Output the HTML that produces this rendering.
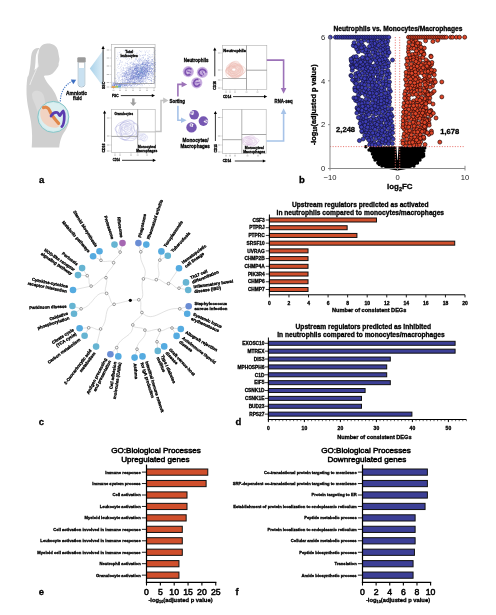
<!DOCTYPE html>
<html><head><meta charset="utf-8"><title>Figure</title><style>
html,body{margin:0;padding:0;background:#fff;}
body{width:496px;height:615px;overflow:hidden;}
svg{display:block;will-change:transform;}
text{font-family:"Liberation Sans",sans-serif;stroke:#000;stroke-width:0.3px;}
</style></head><body>
<svg width="496" height="615" viewBox="0 0 496 615">
<rect width="496" height="615" fill="#fff"/>
<text x="39.00" y="182.60" font-size="9.5" font-weight="bold" text-anchor="start" fill="#000" >a</text>
<text x="299.00" y="182.60" font-size="9.5" font-weight="bold" text-anchor="start" fill="#000" >b</text>
<text x="38.70" y="425.40" font-size="9.5" font-weight="bold" text-anchor="start" fill="#000" >c</text>
<text x="235.50" y="425.40" font-size="9.5" font-weight="bold" text-anchor="start" fill="#000" >d</text>
<text x="38.70" y="594.60" font-size="9.5" font-weight="bold" text-anchor="start" fill="#000" >e</text>
<text x="235.40" y="594.60" font-size="9.5" font-weight="bold" text-anchor="start" fill="#000" >f</text>
<defs>
<linearGradient id="fan" x1="0" y1="0" x2="1" y2="0"><stop offset="0" stop-color="#a9d2ea"/><stop offset="1" stop-color="#dcedf7"/></linearGradient>
<marker id="ah" viewBox="0 0 10 10" refX="8" refY="5" markerWidth="4" markerHeight="4" orient="auto"><path d="M0,0 L10,5 L0,10 z" fill="#000"/></marker>
</defs>
<path d="M47.2,43.4 C52.5,43.1 56.6,45.6 57.8,50 C58.5,53 58.9,56 59.4,58.5 C59.6,60.5 59,62 58.6,63.5 C59,65.5 58,67 56.8,68.4 C55.5,70.5 53,73.5 50.5,74.8 C48.5,75.6 45.5,75.4 43.8,76 C44.5,78 45.5,80 46.8,82 C49,85 51.5,87.5 53,90 C54.8,92.5 56,95 56.8,97.5 C57.5,100 58.5,101.5 60,103 C66,107 69.5,114 68.8,121.5 C68.2,127 64.5,131.5 62,136 C60.5,139.5 59.5,143.5 59.2,147.4 L31.7,147.4 C32.3,140 32.4,132 31,122 C29.5,113 27.8,107 27,100 C26.2,93 26.3,84 27.5,77 C30.5,72.5 35,70 38.5,66.5 C37.8,61 37.6,55 38.8,50.5 C40.4,46 43.3,43.7 47.2,43.6 Z" fill="#cfcfcf"/>
<path d="M39.5,48.2 C36,47.6 33,49.5 31.8,53 C30.6,57 31,63 30,68 C29,74 27.5,80 26.8,86.5 C29.5,82 32.5,76 34.3,71 C35.6,66 35.4,61 35.8,57 C36.1,53.6 37.5,50.5 39.5,48.2 Z" fill="#cfcfcf"/>
<path d="M38.2,50.5 C37,56 37.2,62 37.4,66.3 C36.5,70 33,76 29.8,85" stroke="#f4f4f4" stroke-width="0.8" fill="none"/>
<path d="M32,95 C32,91 36,90 39,91 C42,92 44,94 44.8,100 C45.5,106 45.8,114 45.3,120 L40,122 C38.5,114 36,106 33.5,101 C32.5,99 32,97 32,95 Z" fill="#dadada"/>
<circle cx="53.3" cy="116.9" r="15.5" fill="#d2eaec" stroke="#86c6c8" stroke-width="1"/>
<circle cx="53.3" cy="116.9" r="13.9" fill="#dbeff0"/>
<path d="M41,109 C43,106 47,106 49,109 C51,113 55,118 59,122 C60.5,124 59.5,127 57,127.5 C52,128.5 46,126 43,122 C40,118 39.5,112 41,109 Z" fill="#f1d3c2"/>
<path d="M43.5,107.6 C46,106.6 48.6,107.6 49.6,110.6 C50.8,114 53.8,118.2 58.6,123.3" stroke="#e0874a" stroke-width="3.2" fill="none" stroke-linecap="round"/>
<path d="M51,116 C52.5,113.5 55,112 57.2,112.5 C59,113.5 59.2,116 60,115.5 C61,114 62,111.5 63.2,111 C64.6,113 64.6,119 63.6,123 C63.1,125 62.4,126.2 61.8,126.6" stroke="#5b3db0" stroke-width="2.7" fill="none" stroke-linecap="round" stroke-linejoin="round"/>
<path d="M60.3,101.5 C60.5,92 65,84.5 72.2,81.3" stroke="#4a7ac6" stroke-width="1.1" stroke-dasharray="1.3,1.1" fill="none"/>
<path d="M76.2,79.8 L70.8,79.6 L73.3,84.2 Z" fill="#3c6fc2"/>
<path d="M78.2,62.3 L78.2,84.5 Q78.2,87 81.5,87 Q84.8,87 84.8,84.5 L84.8,62.3" fill="#fff" stroke="#8aa4b4" stroke-width="0.7"/>
<path d="M78.6,68 L84.4,68 L84.4,84.3 Q84.4,86.5 81.5,86.5 Q78.6,86.5 78.6,84.3 Z" fill="#c9e1f1"/>
<rect x="77.3" y="57.2" width="8.4" height="5.2" rx="1.2" fill="#9a9a9a"/>
<text x="66.10" y="94.77" font-size="5.6" font-weight="bold" fill="#000" textLength="20.90" lengthAdjust="spacingAndGlyphs">Amniotic</text>
<text x="73.10" y="100.47" font-size="5.6" font-weight="bold" fill="#000" textLength="8.60" lengthAdjust="spacingAndGlyphs">fluid</text>
<path d="M89.8,68.4 L103,50.4 L103,86.6 Z" fill="url(#fan)"/>
<rect x="111.3" y="44.6" width="43.8" height="43.2" fill="none" stroke="#b0b0b0" stroke-width="0.6"/>
<path d="M127.5,80.8h.55v.55h-.55zM135.0,68.1h.55v.55h-.55zM147.4,70.1h.55v.55h-.55zM146.0,72.1h.55v.55h-.55zM113.9,84.4h.55v.55h-.55zM148.5,58.2h.55v.55h-.55zM137.6,68.1h.55v.55h-.55zM126.8,83.8h.55v.55h-.55zM139.8,73.9h.55v.55h-.55zM116.5,58.4h.55v.55h-.55zM113.1,83.2h.55v.55h-.55zM154.0,65.5h.55v.55h-.55zM140.2,59.2h.55v.55h-.55zM129.7,76.6h.55v.55h-.55zM130.2,75.4h.55v.55h-.55zM122.0,79.2h.55v.55h-.55zM122.0,86.8h.55v.55h-.55zM122.7,81.6h.55v.55h-.55zM121.2,81.3h.55v.55h-.55zM147.5,70.8h.55v.55h-.55zM145.3,68.3h.55v.55h-.55zM138.7,74.1h.55v.55h-.55zM132.1,73.7h.55v.55h-.55zM151.5,68.4h.55v.55h-.55zM140.7,72.3h.55v.55h-.55zM144.2,72.2h.55v.55h-.55zM149.0,85.0h.55v.55h-.55zM125.1,58.2h.55v.55h-.55zM141.9,64.6h.55v.55h-.55zM133.2,77.4h.55v.55h-.55zM142.1,69.8h.55v.55h-.55zM138.3,60.3h.55v.55h-.55zM148.7,76.7h.55v.55h-.55zM119.9,86.5h.55v.55h-.55zM145.3,64.0h.55v.55h-.55zM141.6,67.2h.55v.55h-.55zM117.4,82.6h.55v.55h-.55zM143.6,68.9h.55v.55h-.55zM141.7,75.3h.55v.55h-.55zM135.2,82.5h.55v.55h-.55zM129.6,55.2h.55v.55h-.55zM134.6,69.3h.55v.55h-.55zM137.1,74.7h.55v.55h-.55zM147.6,62.6h.55v.55h-.55zM134.1,68.5h.55v.55h-.55zM140.2,70.8h.55v.55h-.55zM136.9,76.6h.55v.55h-.55zM128.5,69.7h.55v.55h-.55zM150.0,66.9h.55v.55h-.55zM142.7,73.9h.55v.55h-.55zM113.6,83.7h.55v.55h-.55zM139.6,65.6h.55v.55h-.55zM113.8,83.8h.55v.55h-.55zM152.7,74.3h.55v.55h-.55zM146.2,72.7h.55v.55h-.55zM144.9,76.5h.55v.55h-.55zM138.6,82.8h.55v.55h-.55zM147.4,62.1h.55v.55h-.55zM128.0,75.8h.55v.55h-.55zM141.4,71.4h.55v.55h-.55zM144.0,66.9h.55v.55h-.55zM129.7,76.8h.55v.55h-.55zM139.9,68.8h.55v.55h-.55zM150.5,71.6h.55v.55h-.55zM117.6,74.7h.55v.55h-.55zM135.5,81.0h.55v.55h-.55zM127.8,72.8h.55v.55h-.55zM132.9,76.3h.55v.55h-.55zM152.7,64.6h.55v.55h-.55zM141.6,72.5h.55v.55h-.55zM130.9,50.2h.55v.55h-.55zM127.5,83.8h.55v.55h-.55zM139.1,66.9h.55v.55h-.55zM146.8,62.1h.55v.55h-.55zM137.5,70.1h.55v.55h-.55zM116.3,86.0h.55v.55h-.55zM140.6,78.1h.55v.55h-.55zM151.7,60.3h.55v.55h-.55zM134.5,72.2h.55v.55h-.55zM138.1,67.4h.55v.55h-.55zM138.5,77.6h.55v.55h-.55zM128.9,72.7h.55v.55h-.55zM150.2,83.1h.55v.55h-.55zM145.4,58.7h.55v.55h-.55zM126.7,69.1h.55v.55h-.55zM125.7,81.9h.55v.55h-.55zM133.3,77.3h.55v.55h-.55zM122.5,82.3h.55v.55h-.55zM128.0,69.5h.55v.55h-.55zM131.6,76.2h.55v.55h-.55zM140.7,83.6h.55v.55h-.55zM139.0,60.7h.55v.55h-.55zM136.4,76.4h.55v.55h-.55zM155.0,76.1h.55v.55h-.55zM148.3,68.5h.55v.55h-.55zM128.6,71.2h.55v.55h-.55zM143.8,70.0h.55v.55h-.55zM124.5,86.0h.55v.55h-.55zM124.5,76.2h.55v.55h-.55zM116.7,85.4h.55v.55h-.55zM141.6,73.9h.55v.55h-.55zM148.7,73.9h.55v.55h-.55zM141.3,69.9h.55v.55h-.55zM140.5,51.2h.55v.55h-.55zM134.2,77.8h.55v.55h-.55zM139.9,72.6h.55v.55h-.55zM128.1,72.3h.55v.55h-.55zM112.8,82.4h.55v.55h-.55zM131.0,71.0h.55v.55h-.55zM136.4,67.0h.55v.55h-.55zM145.6,81.7h.55v.55h-.55zM148.1,57.8h.55v.55h-.55zM134.1,66.8h.55v.55h-.55zM122.7,70.2h.55v.55h-.55zM146.0,66.7h.55v.55h-.55zM142.6,70.3h.55v.55h-.55zM123.3,68.0h.55v.55h-.55zM131.9,69.9h.55v.55h-.55zM142.8,64.2h.55v.55h-.55zM146.8,61.0h.55v.55h-.55zM126.3,79.2h.55v.55h-.55zM135.2,82.1h.55v.55h-.55zM130.6,69.5h.55v.55h-.55zM132.7,63.9h.55v.55h-.55zM146.0,80.4h.55v.55h-.55zM124.6,85.8h.55v.55h-.55zM135.2,73.8h.55v.55h-.55zM141.5,68.6h.55v.55h-.55zM117.6,83.7h.55v.55h-.55zM142.8,76.3h.55v.55h-.55zM142.2,63.2h.55v.55h-.55zM132.4,72.5h.55v.55h-.55zM152.5,69.4h.55v.55h-.55zM134.0,83.6h.55v.55h-.55zM123.5,82.3h.55v.55h-.55zM131.3,82.4h.55v.55h-.55zM151.3,61.1h.55v.55h-.55zM152.4,66.4h.55v.55h-.55zM146.5,70.4h.55v.55h-.55zM127.6,80.0h.55v.55h-.55zM148.7,66.2h.55v.55h-.55zM128.9,58.5h.55v.55h-.55zM142.9,55.4h.55v.55h-.55zM124.1,71.9h.55v.55h-.55zM113.5,84.9h.55v.55h-.55zM124.4,50.8h.55v.55h-.55zM142.5,75.1h.55v.55h-.55zM142.6,73.0h.55v.55h-.55zM137.7,75.9h.55v.55h-.55zM151.3,73.0h.55v.55h-.55zM150.4,68.9h.55v.55h-.55zM139.2,69.0h.55v.55h-.55zM123.4,75.2h.55v.55h-.55zM145.0,74.3h.55v.55h-.55zM144.2,67.9h.55v.55h-.55zM143.4,71.5h.55v.55h-.55zM135.4,66.9h.55v.55h-.55zM153.8,73.2h.55v.55h-.55zM129.9,78.6h.55v.55h-.55zM140.0,82.4h.55v.55h-.55zM144.0,73.1h.55v.55h-.55zM133.0,77.2h.55v.55h-.55zM141.6,77.3h.55v.55h-.55zM144.7,59.6h.55v.55h-.55zM146.6,69.9h.55v.55h-.55zM147.1,74.0h.55v.55h-.55zM126.0,82.1h.55v.55h-.55zM136.5,81.0h.55v.55h-.55zM127.7,64.4h.55v.55h-.55zM130.4,73.3h.55v.55h-.55zM124.1,83.7h.55v.55h-.55zM139.5,58.1h.55v.55h-.55zM134.2,80.3h.55v.55h-.55zM136.9,67.5h.55v.55h-.55zM124.0,65.5h.55v.55h-.55zM147.9,73.7h.55v.55h-.55zM142.1,77.5h.55v.55h-.55zM129.8,78.1h.55v.55h-.55zM141.9,81.4h.55v.55h-.55zM139.8,68.8h.55v.55h-.55zM119.4,84.1h.55v.55h-.55zM127.0,79.1h.55v.55h-.55zM125.7,86.1h.55v.55h-.55zM135.9,70.8h.55v.55h-.55zM144.0,79.3h.55v.55h-.55zM127.6,82.2h.55v.55h-.55zM114.7,77.6h.55v.55h-.55zM138.2,69.9h.55v.55h-.55zM137.6,82.6h.55v.55h-.55zM136.7,70.0h.55v.55h-.55zM124.2,84.0h.55v.55h-.55zM140.0,78.5h.55v.55h-.55zM149.3,71.5h.55v.55h-.55zM118.7,74.9h.55v.55h-.55zM129.0,59.2h.55v.55h-.55zM114.7,78.5h.55v.55h-.55zM127.5,65.6h.55v.55h-.55zM118.9,80.2h.55v.55h-.55zM133.1,86.5h.55v.55h-.55zM124.3,84.5h.55v.55h-.55zM119.2,84.1h.55v.55h-.55zM130.6,73.3h.55v.55h-.55zM128.4,82.8h.55v.55h-.55zM132.9,83.9h.55v.55h-.55zM138.3,76.6h.55v.55h-.55zM126.5,70.3h.55v.55h-.55zM142.9,64.1h.55v.55h-.55zM130.5,69.1h.55v.55h-.55zM125.2,65.0h.55v.55h-.55zM146.1,64.6h.55v.55h-.55zM141.8,73.2h.55v.55h-.55zM137.4,67.7h.55v.55h-.55zM143.1,66.8h.55v.55h-.55zM151.1,80.3h.55v.55h-.55zM137.3,85.3h.55v.55h-.55zM144.1,74.8h.55v.55h-.55zM148.5,73.1h.55v.55h-.55zM128.7,74.1h.55v.55h-.55zM122.2,84.7h.55v.55h-.55zM134.4,69.0h.55v.55h-.55zM115.6,83.6h.55v.55h-.55zM133.9,82.5h.55v.55h-.55zM145.4,68.8h.55v.55h-.55zM137.3,71.4h.55v.55h-.55zM155.3,75.9h.55v.55h-.55zM136.4,66.6h.55v.55h-.55zM127.6,51.9h.55v.55h-.55zM131.4,62.3h.55v.55h-.55zM127.8,73.0h.55v.55h-.55zM141.3,72.2h.55v.55h-.55zM133.8,62.9h.55v.55h-.55zM137.2,75.0h.55v.55h-.55zM135.6,72.5h.55v.55h-.55zM144.2,74.8h.55v.55h-.55zM146.5,75.1h.55v.55h-.55zM133.9,52.9h.55v.55h-.55zM154.0,65.3h.55v.55h-.55zM128.2,71.9h.55v.55h-.55zM140.7,68.5h.55v.55h-.55zM134.1,81.2h.55v.55h-.55zM147.4,72.8h.55v.55h-.55zM154.6,69.1h.55v.55h-.55zM121.5,53.7h.55v.55h-.55zM128.6,78.0h.55v.55h-.55zM136.8,74.9h.55v.55h-.55zM132.8,73.1h.55v.55h-.55zM152.5,71.3h.55v.55h-.55zM126.3,76.6h.55v.55h-.55zM137.6,66.3h.55v.55h-.55zM129.2,81.1h.55v.55h-.55zM139.2,71.4h.55v.55h-.55zM139.4,82.3h.55v.55h-.55zM125.4,75.4h.55v.55h-.55zM123.3,57.1h.55v.55h-.55zM136.0,74.2h.55v.55h-.55zM126.1,71.7h.55v.55h-.55zM143.9,64.6h.55v.55h-.55zM140.0,66.8h.55v.55h-.55zM154.5,56.3h.55v.55h-.55zM141.4,70.2h.55v.55h-.55zM119.0,84.7h.55v.55h-.55zM141.6,75.4h.55v.55h-.55zM144.9,66.7h.55v.55h-.55zM136.0,78.4h.55v.55h-.55zM151.4,75.0h.55v.55h-.55zM130.8,84.3h.55v.55h-.55zM125.1,86.8h.55v.55h-.55zM120.5,67.3h.55v.55h-.55zM126.6,54.2h.55v.55h-.55zM143.3,78.0h.55v.55h-.55zM139.8,62.3h.55v.55h-.55zM151.1,68.6h.55v.55h-.55zM147.0,76.1h.55v.55h-.55zM114.6,84.7h.55v.55h-.55zM150.4,64.3h.55v.55h-.55zM149.3,69.4h.55v.55h-.55zM143.0,81.0h.55v.55h-.55zM146.6,67.3h.55v.55h-.55zM147.0,65.2h.55v.55h-.55zM135.9,74.1h.55v.55h-.55zM125.7,79.3h.55v.55h-.55zM119.4,67.9h.55v.55h-.55zM130.1,63.4h.55v.55h-.55zM135.2,72.8h.55v.55h-.55zM141.8,64.4h.55v.55h-.55zM152.5,59.4h.55v.55h-.55zM129.8,78.1h.55v.55h-.55zM146.0,68.9h.55v.55h-.55zM130.6,68.4h.55v.55h-.55zM148.6,66.9h.55v.55h-.55zM136.4,72.7h.55v.55h-.55zM123.1,70.0h.55v.55h-.55zM126.7,83.6h.55v.55h-.55zM143.6,70.4h.55v.55h-.55zM114.6,83.4h.55v.55h-.55zM130.1,79.5h.55v.55h-.55zM134.9,67.5h.55v.55h-.55zM134.6,78.5h.55v.55h-.55zM139.5,73.8h.55v.55h-.55zM127.1,85.8h.55v.55h-.55zM135.3,76.2h.55v.55h-.55zM124.7,78.0h.55v.55h-.55zM150.2,71.2h.55v.55h-.55zM129.7,69.3h.55v.55h-.55zM119.0,83.9h.55v.55h-.55zM136.3,65.5h.55v.55h-.55zM142.6,75.0h.55v.55h-.55zM120.7,75.2h.55v.55h-.55zM138.0,64.8h.55v.55h-.55z" fill="#4d5fc2" fill-opacity="0.42"/>
<path d="M114.2,85.4h.55v.55h-.55zM142.4,77.5h.55v.55h-.55zM138.5,81.2h.55v.55h-.55zM127.7,82.0h.55v.55h-.55zM149.8,79.4h.55v.55h-.55zM130.4,68.9h.55v.55h-.55zM127.6,72.4h.55v.55h-.55zM138.9,57.5h.55v.55h-.55zM153.5,60.9h.55v.55h-.55zM141.1,74.5h.55v.55h-.55zM129.5,58.5h.55v.55h-.55zM123.9,75.7h.55v.55h-.55zM148.9,71.6h.55v.55h-.55zM118.3,83.4h.55v.55h-.55zM127.5,84.5h.55v.55h-.55zM132.8,78.4h.55v.55h-.55zM147.9,59.7h.55v.55h-.55zM113.5,84.6h.55v.55h-.55zM147.0,60.6h.55v.55h-.55zM136.1,71.8h.55v.55h-.55zM143.9,61.9h.55v.55h-.55zM142.9,63.8h.55v.55h-.55zM123.4,55.5h.55v.55h-.55zM141.9,69.4h.55v.55h-.55zM133.2,65.6h.55v.55h-.55zM143.1,72.3h.55v.55h-.55zM121.1,85.0h.55v.55h-.55zM119.7,84.5h.55v.55h-.55zM144.9,60.8h.55v.55h-.55zM130.6,66.1h.55v.55h-.55zM133.1,70.6h.55v.55h-.55zM147.0,74.9h.55v.55h-.55zM136.5,77.5h.55v.55h-.55zM142.1,66.3h.55v.55h-.55zM140.8,69.2h.55v.55h-.55zM134.0,82.5h.55v.55h-.55zM134.4,68.6h.55v.55h-.55zM130.4,53.6h.55v.55h-.55zM140.0,85.3h.55v.55h-.55zM128.6,70.5h.55v.55h-.55zM135.5,82.0h.55v.55h-.55zM120.7,69.7h.55v.55h-.55zM131.6,76.1h.55v.55h-.55zM125.5,63.6h.55v.55h-.55zM130.2,77.3h.55v.55h-.55zM136.5,59.0h.55v.55h-.55zM147.3,70.9h.55v.55h-.55zM136.8,76.1h.55v.55h-.55zM133.0,66.0h.55v.55h-.55zM119.8,84.7h.55v.55h-.55zM137.9,77.8h.55v.55h-.55zM135.7,71.4h.55v.55h-.55zM129.1,70.3h.55v.55h-.55zM125.0,75.1h.55v.55h-.55zM146.7,68.8h.55v.55h-.55zM151.0,83.1h.55v.55h-.55zM116.9,56.3h.55v.55h-.55zM139.6,75.4h.55v.55h-.55zM120.6,72.3h.55v.55h-.55zM145.5,61.4h.55v.55h-.55zM124.8,78.5h.55v.55h-.55zM152.1,60.3h.55v.55h-.55zM142.5,68.5h.55v.55h-.55zM119.5,64.5h.55v.55h-.55zM113.7,82.7h.55v.55h-.55zM142.2,73.0h.55v.55h-.55zM136.0,78.7h.55v.55h-.55zM139.2,73.9h.55v.55h-.55zM139.2,59.9h.55v.55h-.55zM136.0,73.9h.55v.55h-.55zM149.6,67.7h.55v.55h-.55zM135.0,67.9h.55v.55h-.55zM150.9,56.8h.55v.55h-.55zM146.4,70.8h.55v.55h-.55zM137.2,80.4h.55v.55h-.55zM135.5,79.1h.55v.55h-.55zM143.6,75.6h.55v.55h-.55zM145.5,71.6h.55v.55h-.55zM139.2,77.2h.55v.55h-.55zM143.2,73.9h.55v.55h-.55zM132.8,62.0h.55v.55h-.55zM132.8,65.6h.55v.55h-.55zM124.0,83.5h.55v.55h-.55zM119.3,85.0h.55v.55h-.55zM135.7,68.1h.55v.55h-.55zM133.1,60.8h.55v.55h-.55zM114.8,84.4h.55v.55h-.55zM136.0,72.7h.55v.55h-.55zM135.3,73.6h.55v.55h-.55zM131.6,73.5h.55v.55h-.55zM134.2,73.3h.55v.55h-.55zM135.9,75.7h.55v.55h-.55zM143.2,54.0h.55v.55h-.55zM142.1,79.8h.55v.55h-.55zM129.5,74.0h.55v.55h-.55zM125.0,68.0h.55v.55h-.55zM122.7,67.4h.55v.55h-.55zM144.9,52.6h.55v.55h-.55zM130.5,80.2h.55v.55h-.55zM116.1,69.8h.55v.55h-.55zM134.0,84.9h.55v.55h-.55zM142.7,63.6h.55v.55h-.55zM130.5,62.8h.55v.55h-.55zM144.9,71.2h.55v.55h-.55zM119.9,84.8h.55v.55h-.55zM141.0,69.0h.55v.55h-.55zM143.7,64.2h.55v.55h-.55zM138.6,71.5h.55v.55h-.55zM136.1,84.7h.55v.55h-.55zM136.2,73.4h.55v.55h-.55zM135.1,83.4h.55v.55h-.55zM129.0,79.3h.55v.55h-.55zM134.6,72.8h.55v.55h-.55zM134.3,60.8h.55v.55h-.55zM132.6,70.0h.55v.55h-.55zM140.2,66.6h.55v.55h-.55zM141.8,62.8h.55v.55h-.55zM123.7,74.1h.55v.55h-.55zM123.5,83.3h.55v.55h-.55zM138.2,73.8h.55v.55h-.55zM137.4,71.1h.55v.55h-.55zM139.5,77.2h.55v.55h-.55zM146.3,72.8h.55v.55h-.55zM140.1,72.2h.55v.55h-.55zM147.3,69.9h.55v.55h-.55zM129.5,68.6h.55v.55h-.55zM146.1,60.5h.55v.55h-.55zM144.9,68.7h.55v.55h-.55zM141.3,70.5h.55v.55h-.55zM146.7,68.2h.55v.55h-.55zM131.0,70.2h.55v.55h-.55zM116.8,83.8h.55v.55h-.55zM154.6,62.6h.55v.55h-.55zM139.1,67.7h.55v.55h-.55zM123.6,83.2h.55v.55h-.55zM143.9,61.4h.55v.55h-.55zM153.2,71.8h.55v.55h-.55zM119.4,63.6h.55v.55h-.55zM120.4,61.9h.55v.55h-.55zM137.3,68.0h.55v.55h-.55zM130.3,78.8h.55v.55h-.55zM139.2,81.3h.55v.55h-.55zM138.2,76.8h.55v.55h-.55zM144.4,60.3h.55v.55h-.55zM143.0,61.7h.55v.55h-.55zM137.1,67.7h.55v.55h-.55zM119.1,85.4h.55v.55h-.55zM148.6,56.2h.55v.55h-.55zM142.7,70.7h.55v.55h-.55zM134.2,78.2h.55v.55h-.55zM144.3,83.0h.55v.55h-.55zM135.5,82.2h.55v.55h-.55zM119.2,78.4h.55v.55h-.55zM134.8,76.8h.55v.55h-.55zM155.4,54.3h.55v.55h-.55zM143.6,69.8h.55v.55h-.55zM143.2,69.7h.55v.55h-.55zM147.9,60.3h.55v.55h-.55zM147.5,58.9h.55v.55h-.55zM136.0,85.6h.55v.55h-.55zM139.4,76.2h.55v.55h-.55zM119.3,84.9h.55v.55h-.55zM148.1,62.1h.55v.55h-.55zM151.7,56.3h.55v.55h-.55zM128.6,80.4h.55v.55h-.55zM128.1,74.0h.55v.55h-.55zM119.7,83.7h.55v.55h-.55zM120.9,82.9h.55v.55h-.55zM149.4,60.6h.55v.55h-.55zM121.9,80.5h.55v.55h-.55zM142.1,63.2h.55v.55h-.55zM140.2,68.7h.55v.55h-.55zM141.8,76.8h.55v.55h-.55zM127.9,79.4h.55v.55h-.55zM134.0,76.3h.55v.55h-.55zM127.8,76.9h.55v.55h-.55zM145.6,66.8h.55v.55h-.55zM131.9,65.7h.55v.55h-.55zM154.1,65.9h.55v.55h-.55zM117.3,82.3h.55v.55h-.55zM130.9,73.4h.55v.55h-.55zM151.9,69.4h.55v.55h-.55zM144.6,73.8h.55v.55h-.55zM113.2,83.4h.55v.55h-.55zM125.1,74.1h.55v.55h-.55zM150.8,80.0h.55v.55h-.55zM147.0,65.4h.55v.55h-.55zM125.3,73.5h.55v.55h-.55zM127.1,82.8h.55v.55h-.55zM134.3,82.7h.55v.55h-.55zM126.1,83.8h.55v.55h-.55zM134.0,75.1h.55v.55h-.55zM133.7,70.2h.55v.55h-.55zM135.6,64.0h.55v.55h-.55zM141.1,82.6h.55v.55h-.55zM143.5,65.4h.55v.55h-.55zM136.7,67.0h.55v.55h-.55zM146.5,70.7h.55v.55h-.55zM135.1,59.5h.55v.55h-.55zM140.0,65.3h.55v.55h-.55zM152.0,59.1h.55v.55h-.55zM112.0,85.3h.55v.55h-.55zM140.2,80.6h.55v.55h-.55zM151.3,78.5h.55v.55h-.55zM129.9,76.4h.55v.55h-.55zM150.1,68.6h.55v.55h-.55zM141.4,80.6h.55v.55h-.55zM155.1,67.8h.55v.55h-.55zM149.2,54.3h.55v.55h-.55zM138.8,67.3h.55v.55h-.55zM122.1,72.5h.55v.55h-.55zM136.2,71.4h.55v.55h-.55zM136.7,63.9h.55v.55h-.55zM133.0,76.9h.55v.55h-.55zM135.2,77.6h.55v.55h-.55zM113.8,83.1h.55v.55h-.55zM127.4,84.2h.55v.55h-.55zM127.4,85.2h.55v.55h-.55zM142.3,79.7h.55v.55h-.55zM129.8,81.7h.55v.55h-.55zM145.6,64.0h.55v.55h-.55zM137.2,80.5h.55v.55h-.55zM129.6,84.3h.55v.55h-.55zM134.0,72.4h.55v.55h-.55zM148.2,75.5h.55v.55h-.55zM123.7,81.8h.55v.55h-.55zM126.3,55.3h.55v.55h-.55zM142.1,84.1h.55v.55h-.55zM138.1,79.6h.55v.55h-.55zM150.5,73.5h.55v.55h-.55zM148.5,61.4h.55v.55h-.55zM130.3,75.9h.55v.55h-.55zM120.7,76.7h.55v.55h-.55zM135.0,70.6h.55v.55h-.55zM154.2,65.3h.55v.55h-.55zM136.1,63.9h.55v.55h-.55zM113.9,84.9h.55v.55h-.55zM147.5,69.9h.55v.55h-.55zM152.2,63.1h.55v.55h-.55zM141.0,81.4h.55v.55h-.55zM128.8,73.6h.55v.55h-.55zM148.8,69.4h.55v.55h-.55zM148.2,73.2h.55v.55h-.55zM119.0,84.1h.55v.55h-.55zM146.9,67.3h.55v.55h-.55zM144.5,75.9h.55v.55h-.55zM136.7,72.4h.55v.55h-.55zM140.4,80.1h.55v.55h-.55zM134.6,77.8h.55v.55h-.55zM124.1,83.3h.55v.55h-.55zM152.9,64.3h.55v.55h-.55zM137.0,70.2h.55v.55h-.55zM134.4,51.5h.55v.55h-.55zM135.4,74.2h.55v.55h-.55zM147.8,76.8h.55v.55h-.55zM134.0,79.8h.55v.55h-.55zM130.4,75.9h.55v.55h-.55zM142.8,76.0h.55v.55h-.55zM138.9,80.3h.55v.55h-.55zM114.7,82.6h.55v.55h-.55zM136.0,68.8h.55v.55h-.55zM136.7,81.1h.55v.55h-.55zM127.5,84.9h.55v.55h-.55zM136.8,71.8h.55v.55h-.55zM143.1,67.1h.55v.55h-.55zM141.4,77.8h.55v.55h-.55zM135.9,68.9h.55v.55h-.55zM142.4,67.3h.55v.55h-.55zM146.7,62.7h.55v.55h-.55zM139.8,70.9h.55v.55h-.55zM145.0,63.8h.55v.55h-.55zM126.6,71.6h.55v.55h-.55zM155.1,60.2h.55v.55h-.55zM143.5,72.3h.55v.55h-.55zM154.5,66.5h.55v.55h-.55zM137.2,71.9h.55v.55h-.55zM137.6,84.5h.55v.55h-.55zM147.7,66.4h.55v.55h-.55zM132.4,74.2h.55v.55h-.55zM151.4,71.3h.55v.55h-.55zM125.2,83.4h.55v.55h-.55zM117.6,82.8h.55v.55h-.55zM136.9,73.5h.55v.55h-.55zM135.7,76.6h.55v.55h-.55zM142.5,68.0h.55v.55h-.55zM131.7,82.8h.55v.55h-.55zM129.0,83.9h.55v.55h-.55zM140.4,66.9h.55v.55h-.55zM138.3,76.2h.55v.55h-.55zM137.2,70.3h.55v.55h-.55zM148.8,70.5h.55v.55h-.55zM134.6,70.2h.55v.55h-.55zM137.2,67.1h.55v.55h-.55zM143.4,62.5h.55v.55h-.55zM137.0,74.4h.55v.55h-.55zM144.0,67.5h.55v.55h-.55zM114.3,85.2h.55v.55h-.55zM133.6,77.6h.55v.55h-.55zM129.1,79.4h.55v.55h-.55zM145.7,74.5h.55v.55h-.55zM120.1,84.8h.55v.55h-.55zM152.0,75.6h.55v.55h-.55zM154.3,83.7h.55v.55h-.55zM125.6,74.1h.55v.55h-.55zM135.1,74.2h.55v.55h-.55zM134.0,77.4h.55v.55h-.55zM148.1,73.9h.55v.55h-.55zM145.7,71.1h.55v.55h-.55zM150.5,75.3h.55v.55h-.55z" fill="#4d5fc2" fill-opacity="0.42"/>
<path d="M114.8,84.4h.55v.55h-.55zM126.3,71.6h.55v.55h-.55zM131.6,61.4h.55v.55h-.55zM132.0,70.7h.55v.55h-.55zM148.2,52.7h.55v.55h-.55zM148.9,68.8h.55v.55h-.55zM144.6,63.7h.55v.55h-.55zM132.2,73.1h.55v.55h-.55zM138.9,76.4h.55v.55h-.55zM144.7,75.1h.55v.55h-.55zM147.0,65.5h.55v.55h-.55zM134.5,77.5h.55v.55h-.55zM144.4,59.0h.55v.55h-.55zM136.2,65.6h.55v.55h-.55zM148.0,73.4h.55v.55h-.55zM133.5,72.2h.55v.55h-.55zM138.0,80.4h.55v.55h-.55zM136.7,77.7h.55v.55h-.55zM119.9,83.3h.55v.55h-.55zM140.6,72.6h.55v.55h-.55zM147.7,64.2h.55v.55h-.55zM142.4,72.3h.55v.55h-.55zM122.7,73.5h.55v.55h-.55zM129.1,73.6h.55v.55h-.55zM146.2,71.9h.55v.55h-.55zM144.0,70.7h.55v.55h-.55zM126.6,82.6h.55v.55h-.55zM127.5,73.7h.55v.55h-.55zM144.3,64.1h.55v.55h-.55zM143.4,68.5h.55v.55h-.55zM137.8,84.0h.55v.55h-.55zM146.4,61.4h.55v.55h-.55zM132.4,74.0h.55v.55h-.55zM131.6,81.5h.55v.55h-.55zM146.4,72.0h.55v.55h-.55zM142.9,75.9h.55v.55h-.55zM133.5,78.9h.55v.55h-.55zM152.3,60.6h.55v.55h-.55zM127.7,67.6h.55v.55h-.55zM151.8,80.9h.55v.55h-.55zM122.3,79.4h.55v.55h-.55zM121.1,84.2h.55v.55h-.55zM139.5,50.1h.55v.55h-.55zM127.4,75.2h.55v.55h-.55zM131.0,78.1h.55v.55h-.55zM154.0,65.5h.55v.55h-.55zM129.9,72.2h.55v.55h-.55zM145.9,83.3h.55v.55h-.55zM143.6,74.7h.55v.55h-.55zM134.9,65.0h.55v.55h-.55zM120.2,82.6h.55v.55h-.55zM132.1,79.5h.55v.55h-.55zM146.7,69.2h.55v.55h-.55zM140.7,82.7h.55v.55h-.55zM150.4,65.2h.55v.55h-.55zM144.8,68.2h.55v.55h-.55zM125.1,72.2h.55v.55h-.55zM153.3,63.4h.55v.55h-.55zM152.3,56.8h.55v.55h-.55zM140.5,73.3h.55v.55h-.55zM144.6,68.9h.55v.55h-.55zM149.4,67.7h.55v.55h-.55zM112.8,85.2h.55v.55h-.55zM140.1,79.5h.55v.55h-.55zM149.8,68.4h.55v.55h-.55zM128.7,73.9h.55v.55h-.55zM145.2,69.6h.55v.55h-.55zM138.4,69.3h.55v.55h-.55zM129.0,78.5h.55v.55h-.55zM144.2,69.9h.55v.55h-.55zM128.5,75.3h.55v.55h-.55zM137.1,71.2h.55v.55h-.55zM131.2,80.0h.55v.55h-.55zM141.8,67.7h.55v.55h-.55zM144.9,79.1h.55v.55h-.55zM151.4,78.5h.55v.55h-.55zM133.5,72.8h.55v.55h-.55zM141.3,73.6h.55v.55h-.55zM145.4,71.2h.55v.55h-.55zM137.6,76.7h.55v.55h-.55zM132.2,75.5h.55v.55h-.55zM129.6,73.7h.55v.55h-.55zM146.4,74.4h.55v.55h-.55zM119.3,83.1h.55v.55h-.55zM120.1,66.8h.55v.55h-.55zM137.7,77.7h.55v.55h-.55zM125.5,81.7h.55v.55h-.55zM126.4,70.3h.55v.55h-.55zM130.5,82.6h.55v.55h-.55zM129.4,69.4h.55v.55h-.55zM146.7,72.9h.55v.55h-.55zM151.7,61.8h.55v.55h-.55zM136.4,68.8h.55v.55h-.55zM113.6,87.2h.55v.55h-.55zM131.2,55.2h.55v.55h-.55zM139.6,70.4h.55v.55h-.55zM145.8,60.5h.55v.55h-.55zM146.2,71.1h.55v.55h-.55zM142.0,68.4h.55v.55h-.55zM141.8,70.9h.55v.55h-.55zM147.0,71.3h.55v.55h-.55zM135.3,66.3h.55v.55h-.55zM129.5,70.9h.55v.55h-.55zM148.1,71.2h.55v.55h-.55zM153.2,73.8h.55v.55h-.55zM129.9,81.7h.55v.55h-.55zM144.7,80.6h.55v.55h-.55zM151.8,68.9h.55v.55h-.55zM136.7,69.9h.55v.55h-.55zM135.6,80.6h.55v.55h-.55zM128.2,80.4h.55v.55h-.55zM133.6,84.5h.55v.55h-.55zM117.7,79.1h.55v.55h-.55zM145.6,78.4h.55v.55h-.55zM143.6,70.9h.55v.55h-.55zM124.3,75.9h.55v.55h-.55zM134.5,70.2h.55v.55h-.55zM144.5,73.9h.55v.55h-.55zM139.1,75.4h.55v.55h-.55zM141.0,72.9h.55v.55h-.55zM134.3,75.5h.55v.55h-.55zM134.6,82.8h.55v.55h-.55zM147.2,69.1h.55v.55h-.55zM135.1,69.4h.55v.55h-.55zM125.1,76.1h.55v.55h-.55zM130.0,65.7h.55v.55h-.55zM150.1,72.6h.55v.55h-.55zM140.2,74.5h.55v.55h-.55zM134.3,78.9h.55v.55h-.55zM150.4,67.4h.55v.55h-.55zM119.7,83.4h.55v.55h-.55zM132.8,70.3h.55v.55h-.55zM149.2,67.8h.55v.55h-.55zM146.4,65.6h.55v.55h-.55zM128.8,82.8h.55v.55h-.55zM125.3,75.8h.55v.55h-.55zM115.2,78.3h.55v.55h-.55zM126.1,74.9h.55v.55h-.55zM144.5,80.6h.55v.55h-.55zM144.7,68.1h.55v.55h-.55zM142.0,69.2h.55v.55h-.55zM143.1,57.7h.55v.55h-.55zM135.3,58.4h.55v.55h-.55zM114.5,84.2h.55v.55h-.55zM152.9,65.6h.55v.55h-.55zM137.1,68.8h.55v.55h-.55zM131.3,77.8h.55v.55h-.55zM138.8,75.2h.55v.55h-.55zM135.3,66.5h.55v.55h-.55zM129.1,66.6h.55v.55h-.55zM129.8,74.1h.55v.55h-.55zM140.1,65.5h.55v.55h-.55zM145.8,61.9h.55v.55h-.55zM124.1,78.4h.55v.55h-.55zM132.4,85.3h.55v.55h-.55zM135.1,64.7h.55v.55h-.55zM144.7,70.2h.55v.55h-.55zM154.7,63.8h.55v.55h-.55zM120.2,70.8h.55v.55h-.55zM138.2,73.6h.55v.55h-.55zM139.6,77.7h.55v.55h-.55zM148.4,66.3h.55v.55h-.55zM150.8,68.1h.55v.55h-.55zM130.9,75.7h.55v.55h-.55zM132.4,79.1h.55v.55h-.55zM135.3,67.2h.55v.55h-.55zM139.7,78.5h.55v.55h-.55zM144.3,63.8h.55v.55h-.55zM129.4,66.7h.55v.55h-.55zM143.3,79.9h.55v.55h-.55zM121.3,79.1h.55v.55h-.55zM125.8,75.7h.55v.55h-.55zM141.1,66.5h.55v.55h-.55zM144.1,66.4h.55v.55h-.55zM145.5,66.4h.55v.55h-.55zM147.5,71.3h.55v.55h-.55zM119.7,84.2h.55v.55h-.55zM142.6,75.0h.55v.55h-.55zM128.4,80.0h.55v.55h-.55zM136.2,73.3h.55v.55h-.55zM132.1,69.9h.55v.55h-.55zM148.1,79.5h.55v.55h-.55zM135.1,74.5h.55v.55h-.55zM119.3,63.6h.55v.55h-.55zM150.3,80.1h.55v.55h-.55zM150.2,65.2h.55v.55h-.55zM151.1,65.4h.55v.55h-.55zM135.8,66.3h.55v.55h-.55zM137.2,72.4h.55v.55h-.55zM128.0,80.8h.55v.55h-.55zM153.5,67.4h.55v.55h-.55zM135.6,68.2h.55v.55h-.55zM139.1,73.2h.55v.55h-.55zM147.6,68.9h.55v.55h-.55zM137.0,71.0h.55v.55h-.55zM125.9,85.1h.55v.55h-.55zM127.3,68.0h.55v.55h-.55zM131.5,81.6h.55v.55h-.55zM136.3,68.1h.55v.55h-.55zM132.2,84.5h.55v.55h-.55zM135.9,78.6h.55v.55h-.55zM147.7,69.3h.55v.55h-.55zM116.9,84.2h.55v.55h-.55zM142.4,76.8h.55v.55h-.55zM124.3,84.7h.55v.55h-.55zM127.8,66.9h.55v.55h-.55zM143.8,70.3h.55v.55h-.55zM121.7,85.7h.55v.55h-.55zM129.3,81.2h.55v.55h-.55zM125.9,84.3h.55v.55h-.55zM135.7,84.5h.55v.55h-.55zM142.3,67.2h.55v.55h-.55zM149.3,71.5h.55v.55h-.55zM139.8,75.7h.55v.55h-.55zM121.6,84.1h.55v.55h-.55zM119.0,85.7h.55v.55h-.55zM135.8,67.7h.55v.55h-.55zM151.3,73.3h.55v.55h-.55zM130.9,77.8h.55v.55h-.55zM144.3,68.5h.55v.55h-.55zM126.0,84.8h.55v.55h-.55zM132.3,78.6h.55v.55h-.55zM147.0,77.5h.55v.55h-.55zM119.9,83.9h.55v.55h-.55zM119.7,76.1h.55v.55h-.55zM154.7,71.0h.55v.55h-.55zM126.5,79.5h.55v.55h-.55zM131.4,67.1h.55v.55h-.55zM146.1,60.1h.55v.55h-.55zM127.6,78.3h.55v.55h-.55zM121.2,84.1h.55v.55h-.55zM132.7,77.2h.55v.55h-.55zM134.2,69.0h.55v.55h-.55zM141.4,70.8h.55v.55h-.55zM141.5,69.6h.55v.55h-.55zM145.2,69.9h.55v.55h-.55zM125.8,82.6h.55v.55h-.55zM113.2,84.5h.55v.55h-.55zM143.0,62.8h.55v.55h-.55zM142.3,64.1h.55v.55h-.55zM132.1,84.3h.55v.55h-.55zM123.8,82.8h.55v.55h-.55zM144.0,84.0h.55v.55h-.55zM142.6,74.8h.55v.55h-.55zM145.1,54.0h.55v.55h-.55zM112.5,84.3h.55v.55h-.55zM133.3,72.7h.55v.55h-.55zM144.4,61.3h.55v.55h-.55zM142.2,74.2h.55v.55h-.55zM124.7,84.4h.55v.55h-.55zM147.7,72.5h.55v.55h-.55zM127.3,56.5h.55v.55h-.55zM135.2,59.2h.55v.55h-.55zM146.3,67.8h.55v.55h-.55zM125.4,71.7h.55v.55h-.55zM154.3,58.9h.55v.55h-.55zM143.7,69.9h.55v.55h-.55zM143.2,73.2h.55v.55h-.55zM131.7,86.9h.55v.55h-.55zM138.7,63.3h.55v.55h-.55zM144.3,73.9h.55v.55h-.55zM140.8,77.7h.55v.55h-.55zM140.8,80.2h.55v.55h-.55zM154.0,70.7h.55v.55h-.55zM150.5,71.0h.55v.55h-.55zM138.4,77.1h.55v.55h-.55zM128.7,78.9h.55v.55h-.55zM142.3,64.2h.55v.55h-.55zM132.5,77.7h.55v.55h-.55zM134.5,69.2h.55v.55h-.55zM146.1,65.5h.55v.55h-.55zM134.6,77.3h.55v.55h-.55zM140.6,78.5h.55v.55h-.55zM152.9,68.5h.55v.55h-.55zM140.5,66.2h.55v.55h-.55zM145.4,75.6h.55v.55h-.55zM150.9,71.0h.55v.55h-.55zM131.3,64.2h.55v.55h-.55zM129.1,74.6h.55v.55h-.55zM151.3,63.3h.55v.55h-.55zM112.7,84.8h.55v.55h-.55zM139.6,55.8h.55v.55h-.55zM141.9,64.1h.55v.55h-.55zM135.8,76.0h.55v.55h-.55zM148.2,77.4h.55v.55h-.55zM127.6,79.8h.55v.55h-.55zM134.5,73.4h.55v.55h-.55zM140.7,67.9h.55v.55h-.55zM144.0,76.2h.55v.55h-.55zM137.6,75.0h.55v.55h-.55zM117.6,73.2h.55v.55h-.55zM153.5,70.8h.55v.55h-.55zM140.4,76.7h.55v.55h-.55zM149.8,64.1h.55v.55h-.55zM140.8,74.9h.55v.55h-.55zM115.8,78.2h.55v.55h-.55zM137.7,76.0h.55v.55h-.55zM149.1,65.7h.55v.55h-.55zM147.1,60.9h.55v.55h-.55zM139.2,74.7h.55v.55h-.55zM141.0,71.7h.55v.55h-.55zM127.4,74.5h.55v.55h-.55zM135.0,68.3h.55v.55h-.55zM123.5,83.0h.55v.55h-.55zM138.6,73.9h.55v.55h-.55zM128.7,70.1h.55v.55h-.55zM137.0,78.7h.55v.55h-.55zM129.9,67.6h.55v.55h-.55zM130.9,77.4h.55v.55h-.55z" fill="#4d5fc2" fill-opacity="0.42"/>
<path d="M131.6,80.1h.55v.55h-.55zM130.6,56.2h.55v.55h-.55zM136.8,65.6h.55v.55h-.55zM122.8,84.3h.55v.55h-.55zM142.3,69.6h.55v.55h-.55zM131.1,67.0h.55v.55h-.55zM135.9,67.2h.55v.55h-.55zM145.4,83.5h.55v.55h-.55zM131.0,72.5h.55v.55h-.55zM135.9,73.2h.55v.55h-.55zM153.5,52.5h.55v.55h-.55zM151.3,63.5h.55v.55h-.55zM146.3,60.3h.55v.55h-.55zM145.4,75.1h.55v.55h-.55zM131.6,75.7h.55v.55h-.55zM138.1,65.4h.55v.55h-.55zM148.1,62.5h.55v.55h-.55zM145.5,67.9h.55v.55h-.55zM147.5,70.0h.55v.55h-.55zM134.8,73.2h.55v.55h-.55zM135.9,82.8h.55v.55h-.55zM143.0,60.4h.55v.55h-.55zM147.6,60.8h.55v.55h-.55zM122.1,82.3h.55v.55h-.55zM144.3,74.2h.55v.55h-.55zM118.8,83.6h.55v.55h-.55zM124.8,81.7h.55v.55h-.55zM133.7,67.1h.55v.55h-.55zM128.3,69.9h.55v.55h-.55zM127.1,79.6h.55v.55h-.55zM144.5,75.3h.55v.55h-.55zM138.8,79.7h.55v.55h-.55zM112.5,81.8h.55v.55h-.55zM128.6,83.6h.55v.55h-.55zM142.0,71.1h.55v.55h-.55zM146.1,73.9h.55v.55h-.55zM134.1,61.5h.55v.55h-.55zM139.9,78.4h.55v.55h-.55zM129.1,73.7h.55v.55h-.55zM130.9,62.8h.55v.55h-.55zM132.1,82.9h.55v.55h-.55zM136.4,53.1h.55v.55h-.55zM140.2,67.6h.55v.55h-.55zM126.0,57.5h.55v.55h-.55zM141.5,78.2h.55v.55h-.55zM129.5,67.9h.55v.55h-.55zM141.2,59.8h.55v.55h-.55zM132.3,72.2h.55v.55h-.55zM142.3,75.9h.55v.55h-.55zM133.4,79.6h.55v.55h-.55zM140.8,82.8h.55v.55h-.55zM151.0,73.1h.55v.55h-.55zM137.3,72.6h.55v.55h-.55zM155.1,62.5h.55v.55h-.55zM134.7,68.9h.55v.55h-.55zM143.5,71.4h.55v.55h-.55zM129.8,78.3h.55v.55h-.55zM140.5,65.1h.55v.55h-.55zM144.9,76.7h.55v.55h-.55zM138.6,76.8h.55v.55h-.55zM140.2,73.2h.55v.55h-.55zM147.7,67.1h.55v.55h-.55zM124.4,73.6h.55v.55h-.55zM142.1,73.5h.55v.55h-.55zM138.4,67.1h.55v.55h-.55zM124.3,76.2h.55v.55h-.55zM134.8,84.2h.55v.55h-.55zM129.2,78.7h.55v.55h-.55zM155.5,62.1h.55v.55h-.55zM122.5,86.2h.55v.55h-.55zM145.3,73.8h.55v.55h-.55zM132.5,69.7h.55v.55h-.55zM135.5,78.7h.55v.55h-.55zM136.8,72.4h.55v.55h-.55zM121.2,74.1h.55v.55h-.55zM154.5,70.1h.55v.55h-.55zM143.7,69.6h.55v.55h-.55zM118.2,66.1h.55v.55h-.55zM140.9,71.8h.55v.55h-.55zM151.6,70.8h.55v.55h-.55zM143.4,75.9h.55v.55h-.55zM154.2,77.0h.55v.55h-.55zM130.1,81.9h.55v.55h-.55zM135.7,70.7h.55v.55h-.55zM129.9,68.2h.55v.55h-.55zM149.5,70.8h.55v.55h-.55zM128.3,81.9h.55v.55h-.55zM141.7,50.7h.55v.55h-.55zM119.9,83.7h.55v.55h-.55zM136.6,74.4h.55v.55h-.55zM142.4,72.1h.55v.55h-.55zM145.0,64.1h.55v.55h-.55zM152.3,54.4h.55v.55h-.55zM114.8,82.0h.55v.55h-.55zM140.3,82.9h.55v.55h-.55zM140.1,66.5h.55v.55h-.55zM133.5,72.2h.55v.55h-.55zM133.7,68.2h.55v.55h-.55zM146.0,72.9h.55v.55h-.55zM126.7,74.3h.55v.55h-.55zM141.1,64.7h.55v.55h-.55zM134.6,73.8h.55v.55h-.55zM126.3,85.1h.55v.55h-.55zM144.7,72.2h.55v.55h-.55zM143.1,56.8h.55v.55h-.55zM115.1,84.5h.55v.55h-.55zM128.6,76.5h.55v.55h-.55zM141.6,77.8h.55v.55h-.55zM143.4,64.5h.55v.55h-.55zM135.8,81.9h.55v.55h-.55zM151.0,73.7h.55v.55h-.55zM149.6,63.2h.55v.55h-.55zM140.9,75.0h.55v.55h-.55zM131.2,74.4h.55v.55h-.55zM154.2,82.5h.55v.55h-.55zM152.9,73.2h.55v.55h-.55zM139.5,73.7h.55v.55h-.55zM135.0,78.6h.55v.55h-.55zM135.4,66.3h.55v.55h-.55zM142.4,55.0h.55v.55h-.55zM136.3,73.9h.55v.55h-.55zM126.5,72.6h.55v.55h-.55zM133.8,75.7h.55v.55h-.55zM131.7,75.6h.55v.55h-.55zM133.2,78.0h.55v.55h-.55zM131.2,78.5h.55v.55h-.55zM138.5,64.5h.55v.55h-.55zM142.4,76.4h.55v.55h-.55zM136.8,77.8h.55v.55h-.55zM146.0,75.9h.55v.55h-.55zM129.3,73.3h.55v.55h-.55zM120.6,85.5h.55v.55h-.55zM151.2,70.3h.55v.55h-.55zM134.3,72.9h.55v.55h-.55zM126.4,85.4h.55v.55h-.55zM131.2,78.3h.55v.55h-.55zM135.2,69.3h.55v.55h-.55zM145.3,80.3h.55v.55h-.55zM151.4,75.8h.55v.55h-.55zM125.4,74.0h.55v.55h-.55zM132.5,76.0h.55v.55h-.55zM148.0,83.7h.55v.55h-.55zM140.0,55.6h.55v.55h-.55zM144.7,70.7h.55v.55h-.55zM114.0,85.4h.55v.55h-.55zM146.5,60.7h.55v.55h-.55zM135.4,76.0h.55v.55h-.55zM147.2,71.0h.55v.55h-.55zM149.8,65.4h.55v.55h-.55zM141.3,70.5h.55v.55h-.55zM141.8,72.8h.55v.55h-.55zM134.3,69.4h.55v.55h-.55zM139.3,71.6h.55v.55h-.55zM144.3,66.6h.55v.55h-.55zM120.3,85.4h.55v.55h-.55zM137.6,77.9h.55v.55h-.55zM112.5,87.2h.55v.55h-.55zM142.8,81.9h.55v.55h-.55zM126.2,77.6h.55v.55h-.55zM131.0,85.4h.55v.55h-.55zM142.0,78.5h.55v.55h-.55zM138.8,76.6h.55v.55h-.55zM144.7,54.9h.55v.55h-.55zM139.0,70.1h.55v.55h-.55zM138.6,64.3h.55v.55h-.55zM128.6,71.6h.55v.55h-.55zM143.1,65.4h.55v.55h-.55zM136.5,68.2h.55v.55h-.55zM115.9,83.9h.55v.55h-.55zM147.3,64.8h.55v.55h-.55zM123.8,85.3h.55v.55h-.55zM138.0,73.9h.55v.55h-.55zM133.5,72.0h.55v.55h-.55zM143.1,68.3h.55v.55h-.55zM140.0,83.1h.55v.55h-.55zM152.5,69.0h.55v.55h-.55zM123.3,72.2h.55v.55h-.55zM118.0,76.0h.55v.55h-.55zM150.4,71.7h.55v.55h-.55zM130.6,84.3h.55v.55h-.55zM130.3,73.2h.55v.55h-.55zM138.7,73.6h.55v.55h-.55zM142.3,71.9h.55v.55h-.55zM144.2,71.2h.55v.55h-.55zM131.1,75.0h.55v.55h-.55zM151.2,71.6h.55v.55h-.55zM147.5,78.7h.55v.55h-.55zM133.1,83.1h.55v.55h-.55zM132.4,68.3h.55v.55h-.55zM139.4,76.5h.55v.55h-.55zM133.1,84.8h.55v.55h-.55zM136.0,69.3h.55v.55h-.55zM140.3,77.9h.55v.55h-.55zM132.5,82.0h.55v.55h-.55zM146.4,77.0h.55v.55h-.55zM130.9,78.4h.55v.55h-.55zM113.1,86.1h.55v.55h-.55zM137.0,75.2h.55v.55h-.55zM128.9,80.0h.55v.55h-.55zM148.5,74.2h.55v.55h-.55zM138.8,65.7h.55v.55h-.55zM137.3,83.6h.55v.55h-.55zM144.6,66.9h.55v.55h-.55zM134.7,64.1h.55v.55h-.55zM146.5,66.7h.55v.55h-.55zM144.2,70.3h.55v.55h-.55zM134.8,66.6h.55v.55h-.55zM131.1,78.9h.55v.55h-.55zM125.1,67.2h.55v.55h-.55zM128.9,82.0h.55v.55h-.55zM148.8,67.0h.55v.55h-.55zM133.1,76.1h.55v.55h-.55zM136.6,79.7h.55v.55h-.55zM132.4,67.6h.55v.55h-.55zM130.5,71.5h.55v.55h-.55zM130.5,75.9h.55v.55h-.55zM128.2,80.0h.55v.55h-.55zM134.5,78.0h.55v.55h-.55zM126.2,74.2h.55v.55h-.55zM126.3,56.7h.55v.55h-.55zM126.2,83.9h.55v.55h-.55zM135.1,78.6h.55v.55h-.55zM122.4,73.5h.55v.55h-.55zM129.8,65.7h.55v.55h-.55zM132.8,64.2h.55v.55h-.55zM134.5,75.7h.55v.55h-.55zM126.6,75.5h.55v.55h-.55zM118.7,72.5h.55v.55h-.55zM154.4,80.0h.55v.55h-.55zM134.5,76.7h.55v.55h-.55zM142.2,75.0h.55v.55h-.55zM138.9,79.4h.55v.55h-.55zM142.4,74.9h.55v.55h-.55zM145.5,67.6h.55v.55h-.55zM132.9,82.3h.55v.55h-.55zM141.8,81.4h.55v.55h-.55zM132.7,81.1h.55v.55h-.55zM133.9,82.8h.55v.55h-.55zM131.3,72.8h.55v.55h-.55zM143.7,76.8h.55v.55h-.55zM113.8,84.0h.55v.55h-.55zM140.3,67.6h.55v.55h-.55zM141.1,75.3h.55v.55h-.55zM145.9,63.6h.55v.55h-.55zM144.6,68.6h.55v.55h-.55zM151.7,59.1h.55v.55h-.55zM125.4,52.3h.55v.55h-.55zM135.5,82.3h.55v.55h-.55zM139.0,63.4h.55v.55h-.55zM147.2,66.5h.55v.55h-.55zM135.6,74.3h.55v.55h-.55zM134.1,65.9h.55v.55h-.55zM118.2,63.9h.55v.55h-.55zM140.1,78.9h.55v.55h-.55zM129.8,69.8h.55v.55h-.55zM128.9,84.9h.55v.55h-.55zM122.6,76.3h.55v.55h-.55zM135.0,73.2h.55v.55h-.55zM126.3,73.6h.55v.55h-.55zM142.0,73.1h.55v.55h-.55zM128.7,72.5h.55v.55h-.55zM127.6,81.8h.55v.55h-.55zM149.2,79.5h.55v.55h-.55zM137.2,71.2h.55v.55h-.55zM141.5,76.6h.55v.55h-.55zM131.1,73.2h.55v.55h-.55zM132.3,78.8h.55v.55h-.55zM145.5,63.3h.55v.55h-.55zM145.7,65.1h.55v.55h-.55zM147.4,81.7h.55v.55h-.55zM123.4,74.6h.55v.55h-.55zM122.5,61.0h.55v.55h-.55zM133.2,75.0h.55v.55h-.55zM141.4,77.5h.55v.55h-.55zM146.8,68.2h.55v.55h-.55zM148.9,63.2h.55v.55h-.55zM120.4,85.6h.55v.55h-.55zM141.0,77.5h.55v.55h-.55zM148.5,62.0h.55v.55h-.55zM124.4,75.8h.55v.55h-.55zM139.8,82.0h.55v.55h-.55zM132.3,72.5h.55v.55h-.55zM142.3,71.9h.55v.55h-.55zM134.1,79.3h.55v.55h-.55zM143.5,62.3h.55v.55h-.55zM131.5,75.6h.55v.55h-.55zM134.0,85.5h.55v.55h-.55zM131.1,59.0h.55v.55h-.55zM113.8,84.3h.55v.55h-.55zM124.0,75.1h.55v.55h-.55zM133.1,70.1h.55v.55h-.55zM122.2,77.6h.55v.55h-.55zM140.3,82.1h.55v.55h-.55zM133.7,68.7h.55v.55h-.55zM142.2,76.5h.55v.55h-.55zM132.6,72.8h.55v.55h-.55zM138.9,74.4h.55v.55h-.55zM140.5,73.4h.55v.55h-.55zM140.5,64.8h.55v.55h-.55zM137.4,76.6h.55v.55h-.55zM136.8,74.0h.55v.55h-.55zM117.3,86.7h.55v.55h-.55zM148.6,67.2h.55v.55h-.55zM126.2,79.4h.55v.55h-.55zM136.4,78.0h.55v.55h-.55zM144.5,71.6h.55v.55h-.55zM136.1,69.1h.55v.55h-.55zM138.0,71.2h.55v.55h-.55zM124.5,75.4h.55v.55h-.55z" fill="#4d5fc2" fill-opacity="0.42"/>
<path d="M137.2,66.2h.55v.55h-.55zM130.7,79.3h.55v.55h-.55zM133.5,73.4h.55v.55h-.55zM136.3,79.2h.55v.55h-.55zM136.4,69.5h.55v.55h-.55zM127.5,76.0h.55v.55h-.55zM137.2,69.4h.55v.55h-.55zM140.9,75.7h.55v.55h-.55zM144.5,64.9h.55v.55h-.55zM138.5,69.7h.55v.55h-.55zM133.4,82.2h.55v.55h-.55zM140.6,74.7h.55v.55h-.55zM136.0,73.7h.55v.55h-.55zM143.9,71.9h.55v.55h-.55zM142.3,68.2h.55v.55h-.55zM147.7,71.3h.55v.55h-.55zM134.0,80.6h.55v.55h-.55zM143.4,71.3h.55v.55h-.55zM145.7,78.0h.55v.55h-.55zM126.1,84.6h.55v.55h-.55zM126.9,77.7h.55v.55h-.55zM147.2,65.3h.55v.55h-.55zM117.4,86.4h.55v.55h-.55zM129.1,81.9h.55v.55h-.55zM154.0,70.2h.55v.55h-.55zM120.4,80.5h.55v.55h-.55zM140.2,67.6h.55v.55h-.55zM119.2,52.1h.55v.55h-.55zM130.3,67.2h.55v.55h-.55zM154.7,71.6h.55v.55h-.55zM143.8,71.5h.55v.55h-.55zM121.0,76.7h.55v.55h-.55zM128.2,72.9h.55v.55h-.55zM125.1,79.3h.55v.55h-.55zM135.0,76.5h.55v.55h-.55zM152.4,68.6h.55v.55h-.55zM139.2,63.6h.55v.55h-.55zM138.4,74.5h.55v.55h-.55zM138.5,68.7h.55v.55h-.55zM128.7,68.8h.55v.55h-.55zM122.6,76.3h.55v.55h-.55zM133.9,64.7h.55v.55h-.55zM116.5,84.0h.55v.55h-.55zM141.8,54.7h.55v.55h-.55zM143.0,69.3h.55v.55h-.55zM114.5,84.9h.55v.55h-.55zM141.3,70.7h.55v.55h-.55zM144.8,64.8h.55v.55h-.55zM140.0,72.6h.55v.55h-.55zM133.8,82.3h.55v.55h-.55zM133.3,78.3h.55v.55h-.55zM130.2,69.4h.55v.55h-.55zM125.3,73.1h.55v.55h-.55zM139.0,72.8h.55v.55h-.55zM141.7,85.6h.55v.55h-.55zM151.1,64.4h.55v.55h-.55zM132.2,81.8h.55v.55h-.55zM153.0,63.5h.55v.55h-.55zM126.3,77.2h.55v.55h-.55zM146.7,71.0h.55v.55h-.55zM135.2,75.4h.55v.55h-.55zM130.6,69.2h.55v.55h-.55zM141.4,79.4h.55v.55h-.55zM121.3,62.4h.55v.55h-.55zM140.7,74.8h.55v.55h-.55zM142.6,72.9h.55v.55h-.55zM116.7,84.0h.55v.55h-.55zM116.9,83.8h.55v.55h-.55zM130.2,63.2h.55v.55h-.55zM148.9,69.6h.55v.55h-.55zM130.5,56.0h.55v.55h-.55zM146.7,69.4h.55v.55h-.55zM139.7,80.8h.55v.55h-.55zM130.6,81.0h.55v.55h-.55zM152.1,73.9h.55v.55h-.55zM146.1,65.9h.55v.55h-.55zM138.3,66.6h.55v.55h-.55zM151.2,74.3h.55v.55h-.55zM128.3,53.8h.55v.55h-.55zM154.5,78.2h.55v.55h-.55zM145.4,70.5h.55v.55h-.55zM124.8,79.9h.55v.55h-.55zM136.9,84.5h.55v.55h-.55zM152.3,68.4h.55v.55h-.55zM144.6,64.3h.55v.55h-.55zM140.5,64.5h.55v.55h-.55zM137.9,76.6h.55v.55h-.55zM152.5,65.5h.55v.55h-.55zM146.2,72.2h.55v.55h-.55zM125.8,55.5h.55v.55h-.55zM135.7,69.6h.55v.55h-.55zM138.1,67.5h.55v.55h-.55zM148.0,62.8h.55v.55h-.55zM132.7,72.2h.55v.55h-.55zM121.1,84.7h.55v.55h-.55zM125.2,82.8h.55v.55h-.55zM140.2,70.4h.55v.55h-.55zM129.9,76.2h.55v.55h-.55zM152.6,64.0h.55v.55h-.55zM127.2,74.2h.55v.55h-.55zM144.1,73.3h.55v.55h-.55zM136.4,70.0h.55v.55h-.55zM137.9,73.1h.55v.55h-.55zM119.1,79.5h.55v.55h-.55zM142.9,74.4h.55v.55h-.55zM134.0,68.0h.55v.55h-.55zM144.6,63.5h.55v.55h-.55zM138.1,64.9h.55v.55h-.55zM126.1,67.8h.55v.55h-.55zM143.3,57.3h.55v.55h-.55zM143.3,82.6h.55v.55h-.55zM138.8,70.9h.55v.55h-.55zM131.6,75.6h.55v.55h-.55zM116.5,80.4h.55v.55h-.55zM151.7,68.1h.55v.55h-.55zM130.1,78.2h.55v.55h-.55zM143.2,77.1h.55v.55h-.55zM127.4,63.3h.55v.55h-.55zM151.8,61.2h.55v.55h-.55zM143.0,60.9h.55v.55h-.55zM142.5,55.3h.55v.55h-.55zM145.3,76.0h.55v.55h-.55zM149.2,76.5h.55v.55h-.55zM119.7,74.5h.55v.55h-.55zM132.1,77.6h.55v.55h-.55zM141.1,81.0h.55v.55h-.55zM148.2,67.1h.55v.55h-.55zM112.0,85.0h.55v.55h-.55zM118.3,77.5h.55v.55h-.55zM143.4,75.0h.55v.55h-.55zM128.6,53.6h.55v.55h-.55zM113.9,85.2h.55v.55h-.55zM138.6,70.4h.55v.55h-.55zM133.8,72.3h.55v.55h-.55zM120.1,84.7h.55v.55h-.55zM124.0,83.6h.55v.55h-.55zM118.4,84.6h.55v.55h-.55zM152.0,72.4h.55v.55h-.55zM129.7,73.8h.55v.55h-.55zM138.7,68.0h.55v.55h-.55zM136.4,66.2h.55v.55h-.55zM131.3,68.2h.55v.55h-.55zM132.6,82.7h.55v.55h-.55zM135.5,76.0h.55v.55h-.55zM136.2,79.1h.55v.55h-.55zM122.4,81.3h.55v.55h-.55zM133.4,78.8h.55v.55h-.55zM130.7,80.2h.55v.55h-.55zM126.7,78.8h.55v.55h-.55zM145.5,73.2h.55v.55h-.55zM151.7,74.8h.55v.55h-.55zM138.2,77.9h.55v.55h-.55zM131.3,81.2h.55v.55h-.55zM134.9,72.4h.55v.55h-.55zM137.2,74.6h.55v.55h-.55zM135.3,64.9h.55v.55h-.55zM140.1,73.1h.55v.55h-.55zM152.3,61.5h.55v.55h-.55zM135.1,66.1h.55v.55h-.55zM136.8,65.0h.55v.55h-.55zM128.8,79.2h.55v.55h-.55zM147.7,68.0h.55v.55h-.55zM142.8,66.7h.55v.55h-.55zM124.6,81.1h.55v.55h-.55zM130.1,70.3h.55v.55h-.55zM131.4,77.9h.55v.55h-.55zM135.2,84.5h.55v.55h-.55zM142.5,66.2h.55v.55h-.55zM148.4,60.6h.55v.55h-.55zM135.8,58.4h.55v.55h-.55zM140.6,67.9h.55v.55h-.55zM138.2,79.7h.55v.55h-.55zM141.8,69.6h.55v.55h-.55zM148.7,63.3h.55v.55h-.55zM144.6,54.3h.55v.55h-.55zM147.4,58.2h.55v.55h-.55zM122.1,84.2h.55v.55h-.55zM137.1,68.5h.55v.55h-.55zM122.2,86.3h.55v.55h-.55zM148.1,60.6h.55v.55h-.55zM135.9,83.3h.55v.55h-.55zM142.8,63.2h.55v.55h-.55zM139.8,75.9h.55v.55h-.55zM133.7,71.5h.55v.55h-.55zM112.4,83.1h.55v.55h-.55zM152.7,73.5h.55v.55h-.55zM129.9,83.5h.55v.55h-.55zM132.4,70.2h.55v.55h-.55zM141.2,72.2h.55v.55h-.55zM136.1,59.4h.55v.55h-.55zM137.1,77.4h.55v.55h-.55zM138.4,67.9h.55v.55h-.55zM132.0,78.7h.55v.55h-.55zM149.2,66.7h.55v.55h-.55zM124.5,85.8h.55v.55h-.55zM144.3,75.3h.55v.55h-.55zM132.9,63.6h.55v.55h-.55zM149.2,81.4h.55v.55h-.55zM124.8,71.4h.55v.55h-.55zM138.1,69.5h.55v.55h-.55zM139.0,54.0h.55v.55h-.55zM134.4,70.4h.55v.55h-.55zM131.2,80.9h.55v.55h-.55zM136.4,72.9h.55v.55h-.55zM131.9,82.9h.55v.55h-.55zM149.4,71.2h.55v.55h-.55zM134.4,76.7h.55v.55h-.55zM139.1,84.1h.55v.55h-.55zM123.5,76.3h.55v.55h-.55zM133.4,76.9h.55v.55h-.55zM126.8,67.8h.55v.55h-.55zM139.6,80.1h.55v.55h-.55zM153.5,74.1h.55v.55h-.55zM150.5,67.0h.55v.55h-.55zM117.8,83.9h.55v.55h-.55zM137.2,74.3h.55v.55h-.55zM121.9,72.6h.55v.55h-.55zM149.3,73.7h.55v.55h-.55zM139.2,74.1h.55v.55h-.55zM137.0,72.2h.55v.55h-.55zM136.6,74.7h.55v.55h-.55zM112.8,83.1h.55v.55h-.55zM151.7,73.5h.55v.55h-.55zM121.8,80.2h.55v.55h-.55zM147.5,71.2h.55v.55h-.55zM144.8,72.4h.55v.55h-.55zM115.3,83.2h.55v.55h-.55zM126.6,75.9h.55v.55h-.55zM120.3,82.6h.55v.55h-.55zM129.2,81.3h.55v.55h-.55zM131.2,76.8h.55v.55h-.55zM123.5,86.5h.55v.55h-.55zM134.2,74.5h.55v.55h-.55zM132.1,79.8h.55v.55h-.55zM141.6,78.6h.55v.55h-.55zM123.4,56.7h.55v.55h-.55zM132.1,77.6h.55v.55h-.55zM136.3,81.4h.55v.55h-.55zM136.9,78.6h.55v.55h-.55zM124.7,72.5h.55v.55h-.55zM135.3,77.2h.55v.55h-.55zM154.0,57.4h.55v.55h-.55zM149.8,68.9h.55v.55h-.55zM135.6,69.3h.55v.55h-.55zM141.5,64.4h.55v.55h-.55zM128.6,75.7h.55v.55h-.55zM150.8,68.3h.55v.55h-.55zM122.5,81.2h.55v.55h-.55zM146.0,74.7h.55v.55h-.55zM140.4,65.4h.55v.55h-.55zM139.9,68.1h.55v.55h-.55zM151.5,64.7h.55v.55h-.55zM134.1,68.8h.55v.55h-.55zM138.3,77.5h.55v.55h-.55zM141.3,68.6h.55v.55h-.55zM144.2,63.9h.55v.55h-.55zM132.2,77.6h.55v.55h-.55zM150.5,69.2h.55v.55h-.55zM153.5,67.8h.55v.55h-.55zM134.1,76.9h.55v.55h-.55zM141.9,66.4h.55v.55h-.55zM144.9,63.9h.55v.55h-.55zM141.1,84.1h.55v.55h-.55zM127.8,72.5h.55v.55h-.55zM133.3,76.5h.55v.55h-.55zM120.4,84.4h.55v.55h-.55zM146.2,68.1h.55v.55h-.55zM141.4,78.6h.55v.55h-.55zM135.9,76.9h.55v.55h-.55zM147.1,77.1h.55v.55h-.55zM131.9,77.4h.55v.55h-.55zM145.7,74.9h.55v.55h-.55zM125.9,77.2h.55v.55h-.55zM151.0,63.4h.55v.55h-.55zM135.1,72.9h.55v.55h-.55zM142.5,81.5h.55v.55h-.55zM145.8,62.0h.55v.55h-.55zM154.6,58.4h.55v.55h-.55zM135.1,73.4h.55v.55h-.55zM152.4,68.3h.55v.55h-.55zM132.9,70.2h.55v.55h-.55zM137.5,71.7h.55v.55h-.55zM144.8,77.9h.55v.55h-.55zM133.1,74.6h.55v.55h-.55zM140.0,74.0h.55v.55h-.55zM144.9,59.4h.55v.55h-.55zM141.2,75.1h.55v.55h-.55zM138.2,71.1h.55v.55h-.55zM134.7,84.2h.55v.55h-.55zM147.1,67.4h.55v.55h-.55zM144.6,66.9h.55v.55h-.55zM148.3,73.6h.55v.55h-.55zM136.4,71.1h.55v.55h-.55zM132.2,72.1h.55v.55h-.55zM130.7,80.8h.55v.55h-.55zM137.3,84.7h.55v.55h-.55zM139.7,70.0h.55v.55h-.55zM132.5,70.0h.55v.55h-.55zM147.0,62.8h.55v.55h-.55zM135.8,69.4h.55v.55h-.55zM113.8,85.8h.55v.55h-.55zM149.4,66.6h.55v.55h-.55zM142.9,78.9h.55v.55h-.55zM141.4,77.2h.55v.55h-.55zM138.5,81.4h.55v.55h-.55zM142.9,67.0h.55v.55h-.55zM140.4,75.1h.55v.55h-.55zM147.8,73.3h.55v.55h-.55zM121.7,71.5h.55v.55h-.55z" fill="#4d5fc2" fill-opacity="0.42"/>
<path d="M125.8,73.6h.55v.55h-.55zM137.5,61.4h.55v.55h-.55zM131.7,62.0h.55v.55h-.55zM149.6,72.2h.55v.55h-.55zM133.4,83.5h.55v.55h-.55zM150.7,79.3h.55v.55h-.55zM144.9,64.6h.55v.55h-.55zM140.5,62.9h.55v.55h-.55zM129.9,54.0h.55v.55h-.55zM147.0,57.7h.55v.55h-.55zM140.6,79.5h.55v.55h-.55zM146.0,68.8h.55v.55h-.55zM136.1,83.0h.55v.55h-.55zM149.0,69.9h.55v.55h-.55zM124.2,73.3h.55v.55h-.55zM138.0,76.1h.55v.55h-.55zM145.9,76.1h.55v.55h-.55zM136.8,78.6h.55v.55h-.55zM124.2,82.0h.55v.55h-.55zM147.3,70.5h.55v.55h-.55zM146.7,65.2h.55v.55h-.55zM130.0,79.2h.55v.55h-.55zM144.9,71.4h.55v.55h-.55zM148.4,71.2h.55v.55h-.55zM136.6,65.6h.55v.55h-.55zM130.7,74.7h.55v.55h-.55zM148.0,77.4h.55v.55h-.55zM138.6,72.8h.55v.55h-.55zM120.4,57.2h.55v.55h-.55zM151.6,70.2h.55v.55h-.55zM149.3,68.7h.55v.55h-.55zM138.4,55.0h.55v.55h-.55zM122.9,86.5h.55v.55h-.55zM141.2,72.9h.55v.55h-.55zM141.4,64.6h.55v.55h-.55zM145.2,62.6h.55v.55h-.55zM138.5,70.3h.55v.55h-.55zM115.8,82.5h.55v.55h-.55zM132.4,76.6h.55v.55h-.55zM141.3,63.7h.55v.55h-.55zM149.4,62.5h.55v.55h-.55zM138.8,66.0h.55v.55h-.55zM146.0,72.7h.55v.55h-.55zM130.0,61.9h.55v.55h-.55zM114.7,85.1h.55v.55h-.55zM121.7,79.6h.55v.55h-.55zM126.5,77.4h.55v.55h-.55zM126.0,72.2h.55v.55h-.55zM126.3,77.1h.55v.55h-.55zM145.1,58.5h.55v.55h-.55zM145.8,70.2h.55v.55h-.55zM130.3,85.1h.55v.55h-.55zM128.7,78.7h.55v.55h-.55zM130.9,78.1h.55v.55h-.55zM143.2,58.2h.55v.55h-.55zM122.2,79.8h.55v.55h-.55zM134.0,83.6h.55v.55h-.55zM150.7,80.8h.55v.55h-.55zM131.4,79.3h.55v.55h-.55zM131.3,76.7h.55v.55h-.55zM123.9,73.5h.55v.55h-.55zM139.3,76.2h.55v.55h-.55zM128.2,82.4h.55v.55h-.55zM146.8,70.4h.55v.55h-.55zM146.9,71.9h.55v.55h-.55zM150.7,57.4h.55v.55h-.55zM136.1,76.9h.55v.55h-.55zM133.6,64.8h.55v.55h-.55zM152.9,81.3h.55v.55h-.55zM128.9,72.1h.55v.55h-.55zM139.5,67.8h.55v.55h-.55zM136.6,64.5h.55v.55h-.55zM143.5,69.3h.55v.55h-.55zM134.0,82.7h.55v.55h-.55zM122.8,84.8h.55v.55h-.55zM138.5,80.8h.55v.55h-.55zM147.0,61.6h.55v.55h-.55zM153.8,71.6h.55v.55h-.55zM152.1,72.5h.55v.55h-.55zM119.1,84.5h.55v.55h-.55zM129.8,77.9h.55v.55h-.55zM151.4,67.2h.55v.55h-.55zM132.4,71.4h.55v.55h-.55zM135.5,63.8h.55v.55h-.55zM151.5,70.3h.55v.55h-.55zM133.2,67.1h.55v.55h-.55zM134.6,68.1h.55v.55h-.55zM151.2,83.1h.55v.55h-.55zM138.5,69.9h.55v.55h-.55zM120.4,80.6h.55v.55h-.55zM143.8,76.1h.55v.55h-.55zM116.2,58.4h.55v.55h-.55zM136.3,76.5h.55v.55h-.55zM142.1,71.9h.55v.55h-.55zM139.7,61.3h.55v.55h-.55zM129.0,84.1h.55v.55h-.55zM131.5,71.9h.55v.55h-.55zM146.6,64.7h.55v.55h-.55zM143.5,75.4h.55v.55h-.55zM141.5,76.4h.55v.55h-.55zM136.1,72.2h.55v.55h-.55zM142.0,66.9h.55v.55h-.55zM149.8,67.4h.55v.55h-.55zM131.7,72.4h.55v.55h-.55zM144.4,66.9h.55v.55h-.55zM137.8,74.5h.55v.55h-.55zM141.0,76.6h.55v.55h-.55zM134.6,68.3h.55v.55h-.55zM136.2,73.6h.55v.55h-.55zM138.5,61.4h.55v.55h-.55zM130.1,79.3h.55v.55h-.55zM147.7,70.9h.55v.55h-.55zM146.7,70.8h.55v.55h-.55zM150.1,68.1h.55v.55h-.55zM114.6,84.7h.55v.55h-.55zM132.8,78.5h.55v.55h-.55zM138.5,81.3h.55v.55h-.55zM139.2,73.3h.55v.55h-.55zM118.9,84.6h.55v.55h-.55zM135.0,61.8h.55v.55h-.55zM148.5,69.4h.55v.55h-.55zM134.9,70.0h.55v.55h-.55zM134.6,73.6h.55v.55h-.55zM142.9,71.3h.55v.55h-.55zM140.4,51.3h.55v.55h-.55zM125.4,85.4h.55v.55h-.55zM139.7,81.0h.55v.55h-.55zM114.1,85.3h.55v.55h-.55zM134.4,55.4h.55v.55h-.55zM135.9,73.0h.55v.55h-.55zM116.5,84.7h.55v.55h-.55zM130.9,71.8h.55v.55h-.55zM120.5,74.2h.55v.55h-.55zM116.4,82.7h.55v.55h-.55zM132.2,70.8h.55v.55h-.55zM124.0,71.9h.55v.55h-.55zM131.6,75.6h.55v.55h-.55zM143.1,68.6h.55v.55h-.55zM143.1,76.0h.55v.55h-.55zM142.8,67.2h.55v.55h-.55zM125.1,82.8h.55v.55h-.55zM129.7,69.0h.55v.55h-.55zM124.4,79.1h.55v.55h-.55zM145.6,64.3h.55v.55h-.55zM136.7,76.6h.55v.55h-.55zM136.6,76.0h.55v.55h-.55zM146.2,69.4h.55v.55h-.55zM148.6,73.9h.55v.55h-.55zM152.6,63.5h.55v.55h-.55zM142.2,85.5h.55v.55h-.55zM138.1,78.1h.55v.55h-.55zM147.1,61.9h.55v.55h-.55zM131.6,68.4h.55v.55h-.55zM131.7,71.6h.55v.55h-.55zM149.9,67.6h.55v.55h-.55zM141.9,68.6h.55v.55h-.55zM149.0,56.1h.55v.55h-.55zM115.3,81.4h.55v.55h-.55zM125.7,73.6h.55v.55h-.55zM144.9,62.1h.55v.55h-.55zM149.1,65.3h.55v.55h-.55zM118.2,84.4h.55v.55h-.55zM148.9,50.3h.55v.55h-.55zM138.1,73.5h.55v.55h-.55zM124.6,82.1h.55v.55h-.55zM143.8,78.6h.55v.55h-.55zM144.9,66.8h.55v.55h-.55zM121.1,83.3h.55v.55h-.55zM138.5,76.7h.55v.55h-.55zM128.4,70.4h.55v.55h-.55zM127.7,84.2h.55v.55h-.55zM129.1,76.4h.55v.55h-.55zM146.2,82.4h.55v.55h-.55zM142.5,69.3h.55v.55h-.55zM144.1,81.0h.55v.55h-.55zM145.0,71.9h.55v.55h-.55zM139.2,81.1h.55v.55h-.55zM145.5,74.7h.55v.55h-.55zM128.8,68.4h.55v.55h-.55zM154.0,67.0h.55v.55h-.55zM140.5,71.1h.55v.55h-.55zM145.2,60.2h.55v.55h-.55zM138.5,65.0h.55v.55h-.55zM131.3,75.5h.55v.55h-.55zM124.1,85.0h.55v.55h-.55zM143.7,76.1h.55v.55h-.55zM148.8,56.2h.55v.55h-.55zM139.3,76.3h.55v.55h-.55zM141.0,68.7h.55v.55h-.55zM127.1,70.5h.55v.55h-.55zM136.3,76.3h.55v.55h-.55zM144.2,60.0h.55v.55h-.55zM121.0,82.7h.55v.55h-.55zM153.7,63.5h.55v.55h-.55zM150.2,62.0h.55v.55h-.55zM136.5,72.5h.55v.55h-.55zM129.9,77.9h.55v.55h-.55zM130.9,71.8h.55v.55h-.55zM141.4,79.3h.55v.55h-.55zM128.9,83.2h.55v.55h-.55zM123.5,84.1h.55v.55h-.55zM135.5,83.8h.55v.55h-.55zM143.4,71.6h.55v.55h-.55zM147.5,71.5h.55v.55h-.55zM136.8,51.9h.55v.55h-.55zM135.8,65.1h.55v.55h-.55zM135.2,70.2h.55v.55h-.55zM145.0,74.0h.55v.55h-.55zM121.7,84.1h.55v.55h-.55zM116.4,83.7h.55v.55h-.55zM125.8,85.1h.55v.55h-.55zM120.0,85.7h.55v.55h-.55zM124.0,85.5h.55v.55h-.55zM137.4,60.5h.55v.55h-.55zM128.0,77.1h.55v.55h-.55zM154.8,68.9h.55v.55h-.55zM136.5,77.9h.55v.55h-.55zM137.0,67.5h.55v.55h-.55zM145.4,78.2h.55v.55h-.55zM150.0,65.3h.55v.55h-.55zM133.6,83.3h.55v.55h-.55zM142.5,71.9h.55v.55h-.55zM134.5,66.2h.55v.55h-.55zM144.2,62.3h.55v.55h-.55zM127.0,82.6h.55v.55h-.55zM131.3,79.0h.55v.55h-.55zM142.9,66.1h.55v.55h-.55zM126.6,63.4h.55v.55h-.55zM145.6,63.8h.55v.55h-.55zM141.9,63.3h.55v.55h-.55zM144.3,50.8h.55v.55h-.55zM131.8,81.4h.55v.55h-.55zM127.6,76.9h.55v.55h-.55zM117.0,76.8h.55v.55h-.55zM124.1,78.3h.55v.55h-.55zM149.9,65.2h.55v.55h-.55zM141.2,77.2h.55v.55h-.55zM123.2,73.1h.55v.55h-.55zM129.7,84.6h.55v.55h-.55zM137.9,76.1h.55v.55h-.55zM155.3,64.1h.55v.55h-.55zM138.0,69.3h.55v.55h-.55zM137.6,77.1h.55v.55h-.55zM126.8,73.5h.55v.55h-.55zM121.3,85.7h.55v.55h-.55zM138.8,74.6h.55v.55h-.55zM125.1,78.8h.55v.55h-.55zM118.8,77.5h.55v.55h-.55zM149.4,68.4h.55v.55h-.55zM137.1,73.9h.55v.55h-.55zM140.0,71.8h.55v.55h-.55zM143.0,74.1h.55v.55h-.55zM150.6,66.2h.55v.55h-.55zM146.8,70.2h.55v.55h-.55zM153.3,64.8h.55v.55h-.55zM142.7,65.8h.55v.55h-.55zM151.5,70.7h.55v.55h-.55zM129.6,85.2h.55v.55h-.55zM140.0,74.9h.55v.55h-.55zM130.0,79.6h.55v.55h-.55zM146.9,73.4h.55v.55h-.55zM137.4,83.4h.55v.55h-.55zM138.9,83.6h.55v.55h-.55zM141.2,67.4h.55v.55h-.55zM142.6,74.3h.55v.55h-.55zM136.7,74.5h.55v.55h-.55zM141.6,78.5h.55v.55h-.55zM144.2,73.8h.55v.55h-.55zM125.0,84.5h.55v.55h-.55zM139.4,54.7h.55v.55h-.55zM142.3,72.7h.55v.55h-.55zM131.4,69.8h.55v.55h-.55zM139.5,72.8h.55v.55h-.55zM139.5,70.9h.55v.55h-.55zM137.1,63.6h.55v.55h-.55zM135.1,72.5h.55v.55h-.55zM126.4,73.3h.55v.55h-.55zM146.9,64.6h.55v.55h-.55zM144.4,70.6h.55v.55h-.55zM122.4,70.0h.55v.55h-.55zM147.2,70.9h.55v.55h-.55zM113.8,84.8h.55v.55h-.55zM142.1,75.9h.55v.55h-.55zM123.4,67.1h.55v.55h-.55zM152.2,63.2h.55v.55h-.55zM154.4,58.5h.55v.55h-.55zM128.2,82.2h.55v.55h-.55zM124.3,87.3h.55v.55h-.55zM145.6,73.1h.55v.55h-.55zM138.0,79.0h.55v.55h-.55zM143.4,64.8h.55v.55h-.55zM135.9,67.2h.55v.55h-.55zM132.9,74.5h.55v.55h-.55zM147.7,65.2h.55v.55h-.55zM148.1,63.6h.55v.55h-.55zM117.1,72.7h.55v.55h-.55zM136.1,64.9h.55v.55h-.55zM144.4,72.6h.55v.55h-.55zM140.3,68.8h.55v.55h-.55zM130.6,79.2h.55v.55h-.55zM148.7,59.7h.55v.55h-.55zM134.2,75.4h.55v.55h-.55zM127.5,72.8h.55v.55h-.55zM132.4,63.2h.55v.55h-.55zM119.7,86.2h.55v.55h-.55zM119.9,85.6h.55v.55h-.55zM121.2,73.3h.55v.55h-.55zM139.8,73.1h.55v.55h-.55zM147.4,68.5h.55v.55h-.55z" fill="#4d5fc2" fill-opacity="0.42"/>
<path d="M143.5,71.1h.55v.55h-.55zM140.9,61.4h.55v.55h-.55zM143.7,71.6h.55v.55h-.55zM136.8,64.4h.55v.55h-.55zM134.6,72.8h.55v.55h-.55zM148.1,70.0h.55v.55h-.55zM141.7,71.0h.55v.55h-.55zM133.3,77.1h.55v.55h-.55zM121.6,71.0h.55v.55h-.55zM154.1,71.7h.55v.55h-.55zM139.0,75.2h.55v.55h-.55zM143.2,75.3h.55v.55h-.55zM115.0,84.8h.55v.55h-.55zM124.6,74.4h.55v.55h-.55zM132.9,67.5h.55v.55h-.55zM141.6,78.4h.55v.55h-.55zM119.2,86.5h.55v.55h-.55zM142.7,63.1h.55v.55h-.55zM141.3,58.4h.55v.55h-.55zM145.2,71.8h.55v.55h-.55zM141.7,77.2h.55v.55h-.55zM123.7,83.5h.55v.55h-.55zM141.9,69.9h.55v.55h-.55zM140.7,72.9h.55v.55h-.55zM136.1,65.9h.55v.55h-.55zM145.0,63.8h.55v.55h-.55zM139.6,61.2h.55v.55h-.55zM145.9,79.1h.55v.55h-.55zM137.0,75.8h.55v.55h-.55zM141.6,73.8h.55v.55h-.55zM132.2,75.3h.55v.55h-.55zM143.7,72.2h.55v.55h-.55zM138.2,69.7h.55v.55h-.55zM144.9,72.3h.55v.55h-.55zM138.6,65.8h.55v.55h-.55zM142.4,70.3h.55v.55h-.55zM148.1,58.2h.55v.55h-.55zM123.8,75.7h.55v.55h-.55zM140.8,70.8h.55v.55h-.55zM141.7,60.2h.55v.55h-.55zM129.6,82.5h.55v.55h-.55zM114.4,85.5h.55v.55h-.55zM143.5,62.5h.55v.55h-.55zM135.6,76.4h.55v.55h-.55zM137.8,81.8h.55v.55h-.55zM134.5,64.3h.55v.55h-.55zM134.9,72.2h.55v.55h-.55zM149.0,79.1h.55v.55h-.55zM139.7,70.4h.55v.55h-.55zM148.2,65.0h.55v.55h-.55zM125.6,77.5h.55v.55h-.55zM132.8,75.1h.55v.55h-.55zM134.7,86.1h.55v.55h-.55zM126.8,79.1h.55v.55h-.55zM139.0,75.0h.55v.55h-.55zM144.5,69.9h.55v.55h-.55zM140.9,75.1h.55v.55h-.55zM115.1,84.0h.55v.55h-.55zM121.7,84.5h.55v.55h-.55zM154.5,78.9h.55v.55h-.55zM147.0,67.7h.55v.55h-.55zM136.4,63.0h.55v.55h-.55zM145.6,68.6h.55v.55h-.55zM141.9,66.9h.55v.55h-.55zM136.6,79.3h.55v.55h-.55zM146.4,64.4h.55v.55h-.55zM128.0,71.3h.55v.55h-.55zM136.2,77.9h.55v.55h-.55zM153.6,70.8h.55v.55h-.55zM140.9,71.1h.55v.55h-.55zM130.1,77.1h.55v.55h-.55zM149.4,57.1h.55v.55h-.55zM130.2,74.2h.55v.55h-.55zM133.0,76.3h.55v.55h-.55zM153.9,66.8h.55v.55h-.55zM146.4,69.1h.55v.55h-.55zM136.0,65.3h.55v.55h-.55zM140.2,76.7h.55v.55h-.55zM129.7,65.6h.55v.55h-.55zM141.0,63.3h.55v.55h-.55zM137.3,71.5h.55v.55h-.55zM144.8,66.2h.55v.55h-.55zM155.3,76.0h.55v.55h-.55zM122.4,75.6h.55v.55h-.55zM135.9,83.1h.55v.55h-.55zM155.5,80.4h.55v.55h-.55zM130.1,77.2h.55v.55h-.55zM120.2,85.0h.55v.55h-.55zM149.2,79.3h.55v.55h-.55zM148.0,60.3h.55v.55h-.55zM116.6,85.5h.55v.55h-.55zM125.4,62.5h.55v.55h-.55zM140.6,82.3h.55v.55h-.55zM142.2,72.1h.55v.55h-.55zM142.2,62.4h.55v.55h-.55zM117.1,52.8h.55v.55h-.55zM141.3,76.3h.55v.55h-.55zM150.1,76.7h.55v.55h-.55zM122.4,85.3h.55v.55h-.55zM129.7,50.5h.55v.55h-.55zM133.3,75.6h.55v.55h-.55zM116.3,84.7h.55v.55h-.55zM123.6,85.7h.55v.55h-.55zM138.6,73.1h.55v.55h-.55zM126.7,63.0h.55v.55h-.55zM137.6,65.6h.55v.55h-.55zM116.7,85.3h.55v.55h-.55zM146.2,71.0h.55v.55h-.55zM121.7,83.0h.55v.55h-.55zM139.0,75.6h.55v.55h-.55zM148.9,58.9h.55v.55h-.55zM139.1,79.4h.55v.55h-.55zM144.7,70.0h.55v.55h-.55zM128.5,51.6h.55v.55h-.55zM140.2,76.2h.55v.55h-.55zM117.5,84.2h.55v.55h-.55zM126.2,73.1h.55v.55h-.55zM137.1,76.0h.55v.55h-.55zM116.0,85.2h.55v.55h-.55zM142.6,74.6h.55v.55h-.55zM136.7,76.9h.55v.55h-.55zM131.7,71.0h.55v.55h-.55zM143.5,75.9h.55v.55h-.55zM123.0,83.8h.55v.55h-.55zM151.7,78.9h.55v.55h-.55zM119.5,83.8h.55v.55h-.55zM124.2,76.5h.55v.55h-.55zM152.4,75.4h.55v.55h-.55zM132.0,76.3h.55v.55h-.55zM120.9,69.7h.55v.55h-.55zM134.3,68.8h.55v.55h-.55zM137.3,67.3h.55v.55h-.55zM135.6,76.1h.55v.55h-.55zM136.6,70.4h.55v.55h-.55zM121.5,64.5h.55v.55h-.55zM145.7,75.0h.55v.55h-.55zM136.5,65.2h.55v.55h-.55zM144.9,75.7h.55v.55h-.55zM140.5,84.5h.55v.55h-.55zM133.9,66.4h.55v.55h-.55zM133.5,81.7h.55v.55h-.55zM144.1,74.0h.55v.55h-.55zM154.3,62.6h.55v.55h-.55zM124.4,80.1h.55v.55h-.55zM128.0,84.8h.55v.55h-.55zM139.5,78.6h.55v.55h-.55zM142.1,67.7h.55v.55h-.55zM140.6,68.6h.55v.55h-.55zM122.7,73.5h.55v.55h-.55zM121.6,57.5h.55v.55h-.55zM131.4,86.6h.55v.55h-.55zM135.3,68.3h.55v.55h-.55zM144.6,66.4h.55v.55h-.55zM142.9,74.5h.55v.55h-.55zM141.2,67.7h.55v.55h-.55zM136.0,67.6h.55v.55h-.55zM122.6,75.9h.55v.55h-.55zM123.7,50.2h.55v.55h-.55zM128.1,66.6h.55v.55h-.55zM127.7,65.9h.55v.55h-.55zM153.3,75.9h.55v.55h-.55zM143.8,74.0h.55v.55h-.55zM148.2,75.1h.55v.55h-.55zM136.9,71.7h.55v.55h-.55zM128.7,69.0h.55v.55h-.55zM137.8,68.6h.55v.55h-.55zM138.8,72.3h.55v.55h-.55zM154.7,59.3h.55v.55h-.55zM123.0,69.4h.55v.55h-.55zM131.6,69.2h.55v.55h-.55zM136.2,83.4h.55v.55h-.55zM149.2,70.7h.55v.55h-.55zM152.1,65.9h.55v.55h-.55zM141.2,66.0h.55v.55h-.55zM147.7,69.5h.55v.55h-.55zM115.4,83.4h.55v.55h-.55zM139.1,71.8h.55v.55h-.55zM141.9,81.1h.55v.55h-.55zM119.0,77.1h.55v.55h-.55zM128.4,85.2h.55v.55h-.55zM118.9,85.5h.55v.55h-.55zM141.9,74.2h.55v.55h-.55zM139.2,59.2h.55v.55h-.55zM127.5,74.5h.55v.55h-.55zM137.8,64.7h.55v.55h-.55zM148.4,63.5h.55v.55h-.55zM140.7,74.9h.55v.55h-.55zM117.8,58.7h.55v.55h-.55zM149.1,65.3h.55v.55h-.55zM143.6,64.1h.55v.55h-.55zM135.6,70.5h.55v.55h-.55zM144.5,69.0h.55v.55h-.55zM132.6,80.4h.55v.55h-.55zM142.6,76.1h.55v.55h-.55zM138.9,77.4h.55v.55h-.55zM129.3,51.3h.55v.55h-.55zM141.9,73.7h.55v.55h-.55zM145.7,66.7h.55v.55h-.55zM126.4,83.4h.55v.55h-.55zM135.2,76.7h.55v.55h-.55zM116.6,85.8h.55v.55h-.55zM126.7,66.9h.55v.55h-.55zM127.8,75.2h.55v.55h-.55zM153.6,70.8h.55v.55h-.55zM129.6,82.3h.55v.55h-.55zM116.6,84.0h.55v.55h-.55zM143.7,73.2h.55v.55h-.55zM118.9,86.0h.55v.55h-.55zM126.8,70.6h.55v.55h-.55zM140.7,78.2h.55v.55h-.55zM139.8,68.6h.55v.55h-.55zM144.3,73.1h.55v.55h-.55zM128.8,81.4h.55v.55h-.55zM124.9,82.2h.55v.55h-.55zM146.8,68.1h.55v.55h-.55zM137.7,74.2h.55v.55h-.55zM132.4,73.7h.55v.55h-.55zM154.8,69.6h.55v.55h-.55zM141.0,70.1h.55v.55h-.55zM121.6,85.2h.55v.55h-.55zM115.7,84.2h.55v.55h-.55zM129.3,63.8h.55v.55h-.55zM118.7,85.0h.55v.55h-.55zM146.1,82.8h.55v.55h-.55zM145.1,70.0h.55v.55h-.55zM133.4,72.9h.55v.55h-.55zM139.7,77.9h.55v.55h-.55zM145.2,54.6h.55v.55h-.55zM149.1,67.6h.55v.55h-.55zM125.4,79.7h.55v.55h-.55zM132.8,55.4h.55v.55h-.55zM135.2,68.1h.55v.55h-.55zM131.6,74.3h.55v.55h-.55zM129.8,70.9h.55v.55h-.55zM132.6,66.0h.55v.55h-.55zM130.1,83.6h.55v.55h-.55zM142.0,73.0h.55v.55h-.55zM140.4,72.6h.55v.55h-.55zM137.3,68.0h.55v.55h-.55zM126.1,81.8h.55v.55h-.55zM121.9,84.0h.55v.55h-.55zM130.3,77.2h.55v.55h-.55zM143.4,62.5h.55v.55h-.55zM145.6,76.2h.55v.55h-.55zM137.8,74.0h.55v.55h-.55zM147.0,66.8h.55v.55h-.55zM124.6,75.1h.55v.55h-.55zM117.3,86.6h.55v.55h-.55zM152.1,72.8h.55v.55h-.55zM141.3,72.5h.55v.55h-.55zM113.7,81.9h.55v.55h-.55zM146.4,60.4h.55v.55h-.55zM129.8,72.2h.55v.55h-.55zM130.0,67.8h.55v.55h-.55zM120.7,85.8h.55v.55h-.55zM124.7,73.0h.55v.55h-.55zM147.9,63.3h.55v.55h-.55zM131.2,73.4h.55v.55h-.55zM150.2,57.6h.55v.55h-.55zM135.8,67.8h.55v.55h-.55zM148.3,79.6h.55v.55h-.55zM121.0,75.7h.55v.55h-.55zM132.0,66.9h.55v.55h-.55zM150.4,55.7h.55v.55h-.55zM147.8,67.4h.55v.55h-.55zM132.2,71.6h.55v.55h-.55zM131.1,74.6h.55v.55h-.55zM140.2,72.6h.55v.55h-.55zM135.0,73.0h.55v.55h-.55zM147.1,67.4h.55v.55h-.55zM146.9,70.7h.55v.55h-.55zM144.8,73.9h.55v.55h-.55zM138.7,74.1h.55v.55h-.55zM129.8,73.2h.55v.55h-.55zM137.6,77.7h.55v.55h-.55zM143.7,73.8h.55v.55h-.55zM137.6,77.6h.55v.55h-.55zM122.9,80.3h.55v.55h-.55zM130.5,75.5h.55v.55h-.55zM139.7,76.4h.55v.55h-.55zM139.0,78.2h.55v.55h-.55zM138.2,80.7h.55v.55h-.55zM146.6,50.6h.55v.55h-.55zM119.4,83.4h.55v.55h-.55zM127.1,78.0h.55v.55h-.55zM149.1,65.6h.55v.55h-.55zM139.9,60.2h.55v.55h-.55zM132.9,83.8h.55v.55h-.55zM116.9,82.9h.55v.55h-.55zM133.5,77.6h.55v.55h-.55zM144.5,62.0h.55v.55h-.55zM151.9,55.7h.55v.55h-.55zM138.6,65.7h.55v.55h-.55zM137.9,68.0h.55v.55h-.55zM137.5,77.9h.55v.55h-.55zM115.7,84.7h.55v.55h-.55zM119.9,74.8h.55v.55h-.55zM134.7,76.4h.55v.55h-.55zM138.2,71.1h.55v.55h-.55zM133.8,84.5h.55v.55h-.55zM128.1,69.8h.55v.55h-.55zM144.5,65.2h.55v.55h-.55zM120.2,85.3h.55v.55h-.55zM145.0,74.9h.55v.55h-.55zM140.2,80.4h.55v.55h-.55zM121.9,84.7h.55v.55h-.55zM148.7,65.7h.55v.55h-.55zM133.6,84.5h.55v.55h-.55zM116.1,82.7h.55v.55h-.55z" fill="#4d5fc2" fill-opacity="0.42"/>
<path d="M128.9,82.7h.55v.55h-.55zM146.6,72.5h.55v.55h-.55zM128.8,71.2h.55v.55h-.55zM134.8,83.5h.55v.55h-.55zM136.5,68.8h.55v.55h-.55zM127.4,61.5h.55v.55h-.55zM147.0,63.3h.55v.55h-.55zM116.3,84.9h.55v.55h-.55zM118.5,81.1h.55v.55h-.55zM149.0,65.8h.55v.55h-.55zM124.0,85.5h.55v.55h-.55zM131.9,74.1h.55v.55h-.55zM128.7,79.2h.55v.55h-.55zM135.9,74.3h.55v.55h-.55zM133.2,81.2h.55v.55h-.55zM136.9,70.5h.55v.55h-.55zM142.4,57.6h.55v.55h-.55zM127.5,79.6h.55v.55h-.55zM117.2,84.2h.55v.55h-.55zM120.4,60.1h.55v.55h-.55zM139.0,61.8h.55v.55h-.55zM113.0,87.2h.55v.55h-.55zM151.3,70.1h.55v.55h-.55zM124.6,84.9h.55v.55h-.55zM148.6,74.7h.55v.55h-.55zM120.2,86.0h.55v.55h-.55zM144.9,71.0h.55v.55h-.55zM144.9,64.9h.55v.55h-.55zM115.2,82.4h.55v.55h-.55zM121.1,56.3h.55v.55h-.55zM134.8,83.9h.55v.55h-.55zM147.3,64.7h.55v.55h-.55zM144.9,74.5h.55v.55h-.55zM154.4,62.6h.55v.55h-.55zM133.4,71.7h.55v.55h-.55zM139.1,75.5h.55v.55h-.55zM140.8,64.4h.55v.55h-.55zM127.6,76.7h.55v.55h-.55zM133.9,79.6h.55v.55h-.55zM118.4,80.2h.55v.55h-.55zM133.0,75.9h.55v.55h-.55zM121.7,65.0h.55v.55h-.55zM121.6,69.3h.55v.55h-.55zM151.1,65.2h.55v.55h-.55zM118.4,85.1h.55v.55h-.55zM148.8,69.0h.55v.55h-.55zM150.8,62.5h.55v.55h-.55zM120.4,84.4h.55v.55h-.55zM118.5,83.0h.55v.55h-.55zM135.9,81.5h.55v.55h-.55zM143.6,66.4h.55v.55h-.55zM136.1,70.6h.55v.55h-.55zM150.6,71.9h.55v.55h-.55zM147.5,70.7h.55v.55h-.55zM116.5,74.1h.55v.55h-.55zM121.0,82.9h.55v.55h-.55zM128.4,74.6h.55v.55h-.55zM146.8,63.6h.55v.55h-.55zM120.9,84.6h.55v.55h-.55zM128.6,79.0h.55v.55h-.55zM140.9,60.1h.55v.55h-.55zM118.5,84.5h.55v.55h-.55zM142.9,57.2h.55v.55h-.55zM141.4,69.3h.55v.55h-.55zM139.2,72.2h.55v.55h-.55zM144.8,73.7h.55v.55h-.55zM120.4,83.8h.55v.55h-.55zM149.8,61.5h.55v.55h-.55zM146.4,71.9h.55v.55h-.55zM143.3,74.4h.55v.55h-.55zM117.0,75.6h.55v.55h-.55zM148.0,62.9h.55v.55h-.55zM125.5,71.1h.55v.55h-.55zM135.8,66.0h.55v.55h-.55zM145.3,81.1h.55v.55h-.55zM133.6,82.1h.55v.55h-.55zM151.3,77.9h.55v.55h-.55zM126.5,75.5h.55v.55h-.55zM138.0,59.3h.55v.55h-.55zM122.3,84.2h.55v.55h-.55zM127.6,81.7h.55v.55h-.55zM114.0,85.4h.55v.55h-.55zM122.6,79.2h.55v.55h-.55zM137.6,74.2h.55v.55h-.55zM135.8,72.5h.55v.55h-.55zM138.2,76.7h.55v.55h-.55zM128.7,77.5h.55v.55h-.55zM146.0,68.4h.55v.55h-.55zM145.0,77.3h.55v.55h-.55zM149.4,67.9h.55v.55h-.55zM127.2,86.6h.55v.55h-.55zM133.9,76.1h.55v.55h-.55zM147.0,58.4h.55v.55h-.55zM141.5,71.0h.55v.55h-.55zM138.6,78.9h.55v.55h-.55zM140.6,71.9h.55v.55h-.55zM132.7,78.1h.55v.55h-.55zM147.3,67.9h.55v.55h-.55zM128.3,77.2h.55v.55h-.55zM137.1,64.7h.55v.55h-.55zM129.8,70.5h.55v.55h-.55zM132.4,86.3h.55v.55h-.55zM135.7,79.6h.55v.55h-.55zM131.4,69.8h.55v.55h-.55zM140.3,70.7h.55v.55h-.55zM136.6,73.9h.55v.55h-.55zM153.3,81.9h.55v.55h-.55zM143.9,72.6h.55v.55h-.55zM138.5,58.2h.55v.55h-.55zM130.7,67.2h.55v.55h-.55zM146.8,65.1h.55v.55h-.55zM114.4,83.5h.55v.55h-.55zM151.1,80.8h.55v.55h-.55zM129.9,72.1h.55v.55h-.55zM153.0,62.0h.55v.55h-.55zM134.6,79.7h.55v.55h-.55zM124.1,73.1h.55v.55h-.55zM140.0,74.2h.55v.55h-.55zM145.4,75.1h.55v.55h-.55zM152.5,73.6h.55v.55h-.55zM134.2,80.8h.55v.55h-.55zM131.1,84.9h.55v.55h-.55zM145.7,69.8h.55v.55h-.55zM135.7,63.1h.55v.55h-.55zM129.6,81.1h.55v.55h-.55zM118.0,57.8h.55v.55h-.55zM150.0,75.6h.55v.55h-.55zM117.1,64.6h.55v.55h-.55zM122.3,81.8h.55v.55h-.55zM141.9,73.2h.55v.55h-.55zM151.1,62.5h.55v.55h-.55zM132.3,63.9h.55v.55h-.55zM133.2,82.6h.55v.55h-.55zM142.5,64.8h.55v.55h-.55zM142.1,67.4h.55v.55h-.55zM125.8,79.3h.55v.55h-.55zM148.6,72.7h.55v.55h-.55zM114.6,85.8h.55v.55h-.55zM148.9,68.8h.55v.55h-.55zM132.5,69.0h.55v.55h-.55zM113.1,84.7h.55v.55h-.55zM136.6,66.5h.55v.55h-.55zM128.1,75.5h.55v.55h-.55zM129.3,80.6h.55v.55h-.55zM127.7,74.7h.55v.55h-.55zM138.7,61.9h.55v.55h-.55zM146.5,62.5h.55v.55h-.55zM149.3,65.8h.55v.55h-.55zM134.8,75.3h.55v.55h-.55zM136.7,70.5h.55v.55h-.55zM132.9,77.5h.55v.55h-.55zM114.3,69.2h.55v.55h-.55zM125.8,73.0h.55v.55h-.55zM125.4,83.9h.55v.55h-.55zM138.6,56.0h.55v.55h-.55zM136.9,69.7h.55v.55h-.55zM142.4,69.7h.55v.55h-.55zM153.8,70.5h.55v.55h-.55zM147.3,52.5h.55v.55h-.55zM140.0,81.3h.55v.55h-.55zM134.9,70.7h.55v.55h-.55zM142.4,72.5h.55v.55h-.55zM130.3,78.6h.55v.55h-.55zM133.2,70.7h.55v.55h-.55zM114.6,84.0h.55v.55h-.55zM146.2,74.9h.55v.55h-.55zM123.7,68.1h.55v.55h-.55zM124.6,55.4h.55v.55h-.55zM128.9,85.2h.55v.55h-.55zM141.9,69.7h.55v.55h-.55zM141.1,70.8h.55v.55h-.55zM152.4,63.6h.55v.55h-.55zM123.2,70.3h.55v.55h-.55zM140.5,68.5h.55v.55h-.55zM142.9,69.5h.55v.55h-.55zM142.1,76.3h.55v.55h-.55zM137.4,76.3h.55v.55h-.55zM126.8,83.9h.55v.55h-.55zM151.5,64.9h.55v.55h-.55zM150.8,77.6h.55v.55h-.55zM145.2,68.6h.55v.55h-.55zM144.7,66.6h.55v.55h-.55zM141.2,69.8h.55v.55h-.55zM126.1,59.5h.55v.55h-.55zM132.4,79.4h.55v.55h-.55zM140.0,79.3h.55v.55h-.55zM137.0,79.2h.55v.55h-.55zM133.4,65.8h.55v.55h-.55zM123.6,84.0h.55v.55h-.55zM146.2,65.7h.55v.55h-.55zM143.1,83.1h.55v.55h-.55zM139.6,80.6h.55v.55h-.55zM143.4,72.7h.55v.55h-.55zM118.6,78.2h.55v.55h-.55zM126.6,67.3h.55v.55h-.55zM121.9,82.6h.55v.55h-.55zM141.9,80.6h.55v.55h-.55zM137.7,74.1h.55v.55h-.55zM133.2,78.7h.55v.55h-.55zM137.9,70.8h.55v.55h-.55zM152.6,76.0h.55v.55h-.55zM141.5,65.7h.55v.55h-.55zM138.4,72.7h.55v.55h-.55zM129.7,87.5h.55v.55h-.55zM147.4,55.1h.55v.55h-.55zM129.0,67.6h.55v.55h-.55zM151.6,72.1h.55v.55h-.55zM144.3,67.1h.55v.55h-.55zM149.5,67.6h.55v.55h-.55zM141.2,73.9h.55v.55h-.55zM131.7,78.1h.55v.55h-.55zM153.1,79.1h.55v.55h-.55zM140.9,76.5h.55v.55h-.55zM131.6,73.2h.55v.55h-.55zM137.5,76.5h.55v.55h-.55zM134.4,64.2h.55v.55h-.55zM132.5,80.0h.55v.55h-.55zM137.5,73.4h.55v.55h-.55zM147.5,55.6h.55v.55h-.55zM135.6,78.8h.55v.55h-.55zM153.7,68.8h.55v.55h-.55zM133.5,73.7h.55v.55h-.55zM132.8,83.4h.55v.55h-.55zM145.9,62.9h.55v.55h-.55zM135.0,76.9h.55v.55h-.55zM145.3,52.5h.55v.55h-.55zM151.8,64.1h.55v.55h-.55zM153.1,70.2h.55v.55h-.55zM139.0,68.8h.55v.55h-.55zM127.3,69.9h.55v.55h-.55zM119.4,72.8h.55v.55h-.55zM153.7,54.4h.55v.55h-.55zM141.4,83.3h.55v.55h-.55zM134.7,70.2h.55v.55h-.55zM155.0,50.2h.55v.55h-.55zM129.8,71.3h.55v.55h-.55zM143.2,72.9h.55v.55h-.55zM144.3,68.3h.55v.55h-.55zM126.4,72.0h.55v.55h-.55zM155.0,64.7h.55v.55h-.55zM117.2,82.8h.55v.55h-.55zM139.9,77.9h.55v.55h-.55zM114.4,84.4h.55v.55h-.55zM137.2,60.2h.55v.55h-.55zM122.8,68.8h.55v.55h-.55zM135.8,79.9h.55v.55h-.55zM126.3,83.9h.55v.55h-.55zM151.4,80.3h.55v.55h-.55zM138.6,76.3h.55v.55h-.55zM149.7,77.5h.55v.55h-.55zM149.1,71.8h.55v.55h-.55zM142.6,71.5h.55v.55h-.55zM133.3,82.6h.55v.55h-.55zM141.3,72.3h.55v.55h-.55zM148.2,72.4h.55v.55h-.55zM141.0,66.3h.55v.55h-.55zM134.5,64.6h.55v.55h-.55zM142.8,67.4h.55v.55h-.55zM148.4,62.9h.55v.55h-.55zM153.1,61.3h.55v.55h-.55zM137.3,83.8h.55v.55h-.55zM146.7,77.5h.55v.55h-.55zM137.6,64.7h.55v.55h-.55zM128.7,53.2h.55v.55h-.55zM138.2,64.8h.55v.55h-.55zM117.8,84.4h.55v.55h-.55zM128.0,64.0h.55v.55h-.55zM124.7,74.2h.55v.55h-.55zM136.6,72.5h.55v.55h-.55zM123.4,85.3h.55v.55h-.55zM121.9,76.4h.55v.55h-.55zM129.6,68.2h.55v.55h-.55zM120.6,61.1h.55v.55h-.55zM130.2,81.6h.55v.55h-.55zM137.0,72.0h.55v.55h-.55zM131.1,67.7h.55v.55h-.55zM119.1,82.9h.55v.55h-.55zM143.7,69.6h.55v.55h-.55zM138.8,77.2h.55v.55h-.55zM132.3,77.4h.55v.55h-.55zM138.5,64.5h.55v.55h-.55zM142.1,64.2h.55v.55h-.55zM141.5,68.6h.55v.55h-.55zM135.7,57.6h.55v.55h-.55zM135.8,76.5h.55v.55h-.55zM142.0,82.7h.55v.55h-.55zM112.6,82.3h.55v.55h-.55zM129.9,56.2h.55v.55h-.55zM150.9,82.9h.55v.55h-.55zM133.4,77.3h.55v.55h-.55zM133.0,63.8h.55v.55h-.55zM142.1,58.9h.55v.55h-.55zM144.0,70.2h.55v.55h-.55zM147.8,63.1h.55v.55h-.55zM125.9,82.4h.55v.55h-.55zM144.9,69.0h.55v.55h-.55zM128.6,68.5h.55v.55h-.55zM137.4,80.5h.55v.55h-.55zM134.8,68.1h.55v.55h-.55zM137.0,75.1h.55v.55h-.55zM132.0,73.8h.55v.55h-.55zM132.2,83.6h.55v.55h-.55zM130.0,85.2h.55v.55h-.55zM155.3,67.1h.55v.55h-.55zM154.1,65.7h.55v.55h-.55zM135.2,75.4h.55v.55h-.55zM116.1,80.7h.55v.55h-.55zM142.9,80.0h.55v.55h-.55zM142.8,69.3h.55v.55h-.55z" fill="#4d5fc2" fill-opacity="0.42"/>
<path d="M133.1,77.1h.55v.55h-.55zM120.4,84.2h.55v.55h-.55zM124.5,85.5h.55v.55h-.55zM139.5,65.4h.55v.55h-.55zM125.4,84.4h.55v.55h-.55zM145.0,73.0h.55v.55h-.55zM136.1,75.2h.55v.55h-.55zM138.0,77.9h.55v.55h-.55zM139.3,74.9h.55v.55h-.55zM132.7,64.2h.55v.55h-.55zM132.0,67.7h.55v.55h-.55zM140.9,67.5h.55v.55h-.55zM122.2,75.6h.55v.55h-.55zM139.7,69.4h.55v.55h-.55zM134.5,77.0h.55v.55h-.55zM122.5,85.4h.55v.55h-.55zM141.4,78.7h.55v.55h-.55zM136.9,81.7h.55v.55h-.55zM125.9,68.3h.55v.55h-.55zM150.4,66.4h.55v.55h-.55zM129.6,62.5h.55v.55h-.55zM152.8,78.9h.55v.55h-.55zM140.2,59.2h.55v.55h-.55zM121.1,66.2h.55v.55h-.55zM139.5,59.4h.55v.55h-.55zM148.1,72.9h.55v.55h-.55zM118.8,52.4h.55v.55h-.55zM153.2,65.1h.55v.55h-.55zM125.3,71.1h.55v.55h-.55zM143.7,66.9h.55v.55h-.55zM112.1,86.4h.55v.55h-.55zM122.0,78.2h.55v.55h-.55zM117.7,83.4h.55v.55h-.55zM114.9,84.1h.55v.55h-.55zM143.6,66.9h.55v.55h-.55zM131.8,76.0h.55v.55h-.55zM133.4,70.7h.55v.55h-.55zM151.6,63.7h.55v.55h-.55zM136.7,71.6h.55v.55h-.55zM138.4,62.8h.55v.55h-.55zM135.4,83.1h.55v.55h-.55zM125.6,80.1h.55v.55h-.55zM126.8,62.8h.55v.55h-.55zM155.4,69.8h.55v.55h-.55zM147.8,70.9h.55v.55h-.55zM140.7,78.3h.55v.55h-.55zM117.3,67.4h.55v.55h-.55zM137.1,72.5h.55v.55h-.55zM150.4,60.8h.55v.55h-.55zM125.4,84.8h.55v.55h-.55zM135.8,71.7h.55v.55h-.55zM138.4,74.0h.55v.55h-.55zM152.6,76.9h.55v.55h-.55zM138.4,76.3h.55v.55h-.55zM133.6,63.3h.55v.55h-.55zM133.1,70.7h.55v.55h-.55zM136.5,72.6h.55v.55h-.55zM135.8,68.1h.55v.55h-.55zM139.5,81.2h.55v.55h-.55zM141.7,68.3h.55v.55h-.55zM135.2,80.3h.55v.55h-.55zM123.3,82.0h.55v.55h-.55zM127.7,68.4h.55v.55h-.55zM137.0,69.9h.55v.55h-.55zM140.8,71.2h.55v.55h-.55zM129.3,81.8h.55v.55h-.55zM140.1,69.8h.55v.55h-.55zM130.2,68.7h.55v.55h-.55zM134.5,67.6h.55v.55h-.55zM132.2,66.6h.55v.55h-.55zM148.8,69.5h.55v.55h-.55zM130.1,73.0h.55v.55h-.55zM151.9,68.1h.55v.55h-.55zM151.4,81.6h.55v.55h-.55zM147.8,70.8h.55v.55h-.55zM129.3,75.5h.55v.55h-.55zM117.1,72.4h.55v.55h-.55zM147.0,78.3h.55v.55h-.55zM149.9,62.7h.55v.55h-.55zM134.2,79.6h.55v.55h-.55zM141.3,78.4h.55v.55h-.55zM148.8,62.3h.55v.55h-.55zM144.2,73.6h.55v.55h-.55zM137.0,77.8h.55v.55h-.55zM154.1,53.0h.55v.55h-.55zM129.6,78.5h.55v.55h-.55zM152.3,76.3h.55v.55h-.55zM112.5,84.1h.55v.55h-.55zM148.6,77.5h.55v.55h-.55zM133.2,62.3h.55v.55h-.55zM135.8,76.3h.55v.55h-.55zM116.3,84.6h.55v.55h-.55zM135.4,67.8h.55v.55h-.55zM125.2,85.0h.55v.55h-.55zM137.8,83.9h.55v.55h-.55zM131.9,77.4h.55v.55h-.55zM128.1,55.0h.55v.55h-.55zM120.3,85.8h.55v.55h-.55zM132.6,75.8h.55v.55h-.55zM140.8,59.7h.55v.55h-.55zM150.6,61.4h.55v.55h-.55zM145.8,65.3h.55v.55h-.55zM143.7,77.9h.55v.55h-.55zM128.7,78.5h.55v.55h-.55zM131.5,85.3h.55v.55h-.55zM142.8,60.5h.55v.55h-.55zM146.9,66.5h.55v.55h-.55zM121.3,83.6h.55v.55h-.55zM130.3,86.3h.55v.55h-.55zM124.5,70.1h.55v.55h-.55zM114.0,84.7h.55v.55h-.55zM130.5,76.3h.55v.55h-.55zM138.9,71.0h.55v.55h-.55zM137.7,75.4h.55v.55h-.55zM144.5,84.0h.55v.55h-.55zM130.8,77.4h.55v.55h-.55zM132.5,74.3h.55v.55h-.55zM135.5,76.5h.55v.55h-.55zM131.3,74.9h.55v.55h-.55zM128.6,81.5h.55v.55h-.55zM152.9,74.6h.55v.55h-.55zM127.1,80.7h.55v.55h-.55zM139.9,73.5h.55v.55h-.55zM132.4,74.6h.55v.55h-.55zM130.7,80.8h.55v.55h-.55zM133.0,63.4h.55v.55h-.55zM154.6,59.0h.55v.55h-.55zM131.9,81.6h.55v.55h-.55zM138.8,76.4h.55v.55h-.55zM137.3,75.5h.55v.55h-.55zM152.3,64.8h.55v.55h-.55zM140.7,74.0h.55v.55h-.55zM123.1,79.3h.55v.55h-.55zM125.7,85.1h.55v.55h-.55zM119.5,54.4h.55v.55h-.55zM135.0,68.4h.55v.55h-.55zM149.8,74.8h.55v.55h-.55zM134.7,75.5h.55v.55h-.55zM140.2,72.8h.55v.55h-.55zM143.1,65.9h.55v.55h-.55zM120.5,85.2h.55v.55h-.55zM146.7,60.9h.55v.55h-.55zM136.9,66.2h.55v.55h-.55zM142.8,67.7h.55v.55h-.55zM138.4,78.7h.55v.55h-.55zM128.5,78.6h.55v.55h-.55zM130.1,75.3h.55v.55h-.55zM144.9,68.5h.55v.55h-.55zM126.4,72.1h.55v.55h-.55zM120.5,84.9h.55v.55h-.55zM119.2,62.2h.55v.55h-.55zM119.6,84.7h.55v.55h-.55zM134.2,77.3h.55v.55h-.55zM132.9,69.8h.55v.55h-.55zM144.6,67.7h.55v.55h-.55zM134.6,68.9h.55v.55h-.55zM138.0,82.2h.55v.55h-.55zM147.4,64.3h.55v.55h-.55zM148.7,65.1h.55v.55h-.55zM134.4,71.9h.55v.55h-.55zM140.0,76.3h.55v.55h-.55zM138.5,75.5h.55v.55h-.55zM144.2,78.4h.55v.55h-.55zM144.6,70.1h.55v.55h-.55zM141.2,51.8h.55v.55h-.55zM114.2,83.7h.55v.55h-.55zM139.1,66.2h.55v.55h-.55zM143.1,71.9h.55v.55h-.55zM120.9,84.6h.55v.55h-.55zM139.3,63.9h.55v.55h-.55zM152.9,71.1h.55v.55h-.55zM153.8,48.4h.55v.55h-.55zM140.4,68.9h.55v.55h-.55zM132.7,83.3h.55v.55h-.55zM138.2,78.2h.55v.55h-.55zM136.0,68.5h.55v.55h-.55zM145.0,71.5h.55v.55h-.55zM143.5,66.5h.55v.55h-.55zM142.3,75.4h.55v.55h-.55zM127.5,86.1h.55v.55h-.55zM119.7,60.2h.55v.55h-.55zM155.1,77.7h.55v.55h-.55zM134.0,75.8h.55v.55h-.55zM127.3,82.6h.55v.55h-.55zM123.5,79.9h.55v.55h-.55zM148.6,74.9h.55v.55h-.55zM128.3,50.7h.55v.55h-.55zM134.9,75.2h.55v.55h-.55zM135.8,81.9h.55v.55h-.55zM134.4,82.4h.55v.55h-.55zM148.0,54.8h.55v.55h-.55zM154.6,59.0h.55v.55h-.55zM116.3,84.8h.55v.55h-.55zM148.8,51.3h.55v.55h-.55zM140.8,72.3h.55v.55h-.55zM154.5,51.7h.55v.55h-.55zM135.6,78.0h.55v.55h-.55zM145.5,64.4h.55v.55h-.55zM151.6,71.6h.55v.55h-.55zM142.9,79.0h.55v.55h-.55zM134.0,82.3h.55v.55h-.55zM145.4,69.1h.55v.55h-.55zM147.6,73.9h.55v.55h-.55zM152.2,59.0h.55v.55h-.55zM140.6,77.4h.55v.55h-.55zM146.2,65.5h.55v.55h-.55zM141.6,68.0h.55v.55h-.55zM124.7,77.2h.55v.55h-.55zM143.0,71.1h.55v.55h-.55zM137.6,69.1h.55v.55h-.55zM131.9,71.4h.55v.55h-.55zM139.0,69.0h.55v.55h-.55zM131.9,72.0h.55v.55h-.55zM128.6,80.4h.55v.55h-.55zM144.8,70.7h.55v.55h-.55zM136.5,70.6h.55v.55h-.55zM143.8,74.7h.55v.55h-.55zM120.8,68.5h.55v.55h-.55zM140.8,78.1h.55v.55h-.55zM130.8,77.6h.55v.55h-.55zM142.6,78.4h.55v.55h-.55zM145.8,63.4h.55v.55h-.55zM142.1,75.9h.55v.55h-.55zM116.7,85.0h.55v.55h-.55zM141.6,72.6h.55v.55h-.55zM133.3,71.6h.55v.55h-.55zM147.0,65.7h.55v.55h-.55zM140.1,64.4h.55v.55h-.55zM136.8,63.5h.55v.55h-.55zM133.7,78.1h.55v.55h-.55zM142.0,64.4h.55v.55h-.55zM127.5,58.6h.55v.55h-.55zM153.5,58.4h.55v.55h-.55zM140.5,74.2h.55v.55h-.55zM144.8,71.6h.55v.55h-.55zM141.0,77.5h.55v.55h-.55zM153.9,81.0h.55v.55h-.55zM127.2,74.8h.55v.55h-.55zM133.5,51.5h.55v.55h-.55zM144.3,65.0h.55v.55h-.55zM147.2,68.0h.55v.55h-.55zM139.5,80.2h.55v.55h-.55zM131.1,74.0h.55v.55h-.55zM146.7,78.1h.55v.55h-.55zM133.0,76.1h.55v.55h-.55zM135.5,71.7h.55v.55h-.55zM141.8,68.9h.55v.55h-.55zM146.3,74.4h.55v.55h-.55zM145.6,51.0h.55v.55h-.55zM138.9,74.0h.55v.55h-.55zM155.1,71.2h.55v.55h-.55zM141.8,81.7h.55v.55h-.55zM138.7,51.7h.55v.55h-.55zM142.7,63.8h.55v.55h-.55zM130.1,68.5h.55v.55h-.55zM121.7,83.4h.55v.55h-.55zM131.5,77.0h.55v.55h-.55zM148.8,68.8h.55v.55h-.55zM142.2,63.1h.55v.55h-.55zM131.6,72.5h.55v.55h-.55zM133.7,73.4h.55v.55h-.55zM123.2,71.9h.55v.55h-.55zM144.7,70.0h.55v.55h-.55zM133.9,71.3h.55v.55h-.55zM136.5,69.1h.55v.55h-.55zM130.9,84.6h.55v.55h-.55zM135.6,75.0h.55v.55h-.55zM125.1,76.8h.55v.55h-.55zM138.9,84.4h.55v.55h-.55zM123.9,81.6h.55v.55h-.55zM137.3,68.8h.55v.55h-.55zM137.4,81.8h.55v.55h-.55zM138.3,77.0h.55v.55h-.55zM132.6,82.0h.55v.55h-.55zM151.6,59.0h.55v.55h-.55zM135.4,71.8h.55v.55h-.55zM140.6,55.5h.55v.55h-.55zM152.0,63.3h.55v.55h-.55zM113.3,82.8h.55v.55h-.55zM135.4,74.6h.55v.55h-.55zM133.7,71.1h.55v.55h-.55zM128.4,60.4h.55v.55h-.55zM137.3,71.1h.55v.55h-.55zM128.8,74.0h.55v.55h-.55zM117.2,84.6h.55v.55h-.55zM126.7,77.5h.55v.55h-.55zM140.5,68.8h.55v.55h-.55zM136.7,76.5h.55v.55h-.55zM127.1,75.5h.55v.55h-.55zM129.8,84.5h.55v.55h-.55zM153.7,69.8h.55v.55h-.55zM116.1,85.3h.55v.55h-.55zM146.7,68.1h.55v.55h-.55zM118.0,72.2h.55v.55h-.55zM126.2,77.2h.55v.55h-.55zM142.5,68.4h.55v.55h-.55zM133.7,68.4h.55v.55h-.55zM149.2,73.9h.55v.55h-.55zM112.5,85.3h.55v.55h-.55zM125.3,85.4h.55v.55h-.55zM139.3,80.5h.55v.55h-.55zM141.0,69.1h.55v.55h-.55zM138.7,84.1h.55v.55h-.55zM125.4,73.7h.55v.55h-.55zM145.1,78.1h.55v.55h-.55zM139.2,65.4h.55v.55h-.55zM149.9,71.2h.55v.55h-.55zM125.3,76.3h.55v.55h-.55zM122.9,75.6h.55v.55h-.55z" fill="#4d5fc2" fill-opacity="0.42"/>
<path d="M134.8,80.7h.55v.55h-.55zM129.1,71.3h.55v.55h-.55zM133.0,73.2h.55v.55h-.55zM135.4,83.0h.55v.55h-.55zM142.8,60.7h.55v.55h-.55zM133.6,75.5h.55v.55h-.55zM154.1,57.1h.55v.55h-.55zM146.3,70.1h.55v.55h-.55zM133.6,71.1h.55v.55h-.55zM145.9,62.1h.55v.55h-.55zM145.6,67.7h.55v.55h-.55zM131.3,70.4h.55v.55h-.55zM140.5,72.7h.55v.55h-.55zM142.2,71.6h.55v.55h-.55zM122.6,56.4h.55v.55h-.55zM132.9,73.1h.55v.55h-.55zM138.5,71.3h.55v.55h-.55zM139.0,67.9h.55v.55h-.55zM145.6,69.1h.55v.55h-.55zM129.5,82.3h.55v.55h-.55zM134.1,81.4h.55v.55h-.55zM150.5,66.5h.55v.55h-.55zM139.5,65.1h.55v.55h-.55zM140.7,65.7h.55v.55h-.55zM137.4,60.2h.55v.55h-.55zM120.0,51.7h.55v.55h-.55zM142.9,67.3h.55v.55h-.55zM118.4,67.9h.55v.55h-.55zM115.4,83.4h.55v.55h-.55zM136.0,57.6h.55v.55h-.55zM149.5,73.8h.55v.55h-.55zM139.8,74.0h.55v.55h-.55zM144.3,72.7h.55v.55h-.55zM130.6,81.1h.55v.55h-.55zM147.1,61.7h.55v.55h-.55zM139.6,79.4h.55v.55h-.55zM149.6,54.4h.55v.55h-.55zM123.8,76.6h.55v.55h-.55zM138.3,73.5h.55v.55h-.55zM140.5,69.9h.55v.55h-.55zM142.8,80.6h.55v.55h-.55zM148.3,70.3h.55v.55h-.55zM141.5,68.8h.55v.55h-.55zM128.0,83.6h.55v.55h-.55zM149.3,63.5h.55v.55h-.55zM145.3,77.1h.55v.55h-.55zM140.2,58.6h.55v.55h-.55zM123.8,80.8h.55v.55h-.55zM137.7,79.5h.55v.55h-.55zM114.4,86.7h.55v.55h-.55zM142.1,77.7h.55v.55h-.55zM136.1,67.1h.55v.55h-.55zM134.1,63.8h.55v.55h-.55zM139.2,72.4h.55v.55h-.55zM146.2,70.8h.55v.55h-.55zM129.0,55.8h.55v.55h-.55zM122.5,62.4h.55v.55h-.55zM154.0,82.9h.55v.55h-.55zM143.6,81.1h.55v.55h-.55zM137.0,82.0h.55v.55h-.55zM137.7,61.1h.55v.55h-.55zM144.5,71.0h.55v.55h-.55zM133.3,75.1h.55v.55h-.55zM144.9,75.4h.55v.55h-.55zM142.4,74.2h.55v.55h-.55zM132.2,67.2h.55v.55h-.55zM152.6,72.6h.55v.55h-.55zM143.1,78.6h.55v.55h-.55zM127.6,80.9h.55v.55h-.55zM140.1,75.3h.55v.55h-.55zM134.2,81.9h.55v.55h-.55zM132.6,81.9h.55v.55h-.55zM113.1,85.2h.55v.55h-.55zM135.6,60.4h.55v.55h-.55zM127.4,63.8h.55v.55h-.55zM142.0,62.4h.55v.55h-.55zM139.1,75.2h.55v.55h-.55zM130.9,78.7h.55v.55h-.55zM144.5,76.2h.55v.55h-.55zM127.1,81.9h.55v.55h-.55zM132.2,78.2h.55v.55h-.55zM147.3,63.9h.55v.55h-.55zM135.1,70.1h.55v.55h-.55zM150.9,64.2h.55v.55h-.55zM122.5,76.1h.55v.55h-.55zM142.5,68.3h.55v.55h-.55zM127.4,82.0h.55v.55h-.55zM134.4,73.7h.55v.55h-.55zM153.2,68.0h.55v.55h-.55zM116.2,84.3h.55v.55h-.55zM132.9,78.5h.55v.55h-.55zM151.0,80.4h.55v.55h-.55zM115.3,86.6h.55v.55h-.55zM138.9,72.3h.55v.55h-.55zM149.7,63.8h.55v.55h-.55zM142.0,63.6h.55v.55h-.55zM147.7,64.9h.55v.55h-.55zM130.4,76.9h.55v.55h-.55zM118.5,84.3h.55v.55h-.55zM138.2,67.0h.55v.55h-.55zM154.5,62.5h.55v.55h-.55zM138.6,84.2h.55v.55h-.55zM148.4,65.9h.55v.55h-.55zM117.2,60.0h.55v.55h-.55zM145.5,66.7h.55v.55h-.55zM134.6,67.3h.55v.55h-.55zM125.1,80.8h.55v.55h-.55zM119.8,84.3h.55v.55h-.55zM147.5,76.9h.55v.55h-.55zM131.7,75.5h.55v.55h-.55zM133.6,71.6h.55v.55h-.55zM137.7,73.3h.55v.55h-.55zM140.0,72.4h.55v.55h-.55zM130.1,79.0h.55v.55h-.55zM127.2,80.0h.55v.55h-.55zM142.6,61.3h.55v.55h-.55zM124.9,83.9h.55v.55h-.55zM147.2,78.6h.55v.55h-.55zM137.3,71.5h.55v.55h-.55zM146.3,63.3h.55v.55h-.55zM141.0,64.5h.55v.55h-.55zM143.9,68.3h.55v.55h-.55zM123.9,85.3h.55v.55h-.55zM128.4,68.5h.55v.55h-.55zM151.2,68.0h.55v.55h-.55zM116.7,84.4h.55v.55h-.55zM143.9,54.9h.55v.55h-.55zM132.3,69.1h.55v.55h-.55zM136.1,78.9h.55v.55h-.55zM135.3,70.3h.55v.55h-.55zM150.9,69.2h.55v.55h-.55zM139.4,70.0h.55v.55h-.55zM112.2,86.2h.55v.55h-.55zM154.0,63.4h.55v.55h-.55zM131.4,55.2h.55v.55h-.55zM134.5,82.5h.55v.55h-.55zM129.6,78.2h.55v.55h-.55zM132.5,77.9h.55v.55h-.55zM142.1,61.6h.55v.55h-.55zM128.8,69.6h.55v.55h-.55zM145.0,68.2h.55v.55h-.55zM139.8,67.0h.55v.55h-.55zM130.0,86.5h.55v.55h-.55zM134.0,69.1h.55v.55h-.55zM129.1,83.9h.55v.55h-.55zM137.6,67.4h.55v.55h-.55zM146.3,69.7h.55v.55h-.55zM133.7,82.1h.55v.55h-.55zM145.4,81.9h.55v.55h-.55zM143.9,72.3h.55v.55h-.55zM137.5,80.7h.55v.55h-.55zM142.9,82.4h.55v.55h-.55zM150.3,71.8h.55v.55h-.55zM144.9,77.8h.55v.55h-.55zM125.4,83.6h.55v.55h-.55zM143.3,66.4h.55v.55h-.55zM140.4,71.1h.55v.55h-.55zM143.7,62.9h.55v.55h-.55zM135.1,72.8h.55v.55h-.55zM145.4,72.1h.55v.55h-.55zM139.4,81.8h.55v.55h-.55zM141.3,72.1h.55v.55h-.55zM136.9,67.9h.55v.55h-.55zM127.5,82.8h.55v.55h-.55zM147.2,71.7h.55v.55h-.55zM152.6,68.5h.55v.55h-.55zM139.0,73.4h.55v.55h-.55zM113.4,87.2h.55v.55h-.55zM149.5,73.0h.55v.55h-.55zM135.1,83.3h.55v.55h-.55zM131.9,71.8h.55v.55h-.55zM149.5,71.0h.55v.55h-.55zM134.5,74.9h.55v.55h-.55zM138.5,77.6h.55v.55h-.55zM131.8,70.8h.55v.55h-.55zM132.8,75.3h.55v.55h-.55zM137.6,80.2h.55v.55h-.55zM133.1,69.5h.55v.55h-.55zM142.2,79.6h.55v.55h-.55zM138.9,63.4h.55v.55h-.55zM135.7,77.1h.55v.55h-.55zM135.1,72.3h.55v.55h-.55zM133.8,81.5h.55v.55h-.55zM130.0,82.3h.55v.55h-.55zM149.9,77.2h.55v.55h-.55zM145.0,70.8h.55v.55h-.55zM150.9,70.9h.55v.55h-.55zM127.0,74.2h.55v.55h-.55zM112.7,85.2h.55v.55h-.55zM122.8,77.8h.55v.55h-.55zM142.3,73.4h.55v.55h-.55zM141.7,57.3h.55v.55h-.55zM146.9,67.5h.55v.55h-.55zM139.7,86.9h.55v.55h-.55zM137.2,67.4h.55v.55h-.55zM123.9,84.2h.55v.55h-.55zM132.3,67.2h.55v.55h-.55zM141.5,81.1h.55v.55h-.55zM131.3,55.4h.55v.55h-.55zM147.5,66.1h.55v.55h-.55zM138.4,68.0h.55v.55h-.55zM137.6,64.1h.55v.55h-.55zM142.6,69.9h.55v.55h-.55zM140.0,75.7h.55v.55h-.55zM137.2,70.6h.55v.55h-.55zM143.0,66.1h.55v.55h-.55zM112.5,84.7h.55v.55h-.55zM146.4,70.5h.55v.55h-.55zM154.3,82.3h.55v.55h-.55zM155.0,64.0h.55v.55h-.55zM146.3,72.9h.55v.55h-.55zM139.9,64.4h.55v.55h-.55zM143.8,70.3h.55v.55h-.55zM148.0,57.7h.55v.55h-.55zM154.2,66.3h.55v.55h-.55zM141.8,69.9h.55v.55h-.55zM142.8,68.7h.55v.55h-.55zM130.4,79.4h.55v.55h-.55zM126.7,69.5h.55v.55h-.55zM152.8,64.2h.55v.55h-.55zM137.9,73.9h.55v.55h-.55zM142.5,67.4h.55v.55h-.55zM149.6,64.9h.55v.55h-.55zM138.7,75.1h.55v.55h-.55zM147.1,64.7h.55v.55h-.55zM132.5,84.5h.55v.55h-.55zM132.7,64.2h.55v.55h-.55zM148.3,79.5h.55v.55h-.55zM131.9,77.3h.55v.55h-.55zM130.6,71.1h.55v.55h-.55zM151.5,63.4h.55v.55h-.55zM137.1,53.3h.55v.55h-.55zM138.3,74.2h.55v.55h-.55zM142.8,72.8h.55v.55h-.55zM149.9,76.9h.55v.55h-.55zM138.8,69.7h.55v.55h-.55zM127.3,81.8h.55v.55h-.55zM146.9,75.9h.55v.55h-.55zM146.7,82.7h.55v.55h-.55zM143.7,73.0h.55v.55h-.55zM113.3,83.3h.55v.55h-.55zM142.8,63.5h.55v.55h-.55zM123.8,64.7h.55v.55h-.55zM146.6,75.7h.55v.55h-.55zM124.8,50.6h.55v.55h-.55zM118.5,78.0h.55v.55h-.55zM143.0,77.6h.55v.55h-.55zM139.1,71.8h.55v.55h-.55zM123.0,84.2h.55v.55h-.55zM138.5,59.5h.55v.55h-.55zM131.4,85.1h.55v.55h-.55zM154.4,51.6h.55v.55h-.55zM137.9,74.6h.55v.55h-.55zM116.4,81.6h.55v.55h-.55zM131.0,75.0h.55v.55h-.55zM151.3,67.0h.55v.55h-.55zM126.5,76.1h.55v.55h-.55zM130.9,72.7h.55v.55h-.55zM133.6,75.9h.55v.55h-.55zM144.7,69.5h.55v.55h-.55zM152.1,69.4h.55v.55h-.55zM148.3,71.3h.55v.55h-.55zM145.5,64.5h.55v.55h-.55zM122.3,82.5h.55v.55h-.55zM150.3,63.5h.55v.55h-.55zM144.5,69.3h.55v.55h-.55zM151.6,59.9h.55v.55h-.55zM149.8,62.3h.55v.55h-.55zM130.1,67.4h.55v.55h-.55zM133.8,63.5h.55v.55h-.55zM151.1,62.7h.55v.55h-.55zM135.9,76.8h.55v.55h-.55zM136.2,72.8h.55v.55h-.55zM113.2,86.0h.55v.55h-.55zM132.1,78.6h.55v.55h-.55zM140.1,82.4h.55v.55h-.55zM127.4,72.6h.55v.55h-.55zM128.2,79.3h.55v.55h-.55zM118.5,84.9h.55v.55h-.55zM143.7,79.5h.55v.55h-.55zM141.5,67.5h.55v.55h-.55zM112.1,84.9h.55v.55h-.55zM117.7,83.7h.55v.55h-.55zM151.1,59.0h.55v.55h-.55zM141.6,72.6h.55v.55h-.55zM119.9,85.5h.55v.55h-.55zM117.7,54.6h.55v.55h-.55zM151.7,54.4h.55v.55h-.55zM152.9,79.4h.55v.55h-.55zM121.8,84.3h.55v.55h-.55zM154.6,62.7h.55v.55h-.55zM127.5,75.3h.55v.55h-.55zM126.5,78.1h.55v.55h-.55zM130.8,76.8h.55v.55h-.55zM139.1,60.2h.55v.55h-.55zM142.5,80.0h.55v.55h-.55zM114.8,85.8h.55v.55h-.55zM149.1,61.9h.55v.55h-.55zM122.4,83.2h.55v.55h-.55zM143.3,73.1h.55v.55h-.55zM117.0,56.0h.55v.55h-.55zM138.2,63.9h.55v.55h-.55zM131.0,72.7h.55v.55h-.55zM128.2,85.3h.55v.55h-.55zM131.1,85.3h.55v.55h-.55zM119.5,83.5h.55v.55h-.55zM142.4,62.4h.55v.55h-.55zM138.5,61.9h.55v.55h-.55zM146.1,69.5h.55v.55h-.55z" fill="#4d5fc2" fill-opacity="0.42"/>
<g fill="#52b0c8" fill-opacity="0.5">
<rect x="150.1" y="66.4" width="0.6" height="0.6"/>
<rect x="140.7" y="67.0" width="0.6" height="0.6"/>
<rect x="136.3" y="73.4" width="0.6" height="0.6"/>
<rect x="139.5" y="75.1" width="0.6" height="0.6"/>
<rect x="142.1" y="72.1" width="0.6" height="0.6"/>
<rect x="142.1" y="64.7" width="0.6" height="0.6"/>
<rect x="142.2" y="72.0" width="0.6" height="0.6"/>
<rect x="136.7" y="68.4" width="0.6" height="0.6"/>
<rect x="138.1" y="74.8" width="0.6" height="0.6"/>
<rect x="146.2" y="68.0" width="0.6" height="0.6"/>
<rect x="139.8" y="70.1" width="0.6" height="0.6"/>
<rect x="139.0" y="77.8" width="0.6" height="0.6"/>
<rect x="141.3" y="67.9" width="0.6" height="0.6"/>
<rect x="141.2" y="69.5" width="0.6" height="0.6"/>
<rect x="141.6" y="75.2" width="0.6" height="0.6"/>
<rect x="138.6" y="71.4" width="0.6" height="0.6"/>
<rect x="140.1" y="66.5" width="0.6" height="0.6"/>
<rect x="143.5" y="73.3" width="0.6" height="0.6"/>
<rect x="140.3" y="71.4" width="0.6" height="0.6"/>
<rect x="138.9" y="71.5" width="0.6" height="0.6"/>
<rect x="136.3" y="75.1" width="0.6" height="0.6"/>
<rect x="147.0" y="72.2" width="0.6" height="0.6"/>
<rect x="144.9" y="74.3" width="0.6" height="0.6"/>
<rect x="138.5" y="75.7" width="0.6" height="0.6"/>
<rect x="141.4" y="70.8" width="0.6" height="0.6"/>
<rect x="140.6" y="75.2" width="0.6" height="0.6"/>
<rect x="150.1" y="65.2" width="0.6" height="0.6"/>
<rect x="141.9" y="70.9" width="0.6" height="0.6"/>
<rect x="144.2" y="64.8" width="0.6" height="0.6"/>
<rect x="139.8" y="71.1" width="0.6" height="0.6"/>
</g>
<rect x="111.8" y="86.2" width="3.8" height="1.6" fill="#e89a3a"/><rect x="115.4" y="85.8" width="2.8" height="1.8" fill="#9cc860"/><rect x="118" y="85.6" width="3" height="1.8" fill="#6aa8d8"/>
<rect x="114.9" y="47.3" width="39.3" height="36" fill="none" stroke="#7a7a7a" stroke-width="0.6"/>
<text x="125.20" y="52.79" font-size="3.9" font-weight="bold" fill="#000" textLength="7.90" lengthAdjust="spacingAndGlyphs">Total</text>
<text x="120.40" y="56.79" font-size="3.9" font-weight="bold" fill="#000" textLength="17.50" lengthAdjust="spacingAndGlyphs">leukocytes</text>
<line x1="110.1" y1="50" x2="111.3" y2="50" stroke="#999" stroke-width="0.4"/>
<rect x="106.7" y="49.5" width="2.6" height="1" fill="#bbb"/>
<line x1="110.1" y1="58" x2="111.3" y2="58" stroke="#999" stroke-width="0.4"/>
<rect x="106.7" y="57.5" width="2.6" height="1" fill="#bbb"/>
<line x1="110.1" y1="66" x2="111.3" y2="66" stroke="#999" stroke-width="0.4"/>
<rect x="106.7" y="65.5" width="2.6" height="1" fill="#bbb"/>
<line x1="110.1" y1="74.5" x2="111.3" y2="74.5" stroke="#999" stroke-width="0.4"/>
<rect x="106.7" y="74.0" width="2.6" height="1" fill="#bbb"/>
<line x1="110.1" y1="82.5" x2="111.3" y2="82.5" stroke="#999" stroke-width="0.4"/>
<rect x="106.7" y="82.0" width="2.6" height="1" fill="#bbb"/>
<line x1="110.1" y1="87" x2="111.3" y2="87" stroke="#999" stroke-width="0.4"/>
<rect x="106.7" y="86.5" width="2.6" height="1" fill="#bbb"/>
<line x1="113.5" y1="87.8" x2="113.5" y2="89.0" stroke="#999" stroke-width="0.4"/>
<rect x="112.5" y="89.8" width="2" height="0.9" fill="#bbb"/>
<line x1="120" y1="87.8" x2="120" y2="89.0" stroke="#999" stroke-width="0.4"/>
<rect x="119" y="89.8" width="2" height="0.9" fill="#bbb"/>
<line x1="126" y1="87.8" x2="126" y2="89.0" stroke="#999" stroke-width="0.4"/>
<rect x="125" y="89.8" width="2" height="0.9" fill="#bbb"/>
<line x1="133" y1="87.8" x2="133" y2="89.0" stroke="#999" stroke-width="0.4"/>
<rect x="132" y="89.8" width="2" height="0.9" fill="#bbb"/>
<line x1="140" y1="87.8" x2="140" y2="89.0" stroke="#999" stroke-width="0.4"/>
<rect x="139" y="89.8" width="2" height="0.9" fill="#bbb"/>
<line x1="147" y1="87.8" x2="147" y2="89.0" stroke="#999" stroke-width="0.4"/>
<rect x="146" y="89.8" width="2" height="0.9" fill="#bbb"/>
<line x1="154" y1="87.8" x2="154" y2="89.0" stroke="#999" stroke-width="0.4"/>
<rect x="153" y="89.8" width="2" height="0.9" fill="#bbb"/>
<line x1="103.1" y1="82" x2="103.1" y2="48.3" stroke="#000" stroke-width="0.8"/>
<path d="M103.1,45.8 L101.5,49.0 L104.69999999999999,49.0 Z" fill="#000"/>
<text transform="translate(104.59,88.90) rotate(-90)" font-size="3.9" font-weight="bold" textLength="7.00" lengthAdjust="spacingAndGlyphs">SSC</text>
<text x="111.90" y="96.59" font-size="3.9" font-weight="bold" fill="#000" textLength="6.70" lengthAdjust="spacingAndGlyphs">FSC</text>
<line x1="120.8" y1="95.6" x2="152.5" y2="95.6" stroke="#000" stroke-width="0.8"/>
<path d="M155,95.6 L151.8,94.0 L151.8,97.19999999999999 Z" fill="#000"/>
<path d="M132.1,98.6 L134.5,98.6 L134.5,102.4 L136.6,102.4 L133.3,106 L130,102.4 L132.1,102.4 Z" fill="#a0a0a0"/>
<rect x="111.5" y="109.3" width="43.7" height="43.3" fill="none" stroke="#b0b0b0" stroke-width="0.6"/>
<path d="M127.31,128.72 L127.32,128.89 L127.38,129.09 L127.42,129.32 L127.37,129.54 L127.21,129.70 L126.97,129.76 L126.72,129.74 L126.50,129.69 L126.33,129.67 L126.17,129.71 L125.99,129.78 L125.78,129.83 L125.58,129.80 L125.41,129.70 L125.30,129.53 L125.24,129.36 L125.18,129.19 L125.10,129.05 L124.99,128.90 L124.89,128.72 L124.82,128.52 L124.82,128.31 L124.87,128.11 L124.99,127.92 L125.14,127.76 L125.34,127.66 L125.56,127.61 L125.79,127.64 L126.00,127.73 L126.17,127.82 L126.31,127.89 L126.46,127.88 L126.65,127.83 L126.89,127.78 L127.15,127.80 L127.34,127.92 L127.43,128.12 L127.42,128.34 L127.35,128.55 Z" fill="none" stroke="#9c9ed8" stroke-width="0.45" stroke-opacity="0.8"/>
<path d="M128.91,128.94 L128.95,129.33 L128.87,129.72 L128.64,130.05 L128.30,130.28 L127.92,130.43 L127.57,130.54 L127.27,130.66 L126.99,130.85 L126.70,131.09 L126.33,131.33 L125.90,131.48 L125.45,131.50 L125.01,131.37 L124.65,131.12 L124.37,130.79 L124.17,130.42 L124.05,130.03 L124.01,129.65 L124.04,129.28 L124.12,128.94 L124.21,128.63 L124.29,128.32 L124.36,128.00 L124.44,127.65 L124.58,127.30 L124.81,126.97 L125.13,126.73 L125.51,126.58 L125.93,126.53 L126.33,126.54 L126.73,126.60 L127.12,126.68 L127.49,126.82 L127.83,127.02 L128.11,127.28 L128.33,127.59 L128.50,127.91 L128.64,128.24 L128.79,128.58 Z" fill="none" stroke="#9c9ed8" stroke-width="0.45" stroke-opacity="0.8"/>
<path d="M130.35,129.17 L130.37,129.74 L130.32,130.33 L130.14,130.90 L129.77,131.39 L129.24,131.74 L128.65,131.95 L128.09,132.09 L127.58,132.27 L127.07,132.53 L126.50,132.77 L125.88,132.85 L125.29,132.66 L124.85,132.20 L124.60,131.62 L124.44,131.09 L124.20,130.73 L123.73,130.49 L123.02,130.23 L122.29,129.79 L121.81,129.17 L121.76,128.46 L122.17,127.85 L122.84,127.42 L123.53,127.14 L124.10,126.91 L124.52,126.61 L124.91,126.24 L125.37,125.90 L125.91,125.70 L126.50,125.72 L127.05,125.90 L127.55,126.15 L128.02,126.37 L128.52,126.56 L129.06,126.77 L129.56,127.08 L129.95,127.52 L130.19,128.04 L130.30,128.60 Z" fill="none" stroke="#9c9ed8" stroke-width="0.45" stroke-opacity="0.8"/>
<path d="M131.14,129.39 L131.16,130.06 L131.23,130.78 L131.25,131.58 L131.06,132.38 L130.60,133.07 L129.89,133.55 L129.05,133.78 L128.20,133.82 L127.41,133.77 L126.67,133.73 L125.94,133.72 L125.17,133.69 L124.39,133.57 L123.65,133.28 L123.02,132.81 L122.55,132.19 L122.27,131.49 L122.13,130.77 L122.08,130.07 L122.05,129.39 L122.03,128.70 L122.02,127.97 L122.10,127.21 L122.32,126.43 L122.76,125.73 L123.42,125.20 L124.23,124.90 L125.09,124.84 L125.92,124.96 L126.67,125.13 L127.36,125.26 L128.08,125.31 L128.86,125.35 L129.68,125.50 L130.43,125.86 L130.99,126.45 L131.27,127.19 L131.31,127.97 L131.22,128.71 Z" fill="none" stroke="#9c9ed8" stroke-width="0.45" stroke-opacity="0.8"/>
<path d="M131.85,129.61 L132.20,130.41 L132.65,131.38 L132.97,132.54 L132.91,133.75 L132.36,134.79 L131.35,135.44 L130.09,135.60 L128.82,135.35 L127.72,134.88 L126.83,134.46 L126.05,134.24 L125.23,134.24 L124.27,134.33 L123.19,134.31 L122.14,134.01 L121.31,133.38 L120.82,132.49 L120.68,131.49 L120.77,130.51 L120.95,129.61 L121.08,128.76 L121.18,127.89 L121.31,126.97 L121.62,126.06 L122.17,125.24 L122.98,124.63 L123.93,124.27 L124.92,124.10 L125.89,124.03 L126.83,123.96 L127.80,123.88 L128.83,123.86 L129.88,124.01 L130.83,124.46 L131.53,125.20 L131.90,126.16 L131.95,127.17 L131.82,128.09 L131.74,128.88 Z" fill="none" stroke="#9c9ed8" stroke-width="0.45" stroke-opacity="0.8"/>
<path d="M134.50,129.83 L134.46,130.94 L134.20,132.03 L133.69,133.03 L132.95,133.88 L132.07,134.59 L131.15,135.18 L130.22,135.75 L129.25,136.34 L128.19,136.90 L127.00,137.32 L125.71,137.47 L124.42,137.27 L123.26,136.71 L122.33,135.86 L121.66,134.84 L121.26,133.75 L121.05,132.68 L120.95,131.68 L120.87,130.74 L120.70,129.83 L120.43,128.86 L120.12,127.74 L119.94,126.46 L120.09,125.13 L120.70,123.93 L121.76,123.07 L123.13,122.70 L124.56,122.79 L125.87,123.14 L127.00,123.53 L128.02,123.79 L129.05,123.92 L130.16,124.02 L131.31,124.28 L132.37,124.80 L133.22,125.60 L133.82,126.58 L134.19,127.64 L134.40,128.73 Z" fill="none" stroke="#9c9ed8" stroke-width="0.45" stroke-opacity="0.8"/>
<path d="M134.62,130.06 L135.82,131.34 L136.37,132.86 L135.88,134.22 L134.52,135.06 L132.85,135.38 L131.43,135.56 L130.46,136.12 L129.67,137.28 L128.64,138.79 L127.17,140.03 L125.42,140.42 L123.80,139.76 L122.66,138.35 L121.99,136.73 L121.53,135.34 L120.96,134.29 L120.18,133.39 L119.41,132.42 L118.94,131.28 L118.93,130.06 L119.28,128.88 L119.74,127.79 L120.13,126.70 L120.49,125.51 L121.02,124.29 L121.89,123.25 L123.09,122.55 L124.45,122.20 L125.81,122.00 L127.17,121.69 L128.66,121.22 L130.35,120.86 L132.08,121.01 L133.44,121.96 L134.05,123.60 L133.88,125.48 L133.33,127.11 L133.05,128.26 L133.50,129.11 Z" fill="none" stroke="#9c9ed8" stroke-width="0.45" stroke-opacity="0.8"/>
<path d="M136.55,130.28 L136.19,131.59 L136.35,133.03 L136.63,134.72 L136.38,136.44 L135.29,137.74 L133.52,138.26 L131.60,138.12 L129.95,137.82 L128.62,137.92 L127.33,138.58 L125.78,139.46 L124.00,139.90 L122.36,139.43 L121.27,138.11 L120.77,136.43 L120.47,134.95 L119.79,133.88 L118.44,132.99 L116.72,131.85 L115.37,130.28 L115.08,128.46 L116.04,126.84 L117.82,125.73 L119.69,125.07 L121.14,124.47 L122.14,123.58 L123.06,122.41 L124.24,121.36 L125.75,120.91 L127.33,121.24 L128.72,122.06 L129.92,122.83 L131.20,123.16 L132.87,123.13 L134.88,123.20 L136.76,123.86 L137.91,125.23 L138.03,127.02 L137.36,128.79 Z" fill="none" stroke="#9c9ed8" stroke-width="0.45" stroke-opacity="0.8"/>
<path d="M138.87,130.50 L138.72,132.17 L138.32,133.79 L137.73,135.39 L136.95,136.94 L135.91,138.38 L134.53,139.57 L132.85,140.35 L131.02,140.65 L129.20,140.56 L127.50,140.27 L125.90,139.96 L124.31,139.69 L122.68,139.36 L121.05,138.82 L119.57,137.93 L118.37,136.72 L117.49,135.28 L116.87,133.74 L116.38,132.15 L116.01,130.50 L115.85,128.77 L116.08,127.02 L116.81,125.39 L118.02,124.04 L119.53,123.02 L121.13,122.28 L122.69,121.65 L124.22,121.03 L125.80,120.44 L127.50,120.03 L129.28,119.98 L131.01,120.38 L132.57,121.17 L133.92,122.22 L135.11,123.36 L136.22,124.56 L137.25,125.84 L138.11,127.27 L138.68,128.84 Z" fill="none" stroke="#9c9ed8" stroke-width="0.45" stroke-opacity="0.8"/>
<path d="M143.85,137.20 L143.88,137.36 L143.83,137.51 L143.71,137.64 L143.56,137.76 L143.41,137.85 L143.25,137.94 L143.09,138.03 L142.90,138.09 L142.70,138.11 L142.50,138.09 L142.31,138.04 L142.15,137.98 L141.99,137.92 L141.83,137.87 L141.66,137.80 L141.51,137.72 L141.39,137.61 L141.32,137.48 L141.30,137.34 L141.30,137.20 L141.29,137.06 L141.29,136.92 L141.30,136.76 L141.37,136.61 L141.49,136.47 L141.68,136.38 L141.89,136.34 L142.11,136.33 L142.31,136.33 L142.50,136.34 L142.69,136.36 L142.87,136.39 L143.03,136.45 L143.17,136.53 L143.29,136.63 L143.39,136.73 L143.50,136.83 L143.63,136.94 L143.76,137.06 Z" fill="none" stroke="#b0b2e2" stroke-width="0.45" stroke-opacity="0.8"/>
<path d="M145.42,137.20 L145.37,137.53 L145.13,137.81 L144.80,138.04 L144.48,138.24 L144.20,138.42 L143.93,138.62 L143.63,138.80 L143.28,138.94 L142.89,138.99 L142.50,138.98 L142.12,138.93 L141.75,138.87 L141.37,138.80 L141.01,138.68 L140.71,138.49 L140.52,138.24 L140.46,137.95 L140.45,137.68 L140.40,137.44 L140.26,137.20 L140.04,136.92 L139.85,136.58 L139.82,136.22 L140.02,135.90 L140.42,135.70 L140.91,135.63 L141.38,135.62 L141.78,135.61 L142.14,135.56 L142.50,135.48 L142.89,135.45 L143.26,135.51 L143.57,135.68 L143.80,135.91 L144.00,136.12 L144.23,136.30 L144.54,136.45 L144.92,136.63 L145.25,136.89 Z" fill="none" stroke="#b0b2e2" stroke-width="0.45" stroke-opacity="0.8"/>
<path d="M146.10,137.20 L145.89,137.59 L145.55,137.91 L145.22,138.20 L145.02,138.52 L144.93,138.95 L144.83,139.51 L144.53,140.07 L143.98,140.48 L143.24,140.59 L142.50,140.38 L141.89,139.98 L141.44,139.55 L141.05,139.25 L140.61,139.07 L140.08,138.94 L139.54,138.75 L139.12,138.44 L138.91,138.04 L138.88,137.61 L138.93,137.20 L138.97,136.80 L138.98,136.38 L139.05,135.93 L139.29,135.52 L139.72,135.20 L140.29,135.01 L140.88,134.92 L141.43,134.83 L141.95,134.69 L142.50,134.49 L143.13,134.32 L143.81,134.29 L144.43,134.47 L144.91,134.81 L145.23,135.23 L145.46,135.65 L145.69,136.03 L145.92,136.40 L146.10,136.79 Z" fill="none" stroke="#b0b2e2" stroke-width="0.45" stroke-opacity="0.8"/>
<path d="M147.51,137.20 L147.46,137.77 L147.28,138.32 L147.05,138.87 L146.80,139.45 L146.46,140.05 L145.94,140.61 L145.19,141.00 L144.25,141.08 L143.30,140.85 L142.50,140.41 L141.89,139.96 L141.37,139.70 L140.76,139.66 L139.93,139.74 L138.95,139.75 L138.03,139.54 L137.41,139.07 L137.20,138.44 L137.33,137.79 L137.58,137.20 L137.76,136.66 L137.83,136.11 L137.88,135.51 L138.10,134.90 L138.58,134.38 L139.31,134.04 L140.16,133.89 L141.00,133.87 L141.77,133.88 L142.50,133.86 L143.24,133.84 L143.99,133.89 L144.72,134.06 L145.37,134.36 L145.91,134.75 L146.36,135.18 L146.77,135.63 L147.13,136.12 L147.40,136.64 Z" fill="none" stroke="#b0b2e2" stroke-width="0.45" stroke-opacity="0.8"/>
<line x1="137.7" y1="109.3" x2="137.7" y2="152.6" stroke="#808080" stroke-width="0.7"/>
<line x1="111.5" y1="136.4" x2="137.7" y2="136.4" stroke="#808080" stroke-width="0.7"/>
<line x1="137.7" y1="131.9" x2="155.2" y2="131.9" stroke="#a0a0a0" stroke-width="0.7"/>
<text x="114.50" y="114.79" font-size="3.9" font-weight="bold" fill="#000" textLength="18.50" lengthAdjust="spacingAndGlyphs">Granulocytes</text>
<text x="138.00" y="148.19" font-size="3.9" font-weight="bold" fill="#000" textLength="17.90" lengthAdjust="spacingAndGlyphs">Monocytes/</text>
<text x="136.30" y="151.89" font-size="3.9" font-weight="bold" fill="#000" textLength="20.90" lengthAdjust="spacingAndGlyphs">Macrophages</text>
<line x1="110.3" y1="118" x2="111.5" y2="118" stroke="#999" stroke-width="0.4"/>
<rect x="106.9" y="117.5" width="2.6" height="1" fill="#bbb"/>
<line x1="110.3" y1="136" x2="111.5" y2="136" stroke="#999" stroke-width="0.4"/>
<rect x="106.9" y="135.5" width="2.6" height="1" fill="#bbb"/>
<line x1="110.3" y1="145" x2="111.5" y2="145" stroke="#999" stroke-width="0.4"/>
<rect x="106.9" y="144.5" width="2.6" height="1" fill="#bbb"/>
<line x1="110.3" y1="151" x2="111.5" y2="151" stroke="#999" stroke-width="0.4"/>
<rect x="106.9" y="150.5" width="2.6" height="1" fill="#bbb"/>
<line x1="115" y1="152.6" x2="115" y2="153.79999999999998" stroke="#999" stroke-width="0.4"/>
<rect x="114" y="154.6" width="2" height="0.9" fill="#bbb"/>
<line x1="120" y1="152.6" x2="120" y2="153.79999999999998" stroke="#999" stroke-width="0.4"/>
<rect x="119" y="154.6" width="2" height="0.9" fill="#bbb"/>
<line x1="131" y1="152.6" x2="131" y2="153.79999999999998" stroke="#999" stroke-width="0.4"/>
<rect x="130" y="154.6" width="2" height="0.9" fill="#bbb"/>
<line x1="137.7" y1="152.6" x2="137.7" y2="153.79999999999998" stroke="#999" stroke-width="0.4"/>
<rect x="136.7" y="154.6" width="2" height="0.9" fill="#bbb"/>
<line x1="147" y1="152.6" x2="147" y2="153.79999999999998" stroke="#999" stroke-width="0.4"/>
<rect x="146" y="154.6" width="2" height="0.9" fill="#bbb"/>
<line x1="104.6" y1="141.8" x2="104.6" y2="112.9" stroke="#000" stroke-width="0.8"/>
<path d="M104.6,110.4 L103.0,113.60000000000001 L106.19999999999999,113.60000000000001 Z" fill="#000"/>
<text transform="translate(105.49,152.60) rotate(-90)" font-size="3.9" font-weight="bold" textLength="9.20" lengthAdjust="spacingAndGlyphs">CD16</text>
<text x="112.80" y="161.39" font-size="3.9" font-weight="bold" fill="#000" textLength="7.10" lengthAdjust="spacingAndGlyphs">CD14</text>
<line x1="122" y1="160.3" x2="153.5" y2="160.3" stroke="#000" stroke-width="0.8"/>
<path d="M156,160.3 L152.8,158.70000000000002 L152.8,161.9 Z" fill="#000"/>
<path d="M155,131.6 L161,131.6 L161,100.6 L164,100.6" stroke="#c2c2c2" stroke-width="1.5" fill="none"/>
<path d="M168.5,100.6 L163.2,97.6 L163.2,103.6 Z" fill="#c2c2c2"/>
<text x="169.50" y="102.80" font-size="5.0" font-weight="bold" fill="#000" textLength="15.50" lengthAdjust="spacingAndGlyphs">Sorting</text>
<path d="M177.9,96.6 L177.9,84.4 L182,84.4" stroke="#9c72b8" stroke-width="1.6" fill="none"/>
<path d="M187.2,84.4 L181.6,81.6 L181.6,87.2 Z" fill="#9c72b8"/>
<path d="M177.9,105.8 L177.9,120.3 L181.5,120.3" stroke="#a7c3e8" stroke-width="1.6" fill="none"/>
<path d="M186.6,120.3 L181,117.5 L181,123.1 Z" fill="#a7c3e8"/>
<text x="183.70" y="62.04" font-size="5.5" font-weight="bold" fill="#000" textLength="24.80" lengthAdjust="spacingAndGlyphs">Neutrophils</text>
<circle cx="188.3" cy="71.6" r="5.6" fill="#d3bde6"/>
<circle cx="188.3" cy="71.6" r="4.9" fill="#c2a6dc"/>
<circle cx="189.03" cy="70.68" r="0.5" fill="#e8def2"/>
<circle cx="185.46" cy="72.50" r="0.5" fill="#e8def2"/>
<circle cx="185.19" cy="70.96" r="0.5" fill="#e8def2"/>
<circle cx="189.73" cy="68.38" r="0.5" fill="#e8def2"/>
<circle cx="187.98" cy="71.80" r="0.5" fill="#e8def2"/>
<circle cx="189.23" cy="72.75" r="0.5" fill="#e8def2"/>
<circle cx="189.79" cy="68.97" r="0.5" fill="#e8def2"/>
<circle cx="187.56" cy="74.11" r="0.5" fill="#e8def2"/>
<circle cx="187.84" cy="74.33" r="0.5" fill="#e8def2"/>
<circle cx="187.88" cy="72.47" r="0.5" fill="#e8def2"/>
<g transform="translate(188.3,71.6) rotate(0)"><path d="M2.6,-2.6 C0.5,-4 -3.3,-2.6 -3.2,0.5 C-3.1,3.2 -0.6,3.9 1.6,2.9" stroke="#6e3fa6" stroke-opacity="0.85" stroke-width="1.6" fill="none" stroke-linecap="round"/><path d="M-0.8,-0.6 C0.2,0.3 1.4,0 2.4,0.7" stroke="#7a4cb0" stroke-opacity="0.8" stroke-width="1.1" fill="none" stroke-linecap="round"/></g>
<circle cx="202.3" cy="72.4" r="5.6" fill="#d3bde6"/>
<circle cx="202.3" cy="72.4" r="4.9" fill="#c2a6dc"/>
<circle cx="204.79" cy="74.07" r="0.5" fill="#e8def2"/>
<circle cx="198.63" cy="73.72" r="0.5" fill="#e8def2"/>
<circle cx="201.00" cy="71.47" r="0.5" fill="#e8def2"/>
<circle cx="202.03" cy="72.22" r="0.5" fill="#e8def2"/>
<circle cx="202.34" cy="72.20" r="0.5" fill="#e8def2"/>
<circle cx="204.06" cy="72.33" r="0.5" fill="#e8def2"/>
<circle cx="204.85" cy="71.73" r="0.5" fill="#e8def2"/>
<circle cx="202.90" cy="72.88" r="0.5" fill="#e8def2"/>
<circle cx="202.95" cy="72.63" r="0.5" fill="#e8def2"/>
<circle cx="202.60" cy="71.65" r="0.5" fill="#e8def2"/>
<g transform="translate(202.3,72.4) rotate(40)"><path d="M2.6,-2.6 C0.5,-4 -3.3,-2.6 -3.2,0.5 C-3.1,3.2 -0.6,3.9 1.6,2.9" stroke="#6e3fa6" stroke-opacity="0.85" stroke-width="1.6" fill="none" stroke-linecap="round"/><path d="M-0.8,-0.6 C0.2,0.3 1.4,0 2.4,0.7" stroke="#7a4cb0" stroke-opacity="0.8" stroke-width="1.1" fill="none" stroke-linecap="round"/></g>
<circle cx="196.8" cy="82.8" r="5.6" fill="#d3bde6"/>
<circle cx="196.8" cy="82.8" r="4.9" fill="#c2a6dc"/>
<circle cx="196.81" cy="82.81" r="0.5" fill="#e8def2"/>
<circle cx="199.23" cy="84.64" r="0.5" fill="#e8def2"/>
<circle cx="194.97" cy="82.87" r="0.5" fill="#e8def2"/>
<circle cx="196.76" cy="80.97" r="0.5" fill="#e8def2"/>
<circle cx="198.11" cy="81.29" r="0.5" fill="#e8def2"/>
<circle cx="199.15" cy="81.86" r="0.5" fill="#e8def2"/>
<circle cx="199.37" cy="80.56" r="0.5" fill="#e8def2"/>
<circle cx="192.82" cy="81.48" r="0.5" fill="#e8def2"/>
<circle cx="199.70" cy="80.83" r="0.5" fill="#e8def2"/>
<circle cx="197.76" cy="84.99" r="0.5" fill="#e8def2"/>
<g transform="translate(196.8,82.8) rotate(-30)"><path d="M2.6,-2.6 C0.5,-4 -3.3,-2.6 -3.2,0.5 C-3.1,3.2 -0.6,3.9 1.6,2.9" stroke="#6e3fa6" stroke-opacity="0.85" stroke-width="1.6" fill="none" stroke-linecap="round"/><path d="M-0.8,-0.6 C0.2,0.3 1.4,0 2.4,0.7" stroke="#7a4cb0" stroke-opacity="0.8" stroke-width="1.1" fill="none" stroke-linecap="round"/></g>
<circle cx="194.2" cy="114.8" r="4.8" fill="#7657b2"/>
<circle cx="192.28" cy="113.04" r="1.9" fill="#c9bce0"/>
<circle cx="192.94" cy="111.58" r="0.5" fill="#ffffff"/>
<circle cx="191.02" cy="113.81" r="0.5" fill="#ffffff"/>
<circle cx="192.32" cy="113.09" r="0.5" fill="#ffffff"/>
<circle cx="193.56" cy="112.47" r="0.5" fill="#ffffff"/>
<circle cx="192.31" cy="114.32" r="0.5" fill="#ffffff"/>
<circle cx="191.80" cy="113.19" r="0.5" fill="#ffffff"/>
<circle cx="191.52" cy="112.11" r="0.5" fill="#ffffff"/>
<circle cx="192.72" cy="113.32" r="0.5" fill="#ffffff"/>
<circle cx="192.43" cy="113.21" r="0.5" fill="#ffffff"/>
<circle cx="192.12" cy="113.70" r="0.5" fill="#ffffff"/>
<circle cx="193.59" cy="111.94" r="0.5" fill="#ffffff"/>
<circle cx="192.47" cy="113.18" r="0.5" fill="#ffffff"/>
<circle cx="193.77" cy="112.86" r="0.4" fill="#6a4ca6"/>
<circle cx="191.76" cy="113.73" r="0.4" fill="#6a4ca6"/>
<circle cx="192.19" cy="112.88" r="0.4" fill="#6a4ca6"/>
<circle cx="191.69" cy="112.44" r="0.4" fill="#6a4ca6"/>
<circle cx="192.38" cy="112.08" r="0.4" fill="#6a4ca6"/>
<circle cx="191.43" cy="112.69" r="0.4" fill="#6a4ca6"/>
<circle cx="203.4" cy="121.1" r="4.8" fill="#7657b2"/>
<circle cx="205.99" cy="121.36" r="1.9" fill="#c9bce0"/>
<circle cx="206.59" cy="121.68" r="0.5" fill="#ffffff"/>
<circle cx="206.02" cy="121.27" r="0.5" fill="#ffffff"/>
<circle cx="206.42" cy="121.76" r="0.5" fill="#ffffff"/>
<circle cx="205.99" cy="121.37" r="0.5" fill="#ffffff"/>
<circle cx="205.77" cy="121.66" r="0.5" fill="#ffffff"/>
<circle cx="206.01" cy="121.29" r="0.5" fill="#ffffff"/>
<circle cx="204.38" cy="121.44" r="0.5" fill="#ffffff"/>
<circle cx="207.01" cy="120.23" r="0.5" fill="#ffffff"/>
<circle cx="206.00" cy="121.38" r="0.5" fill="#ffffff"/>
<circle cx="204.24" cy="121.57" r="0.5" fill="#ffffff"/>
<circle cx="205.98" cy="121.37" r="0.5" fill="#ffffff"/>
<circle cx="205.93" cy="121.38" r="0.5" fill="#ffffff"/>
<circle cx="206.19" cy="121.82" r="0.4" fill="#6a4ca6"/>
<circle cx="206.00" cy="121.12" r="0.4" fill="#6a4ca6"/>
<circle cx="206.35" cy="121.39" r="0.4" fill="#6a4ca6"/>
<circle cx="205.08" cy="120.82" r="0.4" fill="#6a4ca6"/>
<circle cx="206.15" cy="121.47" r="0.4" fill="#6a4ca6"/>
<circle cx="205.07" cy="120.53" r="0.4" fill="#6a4ca6"/>
<circle cx="191.5" cy="127.4" r="5.2" fill="#7657b2"/>
<circle cx="191.42" cy="124.80" r="1.9" fill="#c9bce0"/>
<circle cx="190.81" cy="124.74" r="0.5" fill="#ffffff"/>
<circle cx="190.56" cy="125.48" r="0.5" fill="#ffffff"/>
<circle cx="192.85" cy="124.49" r="0.5" fill="#ffffff"/>
<circle cx="192.19" cy="126.20" r="0.5" fill="#ffffff"/>
<circle cx="192.34" cy="124.64" r="0.5" fill="#ffffff"/>
<circle cx="192.22" cy="125.95" r="0.5" fill="#ffffff"/>
<circle cx="191.56" cy="124.99" r="0.5" fill="#ffffff"/>
<circle cx="191.10" cy="124.65" r="0.5" fill="#ffffff"/>
<circle cx="191.97" cy="124.74" r="0.5" fill="#ffffff"/>
<circle cx="192.08" cy="123.92" r="0.5" fill="#ffffff"/>
<circle cx="191.90" cy="125.75" r="0.5" fill="#ffffff"/>
<circle cx="190.18" cy="125.82" r="0.5" fill="#ffffff"/>
<circle cx="191.43" cy="124.80" r="0.4" fill="#6a4ca6"/>
<circle cx="191.51" cy="124.86" r="0.4" fill="#6a4ca6"/>
<circle cx="190.80" cy="125.01" r="0.4" fill="#6a4ca6"/>
<circle cx="191.53" cy="125.80" r="0.4" fill="#6a4ca6"/>
<circle cx="191.28" cy="124.95" r="0.4" fill="#6a4ca6"/>
<circle cx="192.30" cy="123.68" r="0.4" fill="#6a4ca6"/>
<text x="182.60" y="141.84" font-size="5.5" font-weight="bold" fill="#000" textLength="25.90" lengthAdjust="spacingAndGlyphs">Monocytes/</text>
<text x="180.40" y="147.64" font-size="5.5" font-weight="bold" fill="#000" textLength="29.50" lengthAdjust="spacingAndGlyphs">Macrophages</text>
<rect x="222.5" y="45.4" width="44.3" height="44.2" fill="none" stroke="#b0b0b0" stroke-width="0.6"/>
<ellipse cx="235" cy="70.3" rx="8.6" ry="7.6" fill="#f8e2de"/>
<path d="M234.49,69.57 L234.48,69.69 L234.43,69.80 L234.37,69.90 L234.28,69.99 L234.19,70.06 L234.10,70.13 L234.00,70.20 L233.89,70.26 L233.77,70.32 L233.64,70.36 L233.49,70.38 L233.34,70.37 L233.20,70.33 L233.08,70.25 L232.99,70.14 L232.94,70.02 L232.90,69.90 L232.88,69.79 L232.86,69.68 L232.84,69.57 L232.82,69.46 L232.83,69.34 L232.87,69.23 L232.94,69.13 L233.04,69.05 L233.15,68.98 L233.27,68.93 L233.38,68.88 L233.50,68.84 L233.64,68.80 L233.78,68.79 L233.92,68.80 L234.05,68.85 L234.17,68.93 L234.26,69.02 L234.33,69.13 L234.40,69.23 L234.45,69.34 L234.48,69.45 Z" fill="none" stroke="#e8a49a" stroke-width="0.45" stroke-opacity="0.75"/>
<path d="M235.45,69.65 L235.34,69.86 L235.24,70.07 L235.18,70.28 L235.14,70.52 L235.06,70.78 L234.88,71.00 L234.63,71.13 L234.33,71.15 L234.03,71.09 L233.77,71.02 L233.53,70.98 L233.29,70.97 L233.02,70.96 L232.74,70.90 L232.50,70.77 L232.33,70.57 L232.22,70.34 L232.14,70.11 L232.06,69.88 L232.00,69.65 L231.98,69.39 L232.04,69.15 L232.20,68.94 L232.43,68.79 L232.67,68.67 L232.89,68.57 L233.07,68.44 L233.27,68.27 L233.50,68.12 L233.77,68.03 L234.06,68.04 L234.32,68.15 L234.55,68.30 L234.75,68.46 L234.95,68.60 L235.17,68.75 L235.37,68.93 L235.50,69.15 L235.52,69.40 Z" fill="none" stroke="#e8a49a" stroke-width="0.45" stroke-opacity="0.75"/>
<path d="M236.45,69.72 L236.33,70.06 L236.20,70.38 L236.09,70.70 L235.97,71.04 L235.80,71.38 L235.52,71.68 L235.15,71.88 L234.73,71.96 L234.31,71.95 L233.91,71.89 L233.53,71.84 L233.15,71.79 L232.76,71.71 L232.38,71.58 L232.06,71.35 L231.81,71.07 L231.64,70.74 L231.53,70.40 L231.45,70.06 L231.39,69.72 L231.38,69.36 L231.44,69.01 L231.58,68.67 L231.81,68.37 L232.09,68.11 L232.40,67.88 L232.73,67.68 L233.10,67.51 L233.49,67.41 L233.91,67.40 L234.31,67.48 L234.68,67.63 L235.01,67.80 L235.34,67.98 L235.67,68.17 L236.00,68.38 L236.28,68.65 L236.47,68.98 L236.52,69.35 Z" fill="none" stroke="#e8a49a" stroke-width="0.45" stroke-opacity="0.75"/>
<path d="M237.61,69.79 L237.73,70.31 L237.66,70.83 L237.39,71.30 L236.99,71.68 L236.53,71.98 L236.06,72.24 L235.60,72.49 L235.12,72.71 L234.60,72.87 L234.05,72.90 L233.51,72.79 L233.03,72.55 L232.62,72.25 L232.26,71.96 L231.89,71.69 L231.50,71.43 L231.09,71.12 L230.74,70.74 L230.52,70.28 L230.45,69.79 L230.52,69.30 L230.69,68.83 L230.93,68.39 L231.21,67.97 L231.54,67.58 L231.95,67.25 L232.43,66.99 L232.95,66.82 L233.50,66.74 L234.05,66.74 L234.58,66.81 L235.09,66.96 L235.54,67.19 L235.93,67.50 L236.25,67.85 L236.51,68.21 L236.77,68.56 L237.06,68.93 L237.36,69.33 Z" fill="none" stroke="#e8a49a" stroke-width="0.45" stroke-opacity="0.75"/>
<path d="M238.57,69.86 L238.36,70.45 L238.09,70.99 L237.83,71.51 L237.56,72.03 L237.21,72.54 L236.74,72.97 L236.15,73.28 L235.50,73.45 L234.84,73.51 L234.18,73.54 L233.52,73.55 L232.84,73.52 L232.15,73.38 L231.54,73.08 L231.08,72.61 L230.80,72.03 L230.65,71.45 L230.52,70.91 L230.33,70.40 L230.07,69.86 L229.84,69.26 L229.78,68.60 L229.96,67.97 L230.40,67.44 L231.00,67.05 L231.65,66.79 L232.30,66.59 L232.92,66.42 L233.54,66.28 L234.18,66.21 L234.83,66.26 L235.45,66.41 L236.04,66.65 L236.60,66.93 L237.16,67.24 L237.71,67.60 L238.20,68.06 L238.53,68.61 L238.66,69.24 Z" fill="none" stroke="#e8a49a" stroke-width="0.45" stroke-opacity="0.75"/>
<path d="M239.29,69.94 L239.05,70.60 L238.80,71.22 L238.56,71.85 L238.31,72.50 L237.98,73.17 L237.49,73.79 L236.82,74.27 L236.02,74.55 L235.16,74.60 L234.32,74.48 L233.54,74.27 L232.81,74.02 L232.11,73.77 L231.41,73.48 L230.74,73.10 L230.17,72.60 L229.74,71.99 L229.47,71.33 L229.32,70.64 L229.25,69.94 L229.23,69.23 L229.30,68.50 L229.50,67.77 L229.88,67.09 L230.46,66.53 L231.20,66.14 L232.00,65.92 L232.81,65.84 L233.58,65.82 L234.32,65.82 L235.06,65.82 L235.83,65.84 L236.63,65.93 L237.43,66.15 L238.18,66.52 L238.81,67.05 L239.25,67.72 L239.46,68.46 L239.46,69.22 Z" fill="none" stroke="#e8a49a" stroke-width="0.45" stroke-opacity="0.75"/>
<path d="M240.29,70.01 L240.17,70.81 L239.99,71.60 L239.68,72.36 L239.18,73.04 L238.53,73.60 L237.79,74.06 L237.03,74.47 L236.26,74.90 L235.41,75.34 L234.45,75.67 L233.42,75.75 L232.44,75.48 L231.63,74.90 L231.05,74.15 L230.60,73.41 L230.14,72.78 L229.56,72.21 L228.88,71.61 L228.28,70.87 L227.96,70.01 L228.03,69.11 L228.45,68.29 L229.07,67.59 L229.74,66.99 L230.39,66.42 L231.04,65.86 L231.77,65.35 L232.61,65.00 L233.53,64.86 L234.45,64.92 L235.34,65.07 L236.21,65.24 L237.11,65.41 L238.05,65.64 L238.96,66.03 L239.71,66.64 L240.19,67.43 L240.39,68.31 L240.39,69.18 Z" fill="none" stroke="#e8a49a" stroke-width="0.45" stroke-opacity="0.75"/>
<path d="M241.07,70.08 L240.75,70.94 L240.51,71.78 L240.33,72.66 L240.09,73.61 L239.62,74.52 L238.84,75.24 L237.82,75.68 L236.71,75.83 L235.62,75.84 L234.59,75.84 L233.55,75.90 L232.44,75.94 L231.29,75.80 L230.23,75.38 L229.41,74.66 L228.88,73.74 L228.60,72.78 L228.42,71.85 L228.23,70.97 L228.05,70.08 L227.97,69.16 L228.11,68.22 L228.52,67.35 L229.15,66.59 L229.89,65.93 L230.68,65.33 L231.52,64.76 L232.45,64.26 L233.48,63.91 L234.59,63.80 L235.69,63.96 L236.72,64.31 L237.67,64.75 L238.59,65.22 L239.51,65.74 L240.36,66.38 L241.02,67.19 L241.35,68.14 L241.33,69.14 Z" fill="none" stroke="#e8a49a" stroke-width="0.45" stroke-opacity="0.75"/>
<path d="M242.40,70.15 L242.44,71.23 L242.32,72.33 L241.93,73.40 L241.22,74.32 L240.24,75.02 L239.16,75.54 L238.08,75.97 L237.03,76.40 L235.92,76.82 L234.73,77.09 L233.49,77.03 L232.35,76.61 L231.40,75.91 L230.61,75.16 L229.81,74.50 L228.83,73.94 L227.69,73.32 L226.62,72.48 L225.99,71.38 L226.02,70.15 L226.70,69.03 L227.73,68.15 L228.69,67.44 L229.37,66.72 L229.80,65.81 L230.25,64.72 L230.99,63.67 L232.08,62.97 L233.41,62.79 L234.73,63.09 L235.89,63.65 L236.92,64.19 L237.93,64.61 L239.00,64.96 L240.09,65.42 L241.05,66.10 L241.74,67.00 L242.13,68.03 L242.31,69.09 Z" fill="none" stroke="#e8a49a" stroke-width="0.45" stroke-opacity="0.75"/>
<path d="M243.71,70.23 L244.05,71.51 L243.91,72.82 L243.24,73.99 L242.14,74.90 L240.87,75.53 L239.62,76.01 L238.48,76.50 L237.37,77.05 L236.18,77.59 L234.86,77.94 L233.49,77.91 L232.19,77.49 L231.08,76.78 L230.12,75.99 L229.20,75.23 L228.19,74.51 L227.13,73.70 L226.21,72.71 L225.67,71.51 L225.66,70.23 L226.15,69.01 L226.93,67.95 L227.78,67.04 L228.55,66.17 L229.24,65.26 L229.98,64.30 L230.92,63.39 L232.08,62.67 L233.43,62.25 L234.86,62.16 L236.27,62.38 L237.58,62.85 L238.74,63.51 L239.72,64.33 L240.51,65.24 L241.16,66.19 L241.76,67.12 L242.40,68.07 L243.09,69.08 Z" fill="none" stroke="#e8a49a" stroke-width="0.45" stroke-opacity="0.75"/>
<path d="M245.66,70.30 L245.15,71.72 L244.07,72.90 L242.80,73.81 L241.68,74.58 L240.79,75.41 L240.00,76.37 L239.07,77.36 L237.89,78.16 L236.49,78.62 L235.00,78.72 L233.51,78.59 L232.03,78.36 L230.52,78.06 L229.01,77.57 L227.65,76.79 L226.65,75.66 L226.14,74.29 L226.07,72.86 L226.24,71.53 L226.41,70.30 L226.51,69.11 L226.62,67.90 L226.93,66.67 L227.57,65.53 L228.51,64.57 L229.63,63.77 L230.82,63.06 L232.08,62.36 L233.46,61.71 L235.00,61.29 L236.61,61.33 L238.09,61.90 L239.28,62.88 L240.18,64.01 L240.98,65.02 L241.94,65.85 L243.14,66.64 L244.42,67.60 L245.38,68.85 Z" fill="none" stroke="#e8a49a" stroke-width="0.45" stroke-opacity="0.75"/>
<ellipse cx="233.8" cy="69.6" rx="1.6" ry="1.2" fill="#fff"/>
<line x1="246.5" y1="45.4" x2="246.5" y2="89.6" stroke="#808080" stroke-width="0.7"/>
<line x1="222.5" y1="78.5" x2="246.5" y2="78.5" stroke="#909090" stroke-width="0.7"/>
<line x1="246.5" y1="70.2" x2="266.8" y2="70.2" stroke="#808080" stroke-width="0.7"/>
<text x="223.30" y="51.99" font-size="3.9" font-weight="bold" fill="#000" textLength="22.70" lengthAdjust="spacingAndGlyphs">Neutrophils</text>
<line x1="221.3" y1="53" x2="222.5" y2="53" stroke="#999" stroke-width="0.4"/>
<rect x="217.9" y="52.5" width="2.6" height="1" fill="#bbb"/>
<line x1="221.3" y1="70" x2="222.5" y2="70" stroke="#999" stroke-width="0.4"/>
<rect x="217.9" y="69.5" width="2.6" height="1" fill="#bbb"/>
<line x1="221.3" y1="80" x2="222.5" y2="80" stroke="#999" stroke-width="0.4"/>
<rect x="217.9" y="79.5" width="2.6" height="1" fill="#bbb"/>
<line x1="221.3" y1="88" x2="222.5" y2="88" stroke="#999" stroke-width="0.4"/>
<rect x="217.9" y="87.5" width="2.6" height="1" fill="#bbb"/>
<line x1="226" y1="89.6" x2="226" y2="90.8" stroke="#999" stroke-width="0.4"/>
<rect x="225" y="91.6" width="2" height="0.9" fill="#bbb"/>
<line x1="230" y1="89.6" x2="230" y2="90.8" stroke="#999" stroke-width="0.4"/>
<rect x="229" y="91.6" width="2" height="0.9" fill="#bbb"/>
<line x1="235" y1="89.6" x2="235" y2="90.8" stroke="#999" stroke-width="0.4"/>
<rect x="234" y="91.6" width="2" height="0.9" fill="#bbb"/>
<line x1="246.5" y1="89.6" x2="246.5" y2="90.8" stroke="#999" stroke-width="0.4"/>
<rect x="245.5" y="91.6" width="2" height="0.9" fill="#bbb"/>
<line x1="257.5" y1="89.6" x2="257.5" y2="90.8" stroke="#999" stroke-width="0.4"/>
<rect x="256.5" y="91.6" width="2" height="0.9" fill="#bbb"/>
<line x1="214.8" y1="76.3" x2="214.8" y2="49.9" stroke="#000" stroke-width="0.8"/>
<path d="M214.8,47.4 L213.20000000000002,50.6 L216.4,50.6 Z" fill="#000"/>
<text transform="translate(215.59,89.80) rotate(-90)" font-size="3.9" font-weight="bold" textLength="8.80" lengthAdjust="spacingAndGlyphs">CD16</text>
<text x="223.00" y="97.59" font-size="3.9" font-weight="bold" fill="#000" textLength="8.20" lengthAdjust="spacingAndGlyphs">CD14</text>
<line x1="233" y1="96.6" x2="264.7" y2="96.6" stroke="#000" stroke-width="0.8"/>
<path d="M267.2,96.6 L264.0,95.0 L264.0,98.19999999999999 Z" fill="#000"/>
<rect x="222.5" y="109.4" width="43.7" height="44" fill="none" stroke="#b0b0b0" stroke-width="0.6"/>
<path d="M250.48,141.00 L250.44,141.11 L250.43,141.22 L250.42,141.34 L250.37,141.46 L250.24,141.56 L250.04,141.60 L249.82,141.58 L249.62,141.54 L249.47,141.52 L249.34,141.55 L249.19,141.62 L248.98,141.70 L248.74,141.74 L248.53,141.70 L248.39,141.59 L248.35,141.45 L248.35,141.31 L248.36,141.20 L248.31,141.10 L248.23,141.00 L248.16,140.88 L248.15,140.76 L248.22,140.64 L248.36,140.55 L248.52,140.49 L248.69,140.44 L248.85,140.40 L249.01,140.37 L249.18,140.34 L249.34,140.34 L249.50,140.37 L249.66,140.39 L249.82,140.42 L250.00,140.44 L250.19,140.47 L250.38,140.53 L250.51,140.63 L250.56,140.75 L250.54,140.88 Z" fill="none" stroke="#cca4d4" stroke-width="0.45" stroke-opacity="0.8"/>
<path d="M251.58,141.00 L251.57,141.21 L251.56,141.42 L251.50,141.64 L251.33,141.84 L251.07,141.99 L250.74,142.08 L250.41,142.14 L250.10,142.19 L249.81,142.26 L249.49,142.36 L249.12,142.46 L248.70,142.51 L248.28,142.48 L247.91,142.35 L247.65,142.15 L247.50,141.90 L247.44,141.65 L247.43,141.42 L247.42,141.20 L247.39,141.00 L247.36,140.79 L247.35,140.57 L247.41,140.34 L247.56,140.13 L247.81,139.96 L248.14,139.84 L248.50,139.79 L248.85,139.78 L249.18,139.78 L249.49,139.75 L249.82,139.70 L250.20,139.63 L250.63,139.60 L251.06,139.65 L251.42,139.79 L251.64,140.02 L251.72,140.29 L251.69,140.55 L251.62,140.79 Z" fill="none" stroke="#cca4d4" stroke-width="0.45" stroke-opacity="0.8"/>
<path d="M252.99,141.00 L252.82,141.32 L252.64,141.61 L252.52,141.92 L252.41,142.27 L252.24,142.63 L251.89,142.95 L251.37,143.14 L250.76,143.18 L250.16,143.10 L249.63,142.99 L249.14,142.93 L248.62,142.94 L248.03,142.96 L247.43,142.89 L246.93,142.69 L246.63,142.36 L246.57,141.97 L246.64,141.61 L246.71,141.29 L246.69,141.00 L246.59,140.70 L246.51,140.37 L246.56,140.02 L246.77,139.70 L247.12,139.43 L247.54,139.21 L248.00,139.01 L248.50,138.82 L249.04,138.68 L249.63,138.63 L250.21,138.70 L250.72,138.90 L251.13,139.16 L251.47,139.42 L251.81,139.64 L252.19,139.83 L252.59,140.06 L252.90,140.34 L253.04,140.66 Z" fill="none" stroke="#cca4d4" stroke-width="0.45" stroke-opacity="0.8"/>
<path d="M254.59,141.00 L254.80,141.50 L254.81,142.02 L254.46,142.49 L253.75,142.81 L252.88,142.94 L252.06,142.97 L251.42,143.02 L250.92,143.20 L250.40,143.49 L249.77,143.78 L249.03,143.92 L248.29,143.85 L247.66,143.59 L247.14,143.26 L246.66,142.95 L246.13,142.65 L245.59,142.33 L245.13,141.94 L244.92,141.48 L244.97,141.00 L245.20,140.55 L245.46,140.12 L245.64,139.68 L245.81,139.20 L246.11,138.71 L246.68,138.34 L247.49,138.20 L248.38,138.33 L249.17,138.63 L249.77,138.90 L250.28,138.99 L250.88,138.87 L251.67,138.68 L252.58,138.58 L253.42,138.72 L253.99,139.08 L254.24,139.58 L254.32,140.08 L254.40,140.54 Z" fill="none" stroke="#cca4d4" stroke-width="0.45" stroke-opacity="0.8"/>
<path d="M255.95,141.00 L256.03,141.61 L255.84,142.20 L255.39,142.74 L254.74,143.19 L253.99,143.54 L253.21,143.83 L252.43,144.08 L251.63,144.31 L250.80,144.49 L249.91,144.59 L249.01,144.58 L248.13,144.43 L247.34,144.15 L246.67,143.79 L246.12,143.37 L245.65,142.94 L245.24,142.49 L244.84,142.03 L244.47,141.54 L244.16,141.00 L243.96,140.41 L243.96,139.79 L244.22,139.19 L244.74,138.65 L245.50,138.24 L246.39,137.97 L247.32,137.81 L248.22,137.74 L249.08,137.69 L249.91,137.67 L250.76,137.67 L251.60,137.75 L252.42,137.93 L253.15,138.22 L253.78,138.58 L254.32,139.00 L254.80,139.44 L255.26,139.92 L255.66,140.43 Z" fill="none" stroke="#cca4d4" stroke-width="0.45" stroke-opacity="0.8"/>
<path d="M256.47,141.00 L256.83,141.67 L257.10,142.43 L257.11,143.25 L256.71,144.02 L255.88,144.64 L254.72,145.01 L253.41,145.11 L252.15,145.02 L251.03,144.84 L250.06,144.67 L249.15,144.57 L248.22,144.53 L247.22,144.48 L246.17,144.34 L245.17,144.06 L244.32,143.61 L243.71,143.02 L243.39,142.35 L243.30,141.67 L243.35,141.00 L243.47,140.35 L243.61,139.69 L243.82,139.01 L244.17,138.33 L244.76,137.69 L245.61,137.17 L246.66,136.84 L247.82,136.70 L248.98,136.74 L250.06,136.86 L251.07,137.01 L252.05,137.17 L253.01,137.37 L253.93,137.67 L254.72,138.09 L255.30,138.62 L255.68,139.21 L255.93,139.81 L256.17,140.40 Z" fill="none" stroke="#cca4d4" stroke-width="0.45" stroke-opacity="0.8"/>
<path d="M258.99,141.00 L258.43,141.81 L257.51,142.49 L256.62,143.04 L255.97,143.62 L255.51,144.32 L254.97,145.10 L254.10,145.79 L252.89,146.17 L251.51,146.16 L250.20,145.89 L249.05,145.56 L247.94,145.35 L246.73,145.26 L245.38,145.14 L244.09,144.82 L243.13,144.21 L242.69,143.39 L242.66,142.53 L242.79,141.73 L242.78,141.00 L242.59,140.25 L242.43,139.42 L242.61,138.58 L243.29,137.86 L244.40,137.38 L245.67,137.11 L246.87,136.91 L247.93,136.63 L248.99,136.24 L250.20,135.86 L251.54,135.70 L252.86,135.89 L253.94,136.41 L254.74,137.09 L255.42,137.73 L256.22,138.27 L257.21,138.77 L258.23,139.37 L258.92,140.14 Z" fill="none" stroke="#cca4d4" stroke-width="0.45" stroke-opacity="0.8"/>
<line x1="241.8" y1="109.4" x2="241.8" y2="153.4" stroke="#909090" stroke-width="0.7"/>
<line x1="222.5" y1="139.7" x2="241.8" y2="139.7" stroke="#909090" stroke-width="0.8"/>
<line x1="241.8" y1="134.5" x2="266.2" y2="134.5" stroke="#808080" stroke-width="0.7"/>
<text x="244.80" y="148.99" font-size="3.9" font-weight="bold" fill="#000" textLength="19.10" lengthAdjust="spacingAndGlyphs">Monocytes/</text>
<text x="243.30" y="152.89" font-size="3.9" font-weight="bold" fill="#000" textLength="21.80" lengthAdjust="spacingAndGlyphs">Macrophages</text>
<line x1="221.3" y1="117.5" x2="222.5" y2="117.5" stroke="#999" stroke-width="0.4"/>
<rect x="217.9" y="117.0" width="2.6" height="1" fill="#bbb"/>
<line x1="221.3" y1="136" x2="222.5" y2="136" stroke="#999" stroke-width="0.4"/>
<rect x="217.9" y="135.5" width="2.6" height="1" fill="#bbb"/>
<line x1="221.3" y1="145" x2="222.5" y2="145" stroke="#999" stroke-width="0.4"/>
<rect x="217.9" y="144.5" width="2.6" height="1" fill="#bbb"/>
<line x1="221.3" y1="152" x2="222.5" y2="152" stroke="#999" stroke-width="0.4"/>
<rect x="217.9" y="151.5" width="2.6" height="1" fill="#bbb"/>
<line x1="226" y1="153.4" x2="226" y2="154.6" stroke="#999" stroke-width="0.4"/>
<rect x="225" y="155.4" width="2" height="0.9" fill="#bbb"/>
<line x1="230" y1="153.4" x2="230" y2="154.6" stroke="#999" stroke-width="0.4"/>
<rect x="229" y="155.4" width="2" height="0.9" fill="#bbb"/>
<line x1="235" y1="153.4" x2="235" y2="154.6" stroke="#999" stroke-width="0.4"/>
<rect x="234" y="155.4" width="2" height="0.9" fill="#bbb"/>
<line x1="247.5" y1="153.4" x2="247.5" y2="154.6" stroke="#999" stroke-width="0.4"/>
<rect x="246.5" y="155.4" width="2" height="0.9" fill="#bbb"/>
<line x1="258" y1="153.4" x2="258" y2="154.6" stroke="#999" stroke-width="0.4"/>
<rect x="257" y="155.4" width="2" height="0.9" fill="#bbb"/>
<line x1="215.4" y1="141" x2="215.4" y2="113.4" stroke="#000" stroke-width="0.8"/>
<path d="M215.4,110.9 L213.8,114.10000000000001 L217.0,114.10000000000001 Z" fill="#000"/>
<text transform="translate(216.69,152.60) rotate(-90)" font-size="3.9" font-weight="bold" textLength="8.50" lengthAdjust="spacingAndGlyphs">CD15</text>
<text x="222.70" y="162.09" font-size="3.9" font-weight="bold" fill="#000" textLength="8.50" lengthAdjust="spacingAndGlyphs">CD14</text>
<line x1="234.8" y1="161" x2="263.5" y2="161" stroke="#000" stroke-width="0.8"/>
<path d="M266,161 L262.8,159.4 L262.8,162.6 Z" fill="#000"/>
<path d="M266.8,60.1 L283.6,60.1 L283.6,88.5" stroke="#9c72b8" stroke-width="1.6" fill="none"/>
<path d="M283.6,93.8 L280.8,88 L286.4,88 Z" fill="#9c72b8"/>
<path d="M266.5,141 L283.6,141 L283.6,113.5" stroke="#a7c3e8" stroke-width="1.6" fill="none"/>
<path d="M283.6,108.3 L280.8,114.1 L286.4,114.1 Z" fill="#a7c3e8"/>
<text x="274.60" y="103.04" font-size="4.8" font-weight="bold" fill="#000" textLength="17.90" lengthAdjust="spacingAndGlyphs">RNA-seq</text>
<g>
<path d="M370.2,146.3 L424.7,146.3 L424.5,150 L422.7,156.5 L420.5,160 L416.5,164.5 L411,167.8 L404,169.6 L397.5,170.4 L391,169.6 L384.5,167.8 L379.5,164.5 L375.5,160 L373.3,156.5 L370.5,150 Z" fill="#000"/>
<circle cx="370.7" cy="148.0" r="1.7" fill="#000"/>
<circle cx="424.8" cy="148.0" r="1.7" fill="#000"/>
<circle cx="371.4" cy="151.0" r="1.7" fill="#000"/>
<circle cx="423.9" cy="151.0" r="1.7" fill="#000"/>
<circle cx="372.4" cy="154.0" r="1.7" fill="#000"/>
<circle cx="423.6" cy="154.0" r="1.7" fill="#000"/>
<circle cx="373.6" cy="157.0" r="1.7" fill="#000"/>
<circle cx="422.1" cy="157.0" r="1.7" fill="#000"/>
<circle cx="375.0" cy="160.0" r="1.7" fill="#000"/>
<circle cx="420.0" cy="160.0" r="1.7" fill="#000"/>
<circle cx="377.8" cy="163.0" r="1.7" fill="#000"/>
<circle cx="417.5" cy="163.0" r="1.7" fill="#000"/>
<circle cx="381.9" cy="166.0" r="1.7" fill="#000"/>
<circle cx="413.9" cy="166.0" r="1.7" fill="#000"/>
<circle cx="365.8" cy="146.8" r="1.7" fill="#000"/>
<circle cx="374.3" cy="157.5" r="1.7" fill="#000"/>
<circle cx="423.7" cy="156" r="1.7" fill="#000"/>
<circle cx="379.3" cy="164.5" r="1.7" fill="#000"/>
<circle cx="369" cy="150" r="1.7" fill="#000"/>
</g>
<g fill="#3d3db4" stroke="#10102e" stroke-width="0.65">
<circle cx="361.8" cy="100.4" r="2.0"/>
<circle cx="379.3" cy="109.0" r="2.0"/>
<circle cx="388.2" cy="121.0" r="2.0"/>
<circle cx="374.6" cy="108.8" r="2.0"/>
<circle cx="386.3" cy="97.8" r="2.0"/>
<circle cx="358.4" cy="63.4" r="2.0"/>
<circle cx="361.5" cy="113.2" r="2.0"/>
<circle cx="372.9" cy="77.5" r="2.0"/>
<circle cx="387.0" cy="103.3" r="2.0"/>
<circle cx="360.1" cy="59.3" r="2.0"/>
<circle cx="391.4" cy="121.3" r="2.0"/>
<circle cx="352.7" cy="58.2" r="2.0"/>
<circle cx="388.1" cy="53.4" r="2.0"/>
<circle cx="373.2" cy="69.4" r="2.0"/>
<circle cx="352.7" cy="63.0" r="2.0"/>
<circle cx="374.4" cy="83.5" r="2.0"/>
<circle cx="367.4" cy="72.9" r="2.0"/>
<circle cx="377.5" cy="74.5" r="2.0"/>
<circle cx="361.8" cy="123.9" r="2.0"/>
<circle cx="374.9" cy="91.5" r="2.0"/>
<circle cx="365.7" cy="132.1" r="2.0"/>
<circle cx="370.3" cy="122.1" r="2.0"/>
<circle cx="385.1" cy="72.1" r="2.0"/>
<circle cx="383.0" cy="117.8" r="2.0"/>
<circle cx="378.5" cy="65.2" r="2.0"/>
<circle cx="363.0" cy="119.0" r="2.0"/>
<circle cx="379.5" cy="67.6" r="2.0"/>
<circle cx="385.1" cy="110.1" r="2.0"/>
<circle cx="358.6" cy="111.4" r="2.0"/>
<circle cx="374.3" cy="40.1" r="2.0"/>
<circle cx="365.2" cy="94.8" r="2.0"/>
<circle cx="372.1" cy="59.5" r="2.0"/>
<circle cx="366.4" cy="112.2" r="2.0"/>
<circle cx="359.4" cy="84.5" r="2.0"/>
<circle cx="357.4" cy="67.4" r="2.0"/>
<circle cx="365.2" cy="75.8" r="2.0"/>
<circle cx="376.8" cy="42.2" r="2.0"/>
<circle cx="377.6" cy="79.5" r="2.0"/>
<circle cx="353.9" cy="97.9" r="2.0"/>
<circle cx="358.0" cy="40.1" r="2.0"/>
<circle cx="378.4" cy="77.1" r="2.0"/>
<circle cx="352.2" cy="70.3" r="2.0"/>
<circle cx="384.4" cy="125.9" r="2.0"/>
<circle cx="376.9" cy="62.5" r="2.0"/>
<circle cx="359.9" cy="93.7" r="2.0"/>
<circle cx="351.3" cy="65.4" r="2.0"/>
<circle cx="379.8" cy="141.2" r="2.0"/>
<circle cx="387.1" cy="132.8" r="2.0"/>
<circle cx="369.7" cy="64.6" r="2.0"/>
<circle cx="354.8" cy="88.8" r="2.0"/>
<circle cx="368.3" cy="120.1" r="2.0"/>
<circle cx="358.3" cy="95.7" r="2.0"/>
<circle cx="360.6" cy="66.3" r="2.0"/>
<circle cx="361.2" cy="126.9" r="2.0"/>
<circle cx="365.5" cy="81.5" r="2.0"/>
<circle cx="362.5" cy="45.3" r="2.0"/>
<circle cx="362.8" cy="60.1" r="2.0"/>
<circle cx="382.9" cy="56.6" r="2.0"/>
<circle cx="367.3" cy="78.6" r="2.0"/>
<circle cx="384.8" cy="143.4" r="2.0"/>
<circle cx="387.3" cy="126.0" r="2.0"/>
<circle cx="389.2" cy="73.6" r="2.0"/>
<circle cx="391.4" cy="136.9" r="2.0"/>
<circle cx="377.9" cy="104.3" r="2.0"/>
<circle cx="382.2" cy="142.0" r="2.0"/>
<circle cx="375.7" cy="50.1" r="2.0"/>
<circle cx="366.3" cy="115.3" r="2.0"/>
<circle cx="390.4" cy="91.3" r="2.0"/>
<circle cx="391.5" cy="109.0" r="2.0"/>
<circle cx="355.9" cy="73.8" r="2.0"/>
<circle cx="364.4" cy="65.7" r="2.0"/>
<circle cx="369.4" cy="77.0" r="2.0"/>
<circle cx="357.1" cy="59.9" r="2.0"/>
<circle cx="377.5" cy="89.9" r="2.0"/>
<circle cx="387.3" cy="118.6" r="2.0"/>
<circle cx="367.9" cy="124.1" r="2.0"/>
<circle cx="359.7" cy="117.5" r="2.0"/>
<circle cx="370.7" cy="142.2" r="2.0"/>
<circle cx="359.9" cy="69.2" r="2.0"/>
<circle cx="386.8" cy="60.7" r="2.0"/>
<circle cx="388.0" cy="135.8" r="2.0"/>
<circle cx="380.5" cy="135.3" r="2.0"/>
<circle cx="362.3" cy="92.7" r="2.0"/>
<circle cx="379.1" cy="131.7" r="2.0"/>
<circle cx="390.6" cy="131.2" r="2.0"/>
<circle cx="365.2" cy="106.2" r="2.0"/>
<circle cx="367.6" cy="62.2" r="2.0"/>
<circle cx="368.5" cy="95.6" r="2.0"/>
<circle cx="380.4" cy="56.5" r="2.0"/>
<circle cx="389.0" cy="104.8" r="2.0"/>
<circle cx="363.1" cy="116.2" r="2.0"/>
<circle cx="378.5" cy="98.1" r="2.0"/>
<circle cx="378.2" cy="101.5" r="2.0"/>
<circle cx="364.2" cy="129.5" r="2.0"/>
<circle cx="389.6" cy="101.8" r="2.0"/>
<circle cx="374.8" cy="46.2" r="2.0"/>
<circle cx="359.6" cy="89.4" r="2.0"/>
<circle cx="384.6" cy="131.8" r="2.0"/>
<circle cx="388.3" cy="128.3" r="2.0"/>
<circle cx="392.4" cy="128.6" r="2.0"/>
<circle cx="358.4" cy="51.7" r="2.0"/>
<circle cx="387.8" cy="41.1" r="2.0"/>
<circle cx="384.8" cy="86.5" r="2.0"/>
<circle cx="384.2" cy="128.6" r="2.0"/>
<circle cx="370.3" cy="112.5" r="2.0"/>
<circle cx="351.3" cy="60.4" r="2.0"/>
<circle cx="366.9" cy="129.8" r="2.0"/>
<circle cx="368.0" cy="52.4" r="2.0"/>
<circle cx="380.5" cy="63.3" r="2.0"/>
<circle cx="355.6" cy="100.4" r="2.0"/>
<circle cx="382.9" cy="53.3" r="2.0"/>
<circle cx="350.9" cy="75.4" r="2.0"/>
<circle cx="369.4" cy="109.5" r="2.0"/>
<circle cx="385.3" cy="47.8" r="2.0"/>
<circle cx="364.2" cy="110.8" r="2.0"/>
<circle cx="364.9" cy="58.2" r="2.0"/>
<circle cx="357.6" cy="101.2" r="2.0"/>
<circle cx="381.1" cy="122.7" r="2.0"/>
<circle cx="383.4" cy="62.0" r="2.0"/>
<circle cx="368.5" cy="49.9" r="2.0"/>
<circle cx="354.7" cy="62.3" r="2.0"/>
<circle cx="374.2" cy="142.7" r="2.0"/>
<circle cx="364.3" cy="47.3" r="2.0"/>
<circle cx="385.6" cy="138.4" r="2.0"/>
<circle cx="370.4" cy="74.5" r="2.0"/>
<circle cx="371.8" cy="124.7" r="2.0"/>
<circle cx="384.6" cy="113.3" r="2.0"/>
<circle cx="371.2" cy="105.9" r="2.0"/>
<circle cx="358.3" cy="79.6" r="2.0"/>
<circle cx="364.3" cy="40.1" r="2.0"/>
<circle cx="370.8" cy="96.8" r="2.0"/>
<circle cx="386.2" cy="123.0" r="2.0"/>
<circle cx="381.4" cy="125.4" r="2.0"/>
<circle cx="363.0" cy="80.6" r="2.0"/>
<circle cx="386.5" cy="116.2" r="2.0"/>
<circle cx="365.0" cy="62.2" r="2.0"/>
<circle cx="360.2" cy="107.7" r="2.0"/>
<circle cx="376.9" cy="47.7" r="2.0"/>
<circle cx="362.1" cy="131.8" r="2.0"/>
<circle cx="364.4" cy="71.3" r="2.0"/>
<circle cx="360.8" cy="121.0" r="2.0"/>
<circle cx="388.2" cy="109.0" r="2.0"/>
<circle cx="384.6" cy="64.7" r="2.0"/>
<circle cx="355.0" cy="87.6" r="2.0"/>
<circle cx="379.0" cy="92.7" r="2.0"/>
<circle cx="361.9" cy="87.6" r="2.0"/>
<circle cx="389.2" cy="112.0" r="2.0"/>
<circle cx="383.9" cy="99.8" r="2.0"/>
<circle cx="358.1" cy="110.2" r="2.0"/>
<circle cx="359.4" cy="99.4" r="2.0"/>
<circle cx="383.5" cy="103.0" r="2.0"/>
<circle cx="376.4" cy="69.2" r="2.0"/>
<circle cx="385.2" cy="58.8" r="2.0"/>
<circle cx="374.9" cy="103.3" r="2.0"/>
<circle cx="386.7" cy="74.7" r="2.0"/>
<circle cx="375.4" cy="53.1" r="2.0"/>
<circle cx="389.2" cy="88.7" r="2.0"/>
<circle cx="388.0" cy="70.8" r="2.0"/>
<circle cx="366.7" cy="55.4" r="2.0"/>
<circle cx="376.5" cy="110.5" r="2.0"/>
<circle cx="380.9" cy="47.7" r="2.0"/>
<circle cx="371.8" cy="82.5" r="2.0"/>
<circle cx="359.0" cy="103.9" r="2.0"/>
<circle cx="386.1" cy="81.1" r="2.0"/>
<circle cx="380.4" cy="106.5" r="2.0"/>
<circle cx="381.9" cy="59.5" r="2.0"/>
<circle cx="357.3" cy="108.3" r="2.0"/>
<circle cx="381.7" cy="133.1" r="2.0"/>
<circle cx="375.6" cy="60.2" r="2.0"/>
<circle cx="386.9" cy="44.1" r="2.0"/>
<circle cx="369.6" cy="144.8" r="2.0"/>
<circle cx="357.0" cy="107.8" r="2.0"/>
<circle cx="366.3" cy="91.8" r="2.0"/>
<circle cx="387.0" cy="100.6" r="2.0"/>
<circle cx="368.7" cy="81.7" r="2.0"/>
<circle cx="375.2" cy="87.7" r="2.0"/>
<circle cx="368.6" cy="99.9" r="2.0"/>
<circle cx="379.2" cy="117.5" r="2.0"/>
<circle cx="358.1" cy="87.0" r="2.0"/>
<circle cx="355.3" cy="79.9" r="2.0"/>
<circle cx="370.9" cy="119.3" r="2.0"/>
<circle cx="364.5" cy="102.6" r="2.0"/>
<circle cx="381.0" cy="104.0" r="2.0"/>
<circle cx="368.5" cy="89.5" r="2.0"/>
<circle cx="367.4" cy="58.6" r="2.0"/>
<circle cx="382.5" cy="107.7" r="2.0"/>
<circle cx="381.8" cy="75.3" r="2.0"/>
<circle cx="369.3" cy="133.0" r="2.0"/>
<circle cx="371.1" cy="56.9" r="2.0"/>
<circle cx="358.8" cy="47.9" r="2.0"/>
<circle cx="370.4" cy="61.4" r="2.0"/>
<circle cx="390.1" cy="134.0" r="2.0"/>
<circle cx="360.3" cy="117.9" r="2.0"/>
<circle cx="382.8" cy="49.6" r="2.0"/>
<circle cx="368.4" cy="41.1" r="2.0"/>
<circle cx="374.5" cy="43.5" r="2.0"/>
<circle cx="378.8" cy="86.7" r="2.0"/>
<circle cx="365.1" cy="51.9" r="2.0"/>
<circle cx="366.1" cy="117.9" r="2.0"/>
<circle cx="384.7" cy="120.0" r="2.0"/>
<circle cx="385.3" cy="41.9" r="2.0"/>
<circle cx="376.6" cy="85.3" r="2.0"/>
<circle cx="392.7" cy="132.8" r="2.0"/>
<circle cx="362.0" cy="83.7" r="2.0"/>
<circle cx="370.5" cy="79.2" r="2.0"/>
<circle cx="362.5" cy="64.1" r="2.0"/>
<circle cx="386.0" cy="140.9" r="2.0"/>
<circle cx="371.7" cy="48.7" r="2.0"/>
<circle cx="364.7" cy="84.8" r="2.0"/>
<circle cx="382.6" cy="40.1" r="2.0"/>
<circle cx="380.8" cy="77.9" r="2.0"/>
<circle cx="352.2" cy="66.7" r="2.0"/>
<circle cx="354.4" cy="45.2" r="2.0"/>
<circle cx="371.4" cy="43.2" r="2.0"/>
<circle cx="384.2" cy="90.2" r="2.0"/>
<circle cx="392.1" cy="116.2" r="2.0"/>
<circle cx="361.9" cy="103.7" r="2.0"/>
<circle cx="389.9" cy="123.7" r="2.0"/>
<circle cx="366.0" cy="49.5" r="2.0"/>
<circle cx="388.8" cy="95.2" r="2.0"/>
<circle cx="372.2" cy="88.0" r="2.0"/>
<circle cx="364.8" cy="135.4" r="2.0"/>
<circle cx="376.5" cy="96.2" r="2.0"/>
<circle cx="357.1" cy="98.2" r="2.0"/>
<circle cx="382.7" cy="139.3" r="2.0"/>
<circle cx="366.1" cy="99.1" r="2.0"/>
<circle cx="357.0" cy="91.4" r="2.0"/>
<circle cx="361.4" cy="77.7" r="2.0"/>
<circle cx="372.0" cy="45.8" r="2.0"/>
<circle cx="383.6" cy="135.6" r="2.0"/>
<circle cx="355.9" cy="98.0" r="2.0"/>
<circle cx="353.3" cy="45.6" r="2.0"/>
<circle cx="371.3" cy="136.8" r="2.0"/>
<circle cx="361.7" cy="130.9" r="2.0"/>
<circle cx="384.9" cy="106.5" r="2.0"/>
<circle cx="358.2" cy="72.8" r="2.0"/>
<circle cx="380.0" cy="129.0" r="2.0"/>
<circle cx="383.9" cy="96.6" r="2.0"/>
<circle cx="372.8" cy="52.3" r="2.0"/>
<circle cx="354.1" cy="42.7" r="2.0"/>
<circle cx="370.8" cy="130.4" r="2.0"/>
<circle cx="354.4" cy="67.0" r="2.0"/>
<circle cx="382.5" cy="81.5" r="2.0"/>
<circle cx="372.2" cy="144.8" r="2.0"/>
<circle cx="372.4" cy="103.0" r="2.0"/>
<circle cx="389.5" cy="82.0" r="2.0"/>
<circle cx="378.2" cy="122.1" r="2.0"/>
<circle cx="362.9" cy="122.2" r="2.0"/>
<circle cx="356.8" cy="49.1" r="2.0"/>
<circle cx="367.8" cy="135.6" r="2.0"/>
<circle cx="381.2" cy="115.8" r="2.0"/>
<circle cx="387.8" cy="47.6" r="2.0"/>
<circle cx="376.5" cy="119.1" r="2.0"/>
<circle cx="376.5" cy="93.6" r="2.0"/>
<circle cx="373.1" cy="116.8" r="2.0"/>
<circle cx="377.9" cy="127.2" r="2.0"/>
<circle cx="362.6" cy="106.4" r="2.0"/>
<circle cx="373.5" cy="112.5" r="2.0"/>
<circle cx="364.8" cy="125.4" r="2.0"/>
<circle cx="364.6" cy="78.6" r="2.0"/>
<circle cx="368.5" cy="70.6" r="2.0"/>
<circle cx="386.2" cy="84.4" r="2.0"/>
<circle cx="372.4" cy="99.0" r="2.0"/>
<circle cx="374.0" cy="135.2" r="2.0"/>
<circle cx="372.2" cy="90.7" r="2.0"/>
<circle cx="369.5" cy="46.5" r="2.0"/>
<circle cx="367.8" cy="102.9" r="2.0"/>
<circle cx="392.4" cy="143.6" r="2.0"/>
<circle cx="377.4" cy="107.1" r="2.0"/>
<circle cx="387.2" cy="55.8" r="2.0"/>
<circle cx="375.0" cy="106.0" r="2.0"/>
<circle cx="388.1" cy="92.5" r="2.0"/>
<circle cx="377.8" cy="71.8" r="2.0"/>
<circle cx="372.3" cy="85.3" r="2.0"/>
<circle cx="377.4" cy="57.6" r="2.0"/>
<circle cx="367.4" cy="138.1" r="2.0"/>
<circle cx="388.6" cy="63.0" r="2.0"/>
<circle cx="375.0" cy="71.9" r="2.0"/>
<circle cx="361.5" cy="42.0" r="2.0"/>
<circle cx="375.0" cy="125.9" r="2.0"/>
<circle cx="388.8" cy="85.4" r="2.0"/>
<circle cx="390.9" cy="114.0" r="2.0"/>
<circle cx="364.0" cy="90.7" r="2.0"/>
<circle cx="392.3" cy="125.7" r="2.0"/>
<circle cx="385.5" cy="52.0" r="2.0"/>
<circle cx="373.3" cy="74.3" r="2.0"/>
<circle cx="380.4" cy="145.1" r="2.0"/>
<circle cx="365.5" cy="88.2" r="2.0"/>
<circle cx="361.8" cy="110.3" r="2.0"/>
<circle cx="389.2" cy="141.1" r="2.0"/>
<circle cx="388.8" cy="77.3" r="2.0"/>
<circle cx="385.6" cy="78.2" r="2.0"/>
<circle cx="362.3" cy="50.7" r="2.0"/>
<circle cx="355.1" cy="90.4" r="2.0"/>
<circle cx="374.1" cy="120.8" r="2.0"/>
<circle cx="381.5" cy="120.0" r="2.0"/>
<circle cx="375.8" cy="100.0" r="2.0"/>
<circle cx="375.5" cy="132.9" r="2.0"/>
<circle cx="358.4" cy="117.6" r="2.0"/>
<circle cx="369.4" cy="55.1" r="2.0"/>
<circle cx="382.7" cy="67.1" r="2.0"/>
<circle cx="372.3" cy="93.2" r="2.0"/>
<circle cx="382.1" cy="130.3" r="2.0"/>
<circle cx="360.7" cy="62.1" r="2.0"/>
<circle cx="381.3" cy="90.9" r="2.0"/>
<circle cx="379.4" cy="60.1" r="2.0"/>
<circle cx="382.9" cy="45.2" r="2.0"/>
<circle cx="376.1" cy="113.7" r="2.0"/>
<circle cx="390.4" cy="118.0" r="2.0"/>
<circle cx="374.9" cy="123.3" r="2.0"/>
<circle cx="378.0" cy="53.8" r="2.0"/>
<circle cx="352.5" cy="67.6" r="2.0"/>
<circle cx="367.9" cy="106.4" r="2.0"/>
<circle cx="379.9" cy="41.3" r="2.0"/>
<circle cx="371.6" cy="139.8" r="2.0"/>
<circle cx="354.2" cy="80.9" r="2.0"/>
<circle cx="378.4" cy="45.5" r="2.0"/>
<circle cx="377.1" cy="124.5" r="2.0"/>
<circle cx="370.3" cy="127.5" r="2.0"/>
<circle cx="388.5" cy="143.7" r="2.0"/>
<circle cx="371.8" cy="71.8" r="2.0"/>
<circle cx="368.6" cy="85.1" r="2.0"/>
<circle cx="353.9" cy="56.9" r="2.0"/>
<circle cx="368.9" cy="140.1" r="2.0"/>
<circle cx="393.1" cy="139.0" r="2.0"/>
<circle cx="356.3" cy="56.6" r="2.0"/>
<circle cx="369.8" cy="93.0" r="2.0"/>
<circle cx="381.4" cy="97.9" r="2.0"/>
<circle cx="358.4" cy="109.1" r="2.0"/>
<circle cx="371.8" cy="66.2" r="2.0"/>
<circle cx="368.7" cy="114.5" r="2.0"/>
<circle cx="360.1" cy="123.5" r="2.0"/>
<circle cx="378.8" cy="112.9" r="2.0"/>
<circle cx="351.6" cy="75.9" r="2.0"/>
<circle cx="365.8" cy="121.6" r="2.0"/>
<circle cx="373.0" cy="127.7" r="2.0"/>
<circle cx="371.3" cy="40.0" r="2.0"/>
<circle cx="375.6" cy="145.2" r="2.0"/>
<circle cx="378.5" cy="137.5" r="2.0"/>
<circle cx="382.8" cy="84.0" r="2.0"/>
<circle cx="381.2" cy="100.8" r="2.0"/>
<circle cx="375.9" cy="138.8" r="2.0"/>
<circle cx="366.1" cy="68.7" r="2.0"/>
<circle cx="356.4" cy="64.9" r="2.0"/>
<circle cx="382.1" cy="69.9" r="2.0"/>
<circle cx="381.6" cy="88.0" r="2.0"/>
<circle cx="373.9" cy="96.5" r="2.0"/>
<circle cx="361.5" cy="127.1" r="2.0"/>
<circle cx="388.1" cy="66.3" r="2.0"/>
<circle cx="363.1" cy="139.0" r="2.0"/>
<circle cx="356.1" cy="76.7" r="2.0"/>
<circle cx="372.7" cy="132.9" r="2.0"/>
<circle cx="367.1" cy="64.7" r="2.0"/>
<circle cx="362.5" cy="57.5" r="2.0"/>
<circle cx="385.4" cy="93.3" r="2.0"/>
<circle cx="380.2" cy="50.8" r="2.0"/>
<circle cx="377.9" cy="134.7" r="2.0"/>
<circle cx="374.9" cy="55.9" r="2.0"/>
<circle cx="365.9" cy="108.7" r="2.0"/>
<circle cx="356.8" cy="113.0" r="2.0"/>
<circle cx="379.0" cy="82.5" r="2.0"/>
<circle cx="368.0" cy="67.1" r="2.0"/>
<circle cx="388.0" cy="50.6" r="2.0"/>
<circle cx="362.1" cy="73.3" r="2.0"/>
<circle cx="388.5" cy="138.4" r="2.0"/>
<circle cx="385.8" cy="67.2" r="2.0"/>
<circle cx="381.3" cy="94.5" r="2.0"/>
<circle cx="382.0" cy="42.7" r="2.0"/>
<circle cx="367.6" cy="127.2" r="2.0"/>
<circle cx="370.5" cy="68.4" r="2.0"/>
<circle cx="389.8" cy="97.7" r="2.0"/>
<circle cx="351.6" cy="61.4" r="2.0"/>
<circle cx="374.6" cy="79.8" r="2.0"/>
<circle cx="371.8" cy="108.7" r="2.0"/>
<circle cx="355.0" cy="82.7" r="2.0"/>
<circle cx="356.2" cy="83.5" r="2.0"/>
<circle cx="374.9" cy="65.6" r="2.0"/>
<circle cx="375.0" cy="129.3" r="2.0"/>
<circle cx="382.6" cy="111.5" r="2.0"/>
<circle cx="361.5" cy="47.8" r="2.0"/>
<circle cx="378.4" cy="143.4" r="2.0"/>
<circle cx="388.2" cy="114.3" r="2.0"/>
<circle cx="355.8" cy="46.7" r="2.0"/>
<circle cx="362.8" cy="68.4" r="2.0"/>
<circle cx="381.8" cy="72.6" r="2.0"/>
<circle cx="359.4" cy="75.1" r="2.0"/>
<circle cx="358.5" cy="44.2" r="2.0"/>
<circle cx="330.3" cy="37.2" r="2.0"/>
<circle cx="335.5" cy="37.2" r="2.0"/>
<circle cx="337.4" cy="37.2" r="2.0"/>
<circle cx="339.3" cy="37.2" r="2.0"/>
<circle cx="341.5" cy="37.2" r="2.0"/>
<circle cx="343.2" cy="37.2" r="2.0"/>
<circle cx="345.0" cy="37.2" r="2.0"/>
<circle cx="346.8" cy="37.2" r="2.0"/>
<circle cx="348.5" cy="37.2" r="2.0"/>
<circle cx="350.2" cy="37.2" r="2.0"/>
<circle cx="352.0" cy="37.2" r="2.0"/>
<circle cx="353.8" cy="37.2" r="2.0"/>
<circle cx="355.5" cy="37.2" r="2.0"/>
<circle cx="357.2" cy="37.2" r="2.0"/>
<circle cx="359.0" cy="37.2" r="2.0"/>
<circle cx="360.8" cy="37.2" r="2.0"/>
<circle cx="362.5" cy="37.2" r="2.0"/>
<circle cx="364.2" cy="37.2" r="2.0"/>
<circle cx="366.0" cy="37.2" r="2.0"/>
<circle cx="367.8" cy="37.2" r="2.0"/>
<circle cx="369.5" cy="37.2" r="2.0"/>
<circle cx="371.2" cy="37.2" r="2.0"/>
<circle cx="373.0" cy="37.2" r="2.0"/>
<circle cx="374.8" cy="37.2" r="2.0"/>
<circle cx="376.5" cy="37.2" r="2.0"/>
<circle cx="378.2" cy="37.2" r="2.0"/>
<circle cx="380.0" cy="37.2" r="2.0"/>
<circle cx="381.8" cy="37.2" r="2.0"/>
<circle cx="383.5" cy="37.2" r="2.0"/>
<circle cx="385.2" cy="37.2" r="2.0"/>
<circle cx="387.0" cy="37.2" r="2.0"/>
<circle cx="388.8" cy="37.2" r="2.0"/>
<circle cx="359.4" cy="140.6" r="2.0"/>
<circle cx="351.0" cy="59.0" r="2.0"/>
<circle cx="352.5" cy="80.0" r="2.0"/>
<circle cx="389.0" cy="52.5" r="2.0"/>
<circle cx="392.5" cy="60.0" r="2.0"/>
</g>
<g fill="#de4628" stroke="#1e0503" stroke-width="0.65">
<circle cx="406.3" cy="75.6" r="2.0"/>
<circle cx="410.8" cy="60.0" r="2.0"/>
<circle cx="411.7" cy="40.4" r="2.0"/>
<circle cx="406.4" cy="96.0" r="2.0"/>
<circle cx="405.4" cy="108.8" r="2.0"/>
<circle cx="419.9" cy="57.9" r="2.0"/>
<circle cx="424.7" cy="130.5" r="2.0"/>
<circle cx="413.7" cy="100.9" r="2.0"/>
<circle cx="415.9" cy="121.2" r="2.0"/>
<circle cx="415.7" cy="123.8" r="2.0"/>
<circle cx="409.2" cy="69.9" r="2.0"/>
<circle cx="427.6" cy="119.7" r="2.0"/>
<circle cx="404.4" cy="129.2" r="2.0"/>
<circle cx="416.1" cy="87.5" r="2.0"/>
<circle cx="426.6" cy="100.5" r="2.0"/>
<circle cx="419.2" cy="113.3" r="2.0"/>
<circle cx="425.1" cy="94.0" r="2.0"/>
<circle cx="424.8" cy="129.7" r="2.0"/>
<circle cx="409.3" cy="105.7" r="2.0"/>
<circle cx="418.6" cy="78.7" r="2.0"/>
<circle cx="403.7" cy="106.8" r="2.0"/>
<circle cx="426.7" cy="66.6" r="2.0"/>
<circle cx="433.1" cy="73.4" r="2.0"/>
<circle cx="429.3" cy="66.7" r="2.0"/>
<circle cx="431.4" cy="131.1" r="2.0"/>
<circle cx="422.9" cy="54.6" r="2.0"/>
<circle cx="417.5" cy="69.7" r="2.0"/>
<circle cx="425.9" cy="68.5" r="2.0"/>
<circle cx="417.4" cy="107.9" r="2.0"/>
<circle cx="416.8" cy="76.9" r="2.0"/>
<circle cx="427.6" cy="61.5" r="2.0"/>
<circle cx="418.5" cy="123.2" r="2.0"/>
<circle cx="423.2" cy="80.3" r="2.0"/>
<circle cx="425.7" cy="81.1" r="2.0"/>
<circle cx="423.0" cy="116.8" r="2.0"/>
<circle cx="415.0" cy="64.1" r="2.0"/>
<circle cx="426.2" cy="109.1" r="2.0"/>
<circle cx="423.2" cy="119.4" r="2.0"/>
<circle cx="418.0" cy="96.6" r="2.0"/>
<circle cx="425.8" cy="89.0" r="2.0"/>
<circle cx="419.8" cy="68.2" r="2.0"/>
<circle cx="431.5" cy="64.6" r="2.0"/>
<circle cx="429.8" cy="98.1" r="2.0"/>
<circle cx="420.5" cy="109.9" r="2.0"/>
<circle cx="421.4" cy="70.3" r="2.0"/>
<circle cx="417.4" cy="102.3" r="2.0"/>
<circle cx="424.0" cy="87.9" r="2.0"/>
<circle cx="415.9" cy="142.4" r="2.0"/>
<circle cx="408.8" cy="114.0" r="2.0"/>
<circle cx="408.4" cy="51.9" r="2.0"/>
<circle cx="422.7" cy="93.2" r="2.0"/>
<circle cx="426.0" cy="59.9" r="2.0"/>
<circle cx="419.8" cy="60.6" r="2.0"/>
<circle cx="420.3" cy="81.2" r="2.0"/>
<circle cx="411.3" cy="110.8" r="2.0"/>
<circle cx="419.8" cy="43.6" r="2.0"/>
<circle cx="422.8" cy="57.5" r="2.0"/>
<circle cx="403.8" cy="136.5" r="2.0"/>
<circle cx="408.6" cy="48.7" r="2.0"/>
<circle cx="424.7" cy="82.3" r="2.0"/>
<circle cx="408.8" cy="91.1" r="2.0"/>
<circle cx="422.0" cy="137.9" r="2.0"/>
<circle cx="414.1" cy="129.0" r="2.0"/>
<circle cx="412.3" cy="108.3" r="2.0"/>
<circle cx="426.5" cy="86.3" r="2.0"/>
<circle cx="424.0" cy="103.9" r="2.0"/>
<circle cx="422.1" cy="50.1" r="2.0"/>
<circle cx="427.7" cy="91.9" r="2.0"/>
<circle cx="418.3" cy="63.0" r="2.0"/>
<circle cx="410.9" cy="75.8" r="2.0"/>
<circle cx="413.6" cy="66.3" r="2.0"/>
<circle cx="418.1" cy="73.3" r="2.0"/>
<circle cx="422.0" cy="137.4" r="2.0"/>
<circle cx="412.2" cy="70.7" r="2.0"/>
<circle cx="431.0" cy="115.3" r="2.0"/>
<circle cx="416.4" cy="118.1" r="2.0"/>
<circle cx="405.5" cy="90.9" r="2.0"/>
<circle cx="413.2" cy="80.2" r="2.0"/>
<circle cx="429.0" cy="119.7" r="2.0"/>
<circle cx="413.7" cy="119.5" r="2.0"/>
<circle cx="410.1" cy="145.5" r="2.0"/>
<circle cx="417.4" cy="81.7" r="2.0"/>
<circle cx="408.7" cy="109.4" r="2.0"/>
<circle cx="404.9" cy="114.3" r="2.0"/>
<circle cx="425.3" cy="78.1" r="2.0"/>
<circle cx="428.9" cy="123.2" r="2.0"/>
<circle cx="409.0" cy="73.0" r="2.0"/>
<circle cx="423.1" cy="63.4" r="2.0"/>
<circle cx="430.6" cy="81.7" r="2.0"/>
<circle cx="416.5" cy="56.2" r="2.0"/>
<circle cx="426.7" cy="76.6" r="2.0"/>
<circle cx="413.2" cy="77.0" r="2.0"/>
<circle cx="413.5" cy="42.3" r="2.0"/>
<circle cx="420.7" cy="115.7" r="2.0"/>
<circle cx="413.2" cy="139.6" r="2.0"/>
<circle cx="430.8" cy="110.4" r="2.0"/>
<circle cx="425.3" cy="115.2" r="2.0"/>
<circle cx="409.0" cy="42.2" r="2.0"/>
<circle cx="419.9" cy="87.6" r="2.0"/>
<circle cx="421.2" cy="127.6" r="2.0"/>
<circle cx="429.2" cy="125.2" r="2.0"/>
<circle cx="427.2" cy="65.2" r="2.0"/>
<circle cx="408.2" cy="133.6" r="2.0"/>
<circle cx="425.9" cy="63.8" r="2.0"/>
<circle cx="410.4" cy="139.7" r="2.0"/>
<circle cx="430.8" cy="70.1" r="2.0"/>
<circle cx="425.8" cy="112.3" r="2.0"/>
<circle cx="432.4" cy="92.9" r="2.0"/>
<circle cx="426.0" cy="102.8" r="2.0"/>
<circle cx="408.7" cy="85.3" r="2.0"/>
<circle cx="411.9" cy="132.0" r="2.0"/>
<circle cx="417.6" cy="137.3" r="2.0"/>
<circle cx="411.0" cy="67.8" r="2.0"/>
<circle cx="413.1" cy="122.3" r="2.0"/>
<circle cx="411.7" cy="126.5" r="2.0"/>
<circle cx="417.0" cy="145.0" r="2.0"/>
<circle cx="413.8" cy="144.8" r="2.0"/>
<circle cx="426.9" cy="111.7" r="2.0"/>
<circle cx="428.2" cy="93.8" r="2.0"/>
<circle cx="422.1" cy="106.5" r="2.0"/>
<circle cx="416.6" cy="134.4" r="2.0"/>
<circle cx="427.7" cy="83.2" r="2.0"/>
<circle cx="411.3" cy="137.3" r="2.0"/>
<circle cx="402.9" cy="127.2" r="2.0"/>
<circle cx="403.1" cy="124.3" r="2.0"/>
<circle cx="429.2" cy="66.9" r="2.0"/>
<circle cx="411.5" cy="48.3" r="2.0"/>
<circle cx="422.0" cy="72.9" r="2.0"/>
<circle cx="404.4" cy="133.7" r="2.0"/>
<circle cx="423.8" cy="138.5" r="2.0"/>
<circle cx="424.3" cy="108.0" r="2.0"/>
<circle cx="434.4" cy="70.5" r="2.0"/>
<circle cx="431.9" cy="62.4" r="2.0"/>
<circle cx="428.8" cy="80.8" r="2.0"/>
<circle cx="403.5" cy="112.1" r="2.0"/>
<circle cx="418.4" cy="53.2" r="2.0"/>
<circle cx="417.7" cy="85.5" r="2.0"/>
<circle cx="412.4" cy="54.4" r="2.0"/>
<circle cx="428.6" cy="72.7" r="2.0"/>
<circle cx="420.5" cy="47.2" r="2.0"/>
<circle cx="404.7" cy="94.1" r="2.0"/>
<circle cx="427.7" cy="94.2" r="2.0"/>
<circle cx="407.6" cy="67.5" r="2.0"/>
<circle cx="415.6" cy="53.5" r="2.0"/>
<circle cx="411.4" cy="134.8" r="2.0"/>
<circle cx="406.2" cy="85.2" r="2.0"/>
<circle cx="403.1" cy="120.7" r="2.0"/>
<circle cx="421.7" cy="50.4" r="2.0"/>
<circle cx="416.5" cy="59.0" r="2.0"/>
<circle cx="406.3" cy="112.2" r="2.0"/>
<circle cx="428.5" cy="68.5" r="2.0"/>
<circle cx="416.2" cy="43.5" r="2.0"/>
<circle cx="416.0" cy="40.2" r="2.0"/>
<circle cx="406.5" cy="120.8" r="2.0"/>
<circle cx="408.7" cy="76.9" r="2.0"/>
<circle cx="423.7" cy="101.2" r="2.0"/>
<circle cx="428.6" cy="78.1" r="2.0"/>
<circle cx="414.6" cy="69.3" r="2.0"/>
<circle cx="428.8" cy="134.4" r="2.0"/>
<circle cx="414.2" cy="126.1" r="2.0"/>
<circle cx="429.4" cy="112.1" r="2.0"/>
<circle cx="414.0" cy="111.7" r="2.0"/>
<circle cx="430.2" cy="72.4" r="2.0"/>
<circle cx="417.2" cy="66.3" r="2.0"/>
<circle cx="423.2" cy="110.4" r="2.0"/>
<circle cx="418.4" cy="46.4" r="2.0"/>
<circle cx="420.2" cy="93.8" r="2.0"/>
<circle cx="421.2" cy="65.2" r="2.0"/>
<circle cx="416.9" cy="99.7" r="2.0"/>
<circle cx="426.9" cy="119.7" r="2.0"/>
<circle cx="415.4" cy="74.7" r="2.0"/>
<circle cx="420.3" cy="134.7" r="2.0"/>
<circle cx="430.3" cy="94.4" r="2.0"/>
<circle cx="426.7" cy="92.3" r="2.0"/>
<circle cx="413.4" cy="57.5" r="2.0"/>
<circle cx="419.3" cy="105.3" r="2.0"/>
<circle cx="426.1" cy="98.1" r="2.0"/>
<circle cx="425.0" cy="144.5" r="2.0"/>
<circle cx="423.2" cy="136.9" r="2.0"/>
<circle cx="430.9" cy="111.1" r="2.0"/>
<circle cx="410.5" cy="79.0" r="2.0"/>
<circle cx="426.0" cy="107.7" r="2.0"/>
<circle cx="425.5" cy="71.8" r="2.0"/>
<circle cx="434.3" cy="74.8" r="2.0"/>
<circle cx="434.1" cy="91.2" r="2.0"/>
<circle cx="411.7" cy="91.6" r="2.0"/>
<circle cx="423.5" cy="128.9" r="2.0"/>
<circle cx="415.9" cy="46.0" r="2.0"/>
<circle cx="413.5" cy="88.0" r="2.0"/>
<circle cx="417.0" cy="90.3" r="2.0"/>
<circle cx="412.8" cy="103.2" r="2.0"/>
<circle cx="422.4" cy="124.6" r="2.0"/>
<circle cx="425.7" cy="119.4" r="2.0"/>
<circle cx="417.0" cy="110.6" r="2.0"/>
<circle cx="404.1" cy="103.1" r="2.0"/>
<circle cx="433.9" cy="82.9" r="2.0"/>
<circle cx="412.7" cy="94.3" r="2.0"/>
<circle cx="406.6" cy="131.3" r="2.0"/>
<circle cx="429.4" cy="76.4" r="2.0"/>
<circle cx="418.0" cy="127.2" r="2.0"/>
<circle cx="424.7" cy="98.7" r="2.0"/>
<circle cx="423.4" cy="53.5" r="2.0"/>
<circle cx="414.7" cy="131.9" r="2.0"/>
<circle cx="428.1" cy="71.3" r="2.0"/>
<circle cx="406.7" cy="81.9" r="2.0"/>
<circle cx="405.4" cy="145.2" r="2.0"/>
<circle cx="416.5" cy="105.4" r="2.0"/>
<circle cx="406.1" cy="72.3" r="2.0"/>
<circle cx="420.7" cy="141.8" r="2.0"/>
<circle cx="414.9" cy="137.1" r="2.0"/>
<circle cx="422.3" cy="121.7" r="2.0"/>
<circle cx="409.9" cy="57.6" r="2.0"/>
<circle cx="420.2" cy="90.1" r="2.0"/>
<circle cx="414.3" cy="92.2" r="2.0"/>
<circle cx="421.7" cy="98.0" r="2.0"/>
<circle cx="430.7" cy="115.5" r="2.0"/>
<circle cx="412.6" cy="44.9" r="2.0"/>
<circle cx="409.0" cy="95.3" r="2.0"/>
<circle cx="420.4" cy="138.3" r="2.0"/>
<circle cx="428.2" cy="94.7" r="2.0"/>
<circle cx="425.5" cy="132.5" r="2.0"/>
<circle cx="421.5" cy="102.6" r="2.0"/>
<circle cx="414.5" cy="85.5" r="2.0"/>
<circle cx="423.3" cy="52.6" r="2.0"/>
<circle cx="419.0" cy="49.2" r="2.0"/>
<circle cx="424.3" cy="75.4" r="2.0"/>
<circle cx="408.3" cy="98.6" r="2.0"/>
<circle cx="415.4" cy="71.9" r="2.0"/>
<circle cx="406.2" cy="100.3" r="2.0"/>
<circle cx="425.2" cy="125.2" r="2.0"/>
<circle cx="430.8" cy="56.1" r="2.0"/>
<circle cx="413.1" cy="114.0" r="2.0"/>
<circle cx="406.6" cy="142.7" r="2.0"/>
<circle cx="424.0" cy="131.2" r="2.0"/>
<circle cx="431.5" cy="133.0" r="2.0"/>
<circle cx="409.6" cy="142.6" r="2.0"/>
<circle cx="403.2" cy="116.8" r="2.0"/>
<circle cx="431.1" cy="56.7" r="2.0"/>
<circle cx="431.4" cy="69.9" r="2.0"/>
<circle cx="411.9" cy="85.7" r="2.0"/>
<circle cx="434.3" cy="79.8" r="2.0"/>
<circle cx="406.1" cy="126.3" r="2.0"/>
<circle cx="410.0" cy="102.2" r="2.0"/>
<circle cx="409.1" cy="54.8" r="2.0"/>
<circle cx="432.5" cy="86.1" r="2.0"/>
<circle cx="429.5" cy="101.9" r="2.0"/>
<circle cx="406.7" cy="135.8" r="2.0"/>
<circle cx="427.3" cy="132.7" r="2.0"/>
<circle cx="412.9" cy="116.9" r="2.0"/>
<circle cx="430.8" cy="79.9" r="2.0"/>
<circle cx="405.6" cy="79.6" r="2.0"/>
<circle cx="417.0" cy="129.6" r="2.0"/>
<circle cx="414.0" cy="48.4" r="2.0"/>
<circle cx="433.3" cy="113.3" r="2.0"/>
<circle cx="406.9" cy="58.5" r="2.0"/>
<circle cx="411.2" cy="64.0" r="2.0"/>
<circle cx="426.7" cy="120.8" r="2.0"/>
<circle cx="405.7" cy="118.1" r="2.0"/>
<circle cx="419.7" cy="130.4" r="2.0"/>
<circle cx="422.1" cy="131.5" r="2.0"/>
<circle cx="406.7" cy="123.5" r="2.0"/>
<circle cx="416.5" cy="50.8" r="2.0"/>
<circle cx="410.3" cy="88.1" r="2.0"/>
<circle cx="406.8" cy="139.1" r="2.0"/>
<circle cx="425.9" cy="103.8" r="2.0"/>
<circle cx="402.7" cy="140.7" r="2.0"/>
<circle cx="419.8" cy="118.5" r="2.0"/>
<circle cx="416.1" cy="94.3" r="2.0"/>
<circle cx="407.4" cy="102.7" r="2.0"/>
<circle cx="406.3" cy="105.7" r="2.0"/>
<circle cx="422.5" cy="113.0" r="2.0"/>
<circle cx="415.0" cy="108.6" r="2.0"/>
<circle cx="406.6" cy="64.5" r="2.0"/>
<circle cx="410.8" cy="119.1" r="2.0"/>
<circle cx="410.4" cy="82.3" r="2.0"/>
<circle cx="414.5" cy="82.8" r="2.0"/>
<circle cx="427.6" cy="66.7" r="2.0"/>
<circle cx="417.4" cy="115.6" r="2.0"/>
<circle cx="408.7" cy="46.2" r="2.0"/>
<circle cx="409.7" cy="123.6" r="2.0"/>
<circle cx="420.3" cy="84.7" r="2.0"/>
<circle cx="425.4" cy="127.0" r="2.0"/>
<circle cx="428.0" cy="114.0" r="2.0"/>
<circle cx="417.7" cy="132.0" r="2.0"/>
<circle cx="419.8" cy="100.4" r="2.0"/>
<circle cx="407.7" cy="61.1" r="2.0"/>
<circle cx="424.8" cy="91.0" r="2.0"/>
<circle cx="424.7" cy="122.5" r="2.0"/>
<circle cx="419.5" cy="144.5" r="2.0"/>
<circle cx="426.7" cy="86.5" r="2.0"/>
<circle cx="415.6" cy="79.3" r="2.0"/>
<circle cx="424.3" cy="48.1" r="2.0"/>
<circle cx="424.5" cy="126.5" r="2.0"/>
<circle cx="402.9" cy="143.4" r="2.0"/>
<circle cx="418.4" cy="141.8" r="2.0"/>
<circle cx="412.6" cy="142.3" r="2.0"/>
<circle cx="415.6" cy="113.6" r="2.0"/>
<circle cx="417.7" cy="43.1" r="2.0"/>
<circle cx="409.6" cy="130.5" r="2.0"/>
<circle cx="425.2" cy="84.8" r="2.0"/>
<circle cx="430.1" cy="87.3" r="2.0"/>
<circle cx="407.5" cy="88.6" r="2.0"/>
<circle cx="423.7" cy="137.2" r="2.0"/>
<circle cx="413.6" cy="60.0" r="2.0"/>
<circle cx="429.5" cy="111.6" r="2.0"/>
<circle cx="411.8" cy="73.3" r="2.0"/>
<circle cx="429.0" cy="63.5" r="2.0"/>
<circle cx="416.6" cy="140.0" r="2.0"/>
<circle cx="404.6" cy="98.1" r="2.0"/>
<circle cx="408.9" cy="117.2" r="2.0"/>
<circle cx="426.9" cy="66.1" r="2.0"/>
<circle cx="416.0" cy="61.5" r="2.0"/>
<circle cx="408.7" cy="127.0" r="2.0"/>
<circle cx="424.0" cy="54.3" r="2.0"/>
<circle cx="421.0" cy="47.2" r="2.0"/>
<circle cx="423.1" cy="67.8" r="2.0"/>
<circle cx="421.2" cy="51.7" r="2.0"/>
<circle cx="413.5" cy="105.7" r="2.0"/>
<circle cx="408.5" cy="37.2" r="2.0"/>
<circle cx="410.3" cy="37.2" r="2.0"/>
<circle cx="412.1" cy="37.2" r="2.0"/>
<circle cx="413.9" cy="37.2" r="2.0"/>
<circle cx="415.7" cy="37.2" r="2.0"/>
<circle cx="417.5" cy="37.2" r="2.0"/>
<circle cx="419.3" cy="37.2" r="2.0"/>
<circle cx="421.1" cy="37.2" r="2.0"/>
<circle cx="422.9" cy="37.2" r="2.0"/>
<circle cx="424.7" cy="37.2" r="2.0"/>
<circle cx="426.5" cy="37.2" r="2.0"/>
<circle cx="428.3" cy="37.2" r="2.0"/>
<circle cx="430.1" cy="37.2" r="2.0"/>
<circle cx="431.9" cy="37.2" r="2.0"/>
<circle cx="433.7" cy="37.2" r="2.0"/>
<circle cx="435.5" cy="37.2" r="2.0"/>
<circle cx="437.3" cy="37.2" r="2.0"/>
<circle cx="439.1" cy="37.2" r="2.0"/>
<circle cx="440.9" cy="37.2" r="2.0"/>
<circle cx="442.7" cy="37.2" r="2.0"/>
<circle cx="444.5" cy="37.2" r="2.0"/>
<circle cx="446.3" cy="37.2" r="2.0"/>
<circle cx="450.6" cy="37.2" r="2.0"/>
<circle cx="452.5" cy="37.2" r="2.0"/>
<circle cx="456.3" cy="37.2" r="2.0"/>
<circle cx="459.5" cy="37.2" r="2.0"/>
<circle cx="464.7" cy="37.2" r="2.0"/>
<circle cx="425.6" cy="40.8" r="2.0"/>
<circle cx="432.9" cy="41.5" r="2.0"/>
<circle cx="437.7" cy="40.3" r="2.0"/>
<circle cx="435.3" cy="81.9" r="2.0"/>
<circle cx="441.8" cy="81.9" r="2.0"/>
<circle cx="441.8" cy="96.9" r="2.0"/>
<circle cx="439.8" cy="142.1" r="2.0"/>
<circle cx="436.0" cy="118.0" r="2.0"/>
<circle cx="433.0" cy="104.0" r="2.0"/>
</g>
<path d="M395.6,100 L399.4,100 L398.6,146 L397.7,160 L397.3,160 L396.4,146 Z" fill="#fff"/>
<g stroke="#e86a64" stroke-width="0.9" stroke-dasharray="1.1,1.5" fill="none">
<line x1="330" y1="146.6" x2="465" y2="146.6"/>
<line x1="395.3" y1="37" x2="395.3" y2="168.5"/>
<line x1="399.7" y1="37" x2="399.7" y2="168.5"/>
</g>
<g stroke="#8a8a8a" stroke-width="1" fill="none">
<line x1="330" y1="37.2" x2="330" y2="170.5"/>
<line x1="328" y1="168.5" x2="465" y2="168.5"/>
<line x1="397.5" y1="168.5" x2="397.5" y2="170.5"/>
<line x1="465" y1="165.8" x2="465" y2="170.5"/>
<line x1="328" y1="168.50" x2="330" y2="168.50"/>
<line x1="328" y1="124.66" x2="330" y2="124.66"/>
<line x1="328" y1="80.82" x2="330" y2="80.82"/>
<line x1="328" y1="36.98" x2="330" y2="36.98"/>
</g>
<text x="325.30" y="171.20" font-size="7.6" font-weight="normal" text-anchor="end" fill="#222"  style="stroke-width:0px">0</text>
<text x="325.30" y="127.36" font-size="7.6" font-weight="normal" text-anchor="end" fill="#222"  style="stroke-width:0px">2</text>
<text x="325.30" y="83.52" font-size="7.6" font-weight="normal" text-anchor="end" fill="#222"  style="stroke-width:0px">4</text>
<text x="325.30" y="39.68" font-size="7.6" font-weight="normal" text-anchor="end" fill="#222"  style="stroke-width:0px">6</text>
<text x="330.00" y="179.80" font-size="7.6" font-weight="normal" text-anchor="middle" fill="#222"  style="stroke-width:0px">−10</text>
<text x="397.50" y="179.80" font-size="7.6" font-weight="normal" text-anchor="middle" fill="#222"  style="stroke-width:0px">0</text>
<text x="465.00" y="179.80" font-size="7.6" font-weight="normal" text-anchor="middle" fill="#222"  style="stroke-width:0px">10</text>
<text x="399.80" y="189.30" font-size="7.9" font-weight="bold" text-anchor="middle" fill="#000" >log<tspan font-size="5.4" dy="1.8">2</tspan><tspan dy="-1.8">FC</tspan></text>
<text x="316" y="104.8" font-size="7.3" font-weight="bold" text-anchor="middle" transform="rotate(-90 316 104.8)">-log<tspan font-size="4.8" dy="1.4">10</tspan><tspan dy="-1.4">(adjusted p value)</tspan></text>
<text x="398.00" y="31.00" font-size="6.63" font-weight="bold" text-anchor="middle" fill="#000" >Neutrophils vs. Monocytes/Macrophages</text>
<text x="345.60" y="132.40" font-size="7.6" font-weight="bold" text-anchor="middle" fill="#000" >2,248</text>
<text x="449.80" y="134.00" font-size="7.6" font-weight="bold" text-anchor="middle" fill="#000" >1,678</text>
<g fill="none" stroke="#cacaca" stroke-width="0.55">
<path d="M130.3,300.3 C122.2,302.3 122.2,302.3 114.1,304.3"/>
<path d="M130.3,300.3 C134.6,300.1 134.6,300.1 138.8,299.8"/>
<path d="M114.1,304.3 C110.2,305.3 110.4,294.5 106.6,293.4"/>
<path d="M114.1,304.3 C102.2,307.3 109.5,320.4 100.6,329.0"/>
<path d="M106.6,293.4 C102.5,292.2 109.1,280.6 106.0,277.7"/>
<path d="M106.6,293.4 C94.5,289.9 93.5,306.7 81.1,308.8"/>
<path d="M106.0,277.7 C103.1,275.0 115.2,266.3 113.6,262.7"/>
<path d="M106.0,277.7 C102.9,274.8 95.1,287.5 91.1,286.1"/>
<path d="M113.6,262.7 C111.9,258.8 103.5,263.7 101.0,260.3"/>
<path d="M113.6,262.7 C112.0,259.0 120.9,256.1 120.1,252.1"/>
<path d="M91.1,286.1 C87.4,284.7 90.6,277.7 87.2,275.7"/>
<path d="M100.6,329.0 C97.5,332.0 92.3,325.4 88.7,327.8"/>
<path d="M138.8,299.8 C147.1,299.3 139.1,286.0 143.4,278.9"/>
<path d="M138.8,299.8 C143.0,299.6 139.0,309.5 141.9,312.5"/>
<path d="M143.4,278.9 C149.8,268.4 138.2,263.8 140.8,251.8"/>
<path d="M143.4,278.9 C145.5,275.5 153.1,282.2 156.3,279.7"/>
<path d="M156.3,279.7 C162.8,274.5 154.9,266.8 159.8,260.1"/>
<path d="M156.3,279.7 C159.6,277.1 164.6,285.3 168.5,283.6"/>
<path d="M168.5,283.6 C172.4,281.9 174.9,289.2 179.0,288.2"/>
<path d="M141.9,312.5 C153.4,324.6 163.3,306.0 179.8,308.8"/>
<path d="M141.9,312.5 C144.6,315.4 132.4,321.0 132.8,324.9"/>
<path d="M132.8,324.9 C134.0,337.1 120.1,335.8 116.7,347.6"/>
<path d="M132.8,324.9 C133.2,329.1 143.0,326.3 144.9,330.1"/>
<path d="M144.9,330.1 C148.5,337.4 135.9,341.2 137.0,349.2"/>
<path d="M144.9,330.1 C146.8,333.9 156.4,327.1 159.4,330.1"/>
<path d="M159.4,330.1 C162.1,332.9 154.9,338.6 157.0,341.8"/>
<path d="M159.4,330.1 C162.3,333.1 168.5,325.7 172.0,328.0"/>
<path d="M81.1,308.8 L72.4,306.0"/>
<path d="M91.1,286.1 L73.0,290.0"/>
<path d="M87.2,275.7 L78.0,275.1"/>
<path d="M87.2,275.7 L82.1,268.1"/>
<path d="M101.0,260.3 L93.1,256.3"/>
<path d="M101.0,260.3 L99.5,251.3"/>
<path d="M120.1,252.1 L114.5,244.6"/>
<path d="M120.1,252.1 L122.5,243.1"/>
<path d="M140.8,251.8 L138.4,243.1"/>
<path d="M140.8,251.8 L146.3,244.6"/>
<path d="M159.8,260.1 L161.4,251.4"/>
<path d="M159.8,260.1 L167.8,255.8"/>
<path d="M168.5,283.6 L179.0,268.2"/>
<path d="M179.0,288.2 L186.0,282.4"/>
<path d="M179.0,288.2 L188.2,290.0"/>
<path d="M179.8,308.8 L188.7,306.2"/>
<path d="M179.8,308.8 L187.2,313.8"/>
<path d="M172.0,328.0 L180.8,329.0"/>
<path d="M172.0,328.0 L176.6,335.9"/>
<path d="M157.0,341.8 L164.2,346.4"/>
<path d="M157.0,341.8 L157.8,350.9"/>
<path d="M137.0,349.2 L142.5,356.4"/>
<path d="M137.0,349.2 L134.6,357.6"/>
<path d="M116.7,347.6 L118.3,356.4"/>
<path d="M116.7,347.6 L110.4,354.3"/>
<path d="M100.6,329.0 L96.1,346.6"/>
<path d="M88.7,327.8 L84.6,335.7"/>
<path d="M88.7,327.8 L79.6,328.3"/>
<path d="M81.1,308.8 L74.0,313.8"/>
</g>
<circle cx="72.4" cy="306" r="3.3" fill="#66b4d2"/>
<circle cx="73" cy="290" r="3.3" fill="#55abe0"/>
<circle cx="78" cy="275.1" r="3.3" fill="#66b4d2"/>
<circle cx="82.1" cy="268.1" r="3.3" fill="#66b4d2"/>
<circle cx="93.1" cy="256.3" r="3.3" fill="#55abe0"/>
<circle cx="99.5" cy="251.3" r="3.3" fill="#55abe0"/>
<circle cx="114.5" cy="244.6" r="3.3" fill="#66b4d2"/>
<circle cx="122.5" cy="243.1" r="3.3" fill="#a567b2"/>
<circle cx="138.4" cy="243.1" r="3.3" fill="#6a8dd4"/>
<circle cx="146.3" cy="244.6" r="3.3" fill="#55abe0"/>
<circle cx="161.4" cy="251.4" r="3.3" fill="#55abe0"/>
<circle cx="167.8" cy="255.8" r="3.3" fill="#66b4d2"/>
<circle cx="179" cy="268.2" r="3.3" fill="#55abe0"/>
<circle cx="186" cy="282.4" r="3.3" fill="#66b4d2"/>
<circle cx="188.2" cy="290" r="3.3" fill="#66b4d2"/>
<circle cx="188.7" cy="306.2" r="3.3" fill="#6a8dd4"/>
<circle cx="187.2" cy="313.8" r="3.3" fill="#55abe0"/>
<circle cx="180.8" cy="329" r="3.3" fill="#55abe0"/>
<circle cx="176.6" cy="335.9" r="3.3" fill="#55abe0"/>
<circle cx="164.2" cy="346.4" r="3.3" fill="#55abe0"/>
<circle cx="157.8" cy="350.9" r="3.3" fill="#66b4d2"/>
<circle cx="142.5" cy="356.4" r="3.3" fill="#55abe0"/>
<circle cx="134.6" cy="357.6" r="3.3" fill="#55abe0"/>
<circle cx="118.3" cy="356.4" r="3.3" fill="#55abe0"/>
<circle cx="110.4" cy="354.3" r="3.3" fill="#6a8dd4"/>
<circle cx="96.1" cy="346.6" r="3.3" fill="#66b4d2"/>
<circle cx="84.6" cy="335.7" r="3.3" fill="#66b4d2"/>
<circle cx="79.6" cy="328.3" r="3.3" fill="#55abe0"/>
<circle cx="74" cy="313.8" r="3.3" fill="#66b4d2"/>
<g fill="#fff" stroke="#505050" stroke-width="0.55">
<circle cx="114.1" cy="304.3" r="1.35"/>
<circle cx="106.6" cy="293.4" r="1.35"/>
<circle cx="106" cy="277.7" r="1.35"/>
<circle cx="113.6" cy="262.7" r="1.35"/>
<circle cx="101" cy="260.3" r="1.35"/>
<circle cx="120.1" cy="252.1" r="1.35"/>
<circle cx="91.1" cy="286.1" r="1.35"/>
<circle cx="87.2" cy="275.7" r="1.35"/>
<circle cx="81.1" cy="308.8" r="1.35"/>
<circle cx="100.6" cy="329" r="1.35"/>
<circle cx="88.7" cy="327.8" r="1.35"/>
<circle cx="138.8" cy="299.8" r="1.35"/>
<circle cx="143.4" cy="278.9" r="1.35"/>
<circle cx="140.8" cy="251.8" r="1.35"/>
<circle cx="156.3" cy="279.7" r="1.35"/>
<circle cx="159.8" cy="260.1" r="1.35"/>
<circle cx="168.5" cy="283.6" r="1.35"/>
<circle cx="179" cy="288.2" r="1.35"/>
<circle cx="141.9" cy="312.5" r="1.35"/>
<circle cx="179.8" cy="308.8" r="1.35"/>
<circle cx="132.8" cy="324.9" r="1.35"/>
<circle cx="116.7" cy="347.6" r="1.35"/>
<circle cx="144.9" cy="330.1" r="1.35"/>
<circle cx="137" cy="349.2" r="1.35"/>
<circle cx="159.4" cy="330.1" r="1.35"/>
<circle cx="157" cy="341.8" r="1.35"/>
<circle cx="172" cy="328" r="1.35"/>
</g>
<circle cx="130.3" cy="300.3" r="1.6" fill="#000"/>
<text transform="translate(66.60,306.22) rotate(357.8)" font-size="4.25" font-weight="bold" text-anchor="end"><tspan x="0" y="1.49">Parkinson disease</tspan></text>
<text transform="translate(67.32,288.84) rotate(11.5)" font-size="4.25" font-weight="bold" text-anchor="end"><tspan x="0" y="-0.96">Cytokine-cytokine</tspan><tspan x="0" y="3.93">receptor interaction</tspan></text>
<text transform="translate(73.19,271.86) rotate(34.0)" font-size="4.25" font-weight="bold" text-anchor="end"><tspan x="0" y="-0.96">NOD-like receptor</tspan><tspan x="0" y="3.93">signaling pathway</tspan></text>
<text transform="translate(77.53,264.53) rotate(38.0)" font-size="4.25" font-weight="bold" text-anchor="end"><tspan x="0" y="1.49">Pertussis</tspan></text>
<text transform="translate(89.29,251.92) rotate(49.0)" font-size="4.25" font-weight="bold" text-anchor="end"><tspan x="0" y="1.49">Metabolic pathways</tspan></text>
<text transform="translate(96.42,246.39) rotate(57.9)" font-size="4.25" font-weight="bold" text-anchor="end"><tspan x="0" y="1.49">Steroid biosynthesis</tspan></text>
<text transform="translate(112.75,239.07) rotate(72.4)" font-size="4.25" font-weight="bold" text-anchor="end"><tspan x="0" y="1.49">Proteasome</tspan></text>
<text transform="translate(121.66,237.36) rotate(81.7)" font-size="4.25" font-weight="bold" text-anchor="end"><tspan x="0" y="1.49">Ribosome</tspan></text>
<text transform="translate(139.64,237.43) rotate(-77.7)" font-size="4.25" font-weight="bold" text-anchor="start"><tspan x="0" y="1.49">Phagosome</tspan></text>
<text transform="translate(148.16,239.11) rotate(-71.3)" font-size="4.25" font-weight="bold" text-anchor="start"><tspan x="0" y="1.49">Rheumatoid arthritis</tspan></text>
<text transform="translate(164.64,246.59) rotate(-56.0)" font-size="4.25" font-weight="bold" text-anchor="start"><tspan x="0" y="1.49">Toxoplasmosis</tspan></text>
<text transform="translate(171.76,251.56) rotate(-47.0)" font-size="4.25" font-weight="bold" text-anchor="start"><tspan x="0" y="1.49">Tuberculosis</tspan></text>
<text transform="translate(183.66,264.75) rotate(-36.5)" font-size="4.25" font-weight="bold" text-anchor="start"><tspan x="0" y="-0.96">Hematopoietic</tspan><tspan x="0" y="3.93">cell lineage</tspan></text>
<text transform="translate(191.36,280.18) rotate(-22.5)" font-size="4.25" font-weight="bold" text-anchor="start"><tspan x="0" y="-0.96">Th17 cell</tspan><tspan x="0" y="3.93">differentiation</tspan></text>
<text transform="translate(193.94,289.17) rotate(-8.2)" font-size="4.25" font-weight="bold" text-anchor="start"><tspan x="0" y="-0.96">Inflammatory bowel</tspan><tspan x="0" y="3.93">disease (IBD)</tspan></text>
<text transform="translate(194.50,306.20) rotate(0.0)" font-size="4.25" font-weight="bold" text-anchor="start"><tspan x="0" y="-0.96">Staphylococcus</tspan><tspan x="0" y="3.93">aureus infection</tspan></text>
<text transform="translate(192.48,316.20) rotate(24.4)" font-size="4.25" font-weight="bold" text-anchor="start"><tspan x="0" y="-0.96">Systemic lupus</tspan><tspan x="0" y="3.93">erythematosus</tspan></text>
<text transform="translate(185.80,331.94) rotate(30.5)" font-size="4.25" font-weight="bold" text-anchor="start"><tspan x="0" y="1.49">Allograft rejection</tspan></text>
<text transform="translate(181.19,339.45) rotate(37.7)" font-size="4.25" font-weight="bold" text-anchor="start"><tspan x="0" y="-0.96">Autoimmune thyroid</tspan><tspan x="0" y="3.93">disease</tspan></text>
<text transform="translate(168.18,350.62) rotate(46.7)" font-size="4.25" font-weight="bold" text-anchor="start"><tspan x="0" y="-0.96">Graft-versus-host</tspan><tspan x="0" y="3.93">disease</tspan></text>
<text transform="translate(160.13,356.21) rotate(66.3)" font-size="4.25" font-weight="bold" text-anchor="start"><tspan x="0" y="-0.96">Type I diabetes</tspan><tspan x="0" y="3.93">mellitus</tspan></text>
<text transform="translate(144.24,361.93) rotate(72.5)" font-size="4.25" font-weight="bold" text-anchor="start"><tspan x="0" y="-0.96">Intestinal immune network</tspan><tspan x="0" y="3.93">for IgA production</tspan></text>
<text transform="translate(135.11,363.38) rotate(85.0)" font-size="4.25" font-weight="bold" text-anchor="start"><tspan x="0" y="1.49">Asthma</tspan></text>
<text transform="translate(117.43,362.13) rotate(278.6)" font-size="4.25" font-weight="bold" text-anchor="end"><tspan x="0" y="-0.96">Cell adhesion</tspan><tspan x="0" y="3.93">molecules (CAMs)</tspan></text>
<text transform="translate(107.77,359.47) rotate(297.0)" font-size="4.25" font-weight="bold" text-anchor="end"><tspan x="0" y="-0.96">Antigen processing</tspan><tspan x="0" y="3.93">and presentation</tspan></text>
<text transform="translate(92.61,351.23) rotate(307.0)" font-size="4.25" font-weight="bold" text-anchor="end"><tspan x="0" y="-0.96">2-Oxocarboxylic acid</tspan><tspan x="0" y="3.93">metabolism</tspan></text>
<text transform="translate(79.93,339.14) rotate(323.6)" font-size="4.25" font-weight="bold" text-anchor="end"><tspan x="0" y="1.49">Carbon metabolism</tspan></text>
<text transform="translate(74.71,331.42) rotate(327.5)" font-size="4.25" font-weight="bold" text-anchor="end"><tspan x="0" y="-0.96">Citrate cycle</tspan><tspan x="0" y="3.93">(TCA cycle)</tspan></text>
<text transform="translate(68.47,315.56) rotate(342.3)" font-size="4.25" font-weight="bold" text-anchor="end"><tspan x="0" y="-0.96">Oxidative</tspan><tspan x="0" y="3.93">phosphorylation</tspan></text>
<text x="360.20" y="207.20" font-size="6.65" font-weight="bold" text-anchor="middle" fill="#000" >Upstream regulators predicted as activated</text>
<text x="360.30" y="215.00" font-size="6.65" font-weight="bold" text-anchor="middle" fill="#000" >in neutrophils compared to monocytes/macrophages</text>
<rect x="269.40" y="218.00" width="107.08" height="4.00" fill="#d04f2c" stroke="#111" stroke-width="1"/>
<line x1="265.80" y1="220.00" x2="269.40" y2="220.00" stroke="#000" stroke-width="0.8"/>
<text x="264.70" y="221.73" font-size="4.8" font-weight="bold" text-anchor="end" fill="#000" >CSF3</text>
<rect x="269.40" y="225.72" width="77.74" height="4.00" fill="#d04f2c" stroke="#111" stroke-width="1"/>
<line x1="265.80" y1="227.72" x2="269.40" y2="227.72" stroke="#000" stroke-width="0.8"/>
<text x="264.70" y="229.45" font-size="4.8" font-weight="bold" text-anchor="end" fill="#000" >PTPRJ</text>
<rect x="269.40" y="233.44" width="87.52" height="4.00" fill="#d04f2c" stroke="#111" stroke-width="1"/>
<line x1="265.80" y1="235.44" x2="269.40" y2="235.44" stroke="#000" stroke-width="0.8"/>
<text x="264.70" y="237.17" font-size="4.8" font-weight="bold" text-anchor="end" fill="#000" >PTPRC</text>
<rect x="269.40" y="241.16" width="185.32" height="4.00" fill="#d04f2c" stroke="#111" stroke-width="1"/>
<line x1="265.80" y1="243.16" x2="269.40" y2="243.16" stroke="#000" stroke-width="0.8"/>
<text x="264.70" y="244.89" font-size="4.8" font-weight="bold" text-anchor="end" fill="#000" >SRSF10</text>
<rect x="269.40" y="248.88" width="38.62" height="4.00" fill="#d04f2c" stroke="#111" stroke-width="1"/>
<line x1="265.80" y1="250.88" x2="269.40" y2="250.88" stroke="#000" stroke-width="0.8"/>
<text x="264.70" y="252.61" font-size="4.8" font-weight="bold" text-anchor="end" fill="#000" >UVRAG</text>
<rect x="269.40" y="256.60" width="38.62" height="4.00" fill="#d04f2c" stroke="#111" stroke-width="1"/>
<line x1="265.80" y1="258.60" x2="269.40" y2="258.60" stroke="#000" stroke-width="0.8"/>
<text x="264.70" y="260.33" font-size="4.8" font-weight="bold" text-anchor="end" fill="#000" >CHMP2B</text>
<rect x="269.40" y="264.32" width="38.62" height="4.00" fill="#d04f2c" stroke="#111" stroke-width="1"/>
<line x1="265.80" y1="266.32" x2="269.40" y2="266.32" stroke="#000" stroke-width="0.8"/>
<text x="264.70" y="268.05" font-size="4.8" font-weight="bold" text-anchor="end" fill="#000" >CHMP4A</text>
<rect x="269.40" y="272.04" width="38.62" height="4.00" fill="#d04f2c" stroke="#111" stroke-width="1"/>
<line x1="265.80" y1="274.04" x2="269.40" y2="274.04" stroke="#000" stroke-width="0.8"/>
<text x="264.70" y="275.77" font-size="4.8" font-weight="bold" text-anchor="end" fill="#000" >PIK3R4</text>
<rect x="269.40" y="279.76" width="38.62" height="4.00" fill="#d04f2c" stroke="#111" stroke-width="1"/>
<line x1="265.80" y1="281.76" x2="269.40" y2="281.76" stroke="#000" stroke-width="0.8"/>
<text x="264.70" y="283.49" font-size="4.8" font-weight="bold" text-anchor="end" fill="#000" >CHMP6</text>
<rect x="269.40" y="287.48" width="38.62" height="4.00" fill="#d04f2c" stroke="#111" stroke-width="1"/>
<line x1="265.80" y1="289.48" x2="269.40" y2="289.48" stroke="#000" stroke-width="0.8"/>
<text x="264.70" y="291.21" font-size="4.8" font-weight="bold" text-anchor="end" fill="#000" >CHMP7</text>
<line x1="269.40" y1="214.50" x2="269.40" y2="295.30" stroke="#000" stroke-width="1"/>
<line x1="268.90" y1="294.80" x2="465.00" y2="294.80" stroke="#000" stroke-width="1"/>
<line x1="269.40" y1="294.80" x2="269.40" y2="297.40" stroke="#000" stroke-width="0.9"/>
<text x="269.40" y="304.80" font-size="5.0" font-weight="bold" text-anchor="middle" fill="#000" >0</text>
<line x1="288.96" y1="294.80" x2="288.96" y2="297.40" stroke="#000" stroke-width="0.9"/>
<text x="288.96" y="304.80" font-size="5.0" font-weight="bold" text-anchor="middle" fill="#000" >2</text>
<line x1="308.52" y1="294.80" x2="308.52" y2="297.40" stroke="#000" stroke-width="0.9"/>
<text x="308.52" y="304.80" font-size="5.0" font-weight="bold" text-anchor="middle" fill="#000" >4</text>
<line x1="328.08" y1="294.80" x2="328.08" y2="297.40" stroke="#000" stroke-width="0.9"/>
<text x="328.08" y="304.80" font-size="5.0" font-weight="bold" text-anchor="middle" fill="#000" >6</text>
<line x1="347.64" y1="294.80" x2="347.64" y2="297.40" stroke="#000" stroke-width="0.9"/>
<text x="347.64" y="304.80" font-size="5.0" font-weight="bold" text-anchor="middle" fill="#000" >8</text>
<line x1="367.20" y1="294.80" x2="367.20" y2="297.40" stroke="#000" stroke-width="0.9"/>
<text x="367.20" y="304.80" font-size="5.0" font-weight="bold" text-anchor="middle" fill="#000" >10</text>
<line x1="386.76" y1="294.80" x2="386.76" y2="297.40" stroke="#000" stroke-width="0.9"/>
<text x="386.76" y="304.80" font-size="5.0" font-weight="bold" text-anchor="middle" fill="#000" >12</text>
<line x1="406.32" y1="294.80" x2="406.32" y2="297.40" stroke="#000" stroke-width="0.9"/>
<text x="406.32" y="304.80" font-size="5.0" font-weight="bold" text-anchor="middle" fill="#000" >14</text>
<line x1="425.88" y1="294.80" x2="425.88" y2="297.40" stroke="#000" stroke-width="0.9"/>
<text x="425.88" y="304.80" font-size="5.0" font-weight="bold" text-anchor="middle" fill="#000" >16</text>
<line x1="445.44" y1="294.80" x2="445.44" y2="297.40" stroke="#000" stroke-width="0.9"/>
<text x="445.44" y="304.80" font-size="5.0" font-weight="bold" text-anchor="middle" fill="#000" >18</text>
<line x1="465.00" y1="294.80" x2="465.00" y2="297.40" stroke="#000" stroke-width="0.9"/>
<text x="465.00" y="304.80" font-size="5.0" font-weight="bold" text-anchor="middle" fill="#000" >20</text>
<text x="369.20" y="311.80" font-size="5.6" font-weight="bold" text-anchor="middle" fill="#000" >Number of consistent DEGs</text>
<text x="363.30" y="329.00" font-size="6.65" font-weight="bold" text-anchor="middle" fill="#000" >Upstream regulators predicted as inhibited</text>
<text x="361.00" y="336.90" font-size="6.65" font-weight="bold" text-anchor="middle" fill="#000" >in neutrophils compared to monocytes/macrophages</text>
<rect x="268.40" y="341.30" width="186.70" height="4.00" fill="#3c3f96" stroke="#111" stroke-width="1"/>
<line x1="264.80" y1="343.30" x2="268.40" y2="343.30" stroke="#000" stroke-width="0.8"/>
<text x="264.40" y="345.03" font-size="4.8" font-weight="bold" text-anchor="end" fill="#000" >EXOSC10</text>
<rect x="268.40" y="349.17" width="186.70" height="4.00" fill="#3c3f96" stroke="#111" stroke-width="1"/>
<line x1="264.80" y1="351.17" x2="268.40" y2="351.17" stroke="#000" stroke-width="0.8"/>
<text x="264.40" y="352.90" font-size="4.8" font-weight="bold" text-anchor="end" fill="#000" >MTREX</text>
<rect x="268.40" y="357.04" width="121.90" height="4.00" fill="#3c3f96" stroke="#111" stroke-width="1"/>
<line x1="264.80" y1="359.04" x2="268.40" y2="359.04" stroke="#000" stroke-width="0.8"/>
<text x="264.40" y="360.77" font-size="4.8" font-weight="bold" text-anchor="end" fill="#000" >DIS3</text>
<rect x="268.40" y="364.91" width="118.30" height="4.00" fill="#3c3f96" stroke="#111" stroke-width="1"/>
<line x1="264.80" y1="366.91" x2="268.40" y2="366.91" stroke="#000" stroke-width="0.8"/>
<text x="264.40" y="368.64" font-size="4.8" font-weight="bold" text-anchor="end" fill="#000" >MPHOSPH6</text>
<rect x="268.40" y="372.78" width="118.30" height="4.00" fill="#3c3f96" stroke="#111" stroke-width="1"/>
<line x1="264.80" y1="374.78" x2="268.40" y2="374.78" stroke="#000" stroke-width="0.8"/>
<text x="264.40" y="376.51" font-size="4.8" font-weight="bold" text-anchor="end" fill="#000" >C1D</text>
<rect x="268.40" y="380.65" width="121.90" height="4.00" fill="#3c3f96" stroke="#111" stroke-width="1"/>
<line x1="264.80" y1="382.65" x2="268.40" y2="382.65" stroke="#000" stroke-width="0.8"/>
<text x="264.40" y="384.38" font-size="4.8" font-weight="bold" text-anchor="end" fill="#000" >EIF5</text>
<rect x="268.40" y="388.52" width="96.70" height="4.00" fill="#3c3f96" stroke="#111" stroke-width="1"/>
<line x1="264.80" y1="390.52" x2="268.40" y2="390.52" stroke="#000" stroke-width="0.8"/>
<text x="264.40" y="392.25" font-size="4.8" font-weight="bold" text-anchor="end" fill="#000" >CSNK1D</text>
<rect x="268.40" y="396.39" width="93.10" height="4.00" fill="#3c3f96" stroke="#111" stroke-width="1"/>
<line x1="264.80" y1="398.39" x2="268.40" y2="398.39" stroke="#000" stroke-width="0.8"/>
<text x="264.40" y="400.12" font-size="4.8" font-weight="bold" text-anchor="end" fill="#000" >CSNK1E</text>
<rect x="268.40" y="404.26" width="93.10" height="4.00" fill="#3c3f96" stroke="#111" stroke-width="1"/>
<line x1="264.80" y1="406.26" x2="268.40" y2="406.26" stroke="#000" stroke-width="0.8"/>
<text x="264.40" y="407.99" font-size="4.8" font-weight="bold" text-anchor="end" fill="#000" >BUD23</text>
<rect x="268.40" y="412.13" width="143.50" height="4.00" fill="#3c3f96" stroke="#111" stroke-width="1"/>
<line x1="264.80" y1="414.13" x2="268.40" y2="414.13" stroke="#000" stroke-width="0.8"/>
<text x="264.40" y="415.86" font-size="4.8" font-weight="bold" text-anchor="end" fill="#000" >RPS27</text>
<line x1="268.40" y1="337.50" x2="268.40" y2="420.00" stroke="#000" stroke-width="1"/>
<line x1="267.90" y1="419.50" x2="466.40" y2="419.50" stroke="#000" stroke-width="1"/>
<line x1="268.40" y1="419.50" x2="268.40" y2="421.20" stroke="#000" stroke-width="0.6"/>
<line x1="272.00" y1="419.50" x2="272.00" y2="421.20" stroke="#000" stroke-width="0.6"/>
<line x1="275.60" y1="419.50" x2="275.60" y2="421.20" stroke="#000" stroke-width="0.6"/>
<line x1="279.20" y1="419.50" x2="279.20" y2="421.20" stroke="#000" stroke-width="0.6"/>
<line x1="282.80" y1="419.50" x2="282.80" y2="421.20" stroke="#000" stroke-width="0.6"/>
<line x1="286.40" y1="419.50" x2="286.40" y2="421.20" stroke="#000" stroke-width="0.6"/>
<line x1="290.00" y1="419.50" x2="290.00" y2="421.20" stroke="#000" stroke-width="0.6"/>
<line x1="293.60" y1="419.50" x2="293.60" y2="421.20" stroke="#000" stroke-width="0.6"/>
<line x1="297.20" y1="419.50" x2="297.20" y2="421.20" stroke="#000" stroke-width="0.6"/>
<line x1="300.80" y1="419.50" x2="300.80" y2="421.20" stroke="#000" stroke-width="0.6"/>
<line x1="304.40" y1="419.50" x2="304.40" y2="421.20" stroke="#000" stroke-width="0.6"/>
<line x1="308.00" y1="419.50" x2="308.00" y2="421.20" stroke="#000" stroke-width="0.6"/>
<line x1="311.60" y1="419.50" x2="311.60" y2="421.20" stroke="#000" stroke-width="0.6"/>
<line x1="315.20" y1="419.50" x2="315.20" y2="421.20" stroke="#000" stroke-width="0.6"/>
<line x1="318.80" y1="419.50" x2="318.80" y2="421.20" stroke="#000" stroke-width="0.6"/>
<line x1="322.40" y1="419.50" x2="322.40" y2="421.20" stroke="#000" stroke-width="0.6"/>
<line x1="326.00" y1="419.50" x2="326.00" y2="421.20" stroke="#000" stroke-width="0.6"/>
<line x1="329.60" y1="419.50" x2="329.60" y2="421.20" stroke="#000" stroke-width="0.6"/>
<line x1="333.20" y1="419.50" x2="333.20" y2="421.20" stroke="#000" stroke-width="0.6"/>
<line x1="336.80" y1="419.50" x2="336.80" y2="421.20" stroke="#000" stroke-width="0.6"/>
<line x1="340.40" y1="419.50" x2="340.40" y2="421.20" stroke="#000" stroke-width="0.6"/>
<line x1="344.00" y1="419.50" x2="344.00" y2="421.20" stroke="#000" stroke-width="0.6"/>
<line x1="347.60" y1="419.50" x2="347.60" y2="421.20" stroke="#000" stroke-width="0.6"/>
<line x1="351.20" y1="419.50" x2="351.20" y2="421.20" stroke="#000" stroke-width="0.6"/>
<line x1="354.80" y1="419.50" x2="354.80" y2="421.20" stroke="#000" stroke-width="0.6"/>
<line x1="358.40" y1="419.50" x2="358.40" y2="421.20" stroke="#000" stroke-width="0.6"/>
<line x1="362.00" y1="419.50" x2="362.00" y2="421.20" stroke="#000" stroke-width="0.6"/>
<line x1="365.60" y1="419.50" x2="365.60" y2="421.20" stroke="#000" stroke-width="0.6"/>
<line x1="369.20" y1="419.50" x2="369.20" y2="421.20" stroke="#000" stroke-width="0.6"/>
<line x1="372.80" y1="419.50" x2="372.80" y2="421.20" stroke="#000" stroke-width="0.6"/>
<line x1="376.40" y1="419.50" x2="376.40" y2="421.20" stroke="#000" stroke-width="0.6"/>
<line x1="380.00" y1="419.50" x2="380.00" y2="421.20" stroke="#000" stroke-width="0.6"/>
<line x1="383.60" y1="419.50" x2="383.60" y2="421.20" stroke="#000" stroke-width="0.6"/>
<line x1="387.20" y1="419.50" x2="387.20" y2="421.20" stroke="#000" stroke-width="0.6"/>
<line x1="390.80" y1="419.50" x2="390.80" y2="421.20" stroke="#000" stroke-width="0.6"/>
<line x1="394.40" y1="419.50" x2="394.40" y2="421.20" stroke="#000" stroke-width="0.6"/>
<line x1="398.00" y1="419.50" x2="398.00" y2="421.20" stroke="#000" stroke-width="0.6"/>
<line x1="401.60" y1="419.50" x2="401.60" y2="421.20" stroke="#000" stroke-width="0.6"/>
<line x1="405.20" y1="419.50" x2="405.20" y2="421.20" stroke="#000" stroke-width="0.6"/>
<line x1="408.80" y1="419.50" x2="408.80" y2="421.20" stroke="#000" stroke-width="0.6"/>
<line x1="412.40" y1="419.50" x2="412.40" y2="421.20" stroke="#000" stroke-width="0.6"/>
<line x1="416.00" y1="419.50" x2="416.00" y2="421.20" stroke="#000" stroke-width="0.6"/>
<line x1="419.60" y1="419.50" x2="419.60" y2="421.20" stroke="#000" stroke-width="0.6"/>
<line x1="423.20" y1="419.50" x2="423.20" y2="421.20" stroke="#000" stroke-width="0.6"/>
<line x1="426.80" y1="419.50" x2="426.80" y2="421.20" stroke="#000" stroke-width="0.6"/>
<line x1="430.40" y1="419.50" x2="430.40" y2="421.20" stroke="#000" stroke-width="0.6"/>
<line x1="434.00" y1="419.50" x2="434.00" y2="421.20" stroke="#000" stroke-width="0.6"/>
<line x1="437.60" y1="419.50" x2="437.60" y2="421.20" stroke="#000" stroke-width="0.6"/>
<line x1="441.20" y1="419.50" x2="441.20" y2="421.20" stroke="#000" stroke-width="0.6"/>
<line x1="444.80" y1="419.50" x2="444.80" y2="421.20" stroke="#000" stroke-width="0.6"/>
<line x1="448.40" y1="419.50" x2="448.40" y2="421.20" stroke="#000" stroke-width="0.6"/>
<line x1="452.00" y1="419.50" x2="452.00" y2="421.20" stroke="#000" stroke-width="0.6"/>
<line x1="455.60" y1="419.50" x2="455.60" y2="421.20" stroke="#000" stroke-width="0.6"/>
<line x1="459.20" y1="419.50" x2="459.20" y2="421.20" stroke="#000" stroke-width="0.6"/>
<line x1="462.80" y1="419.50" x2="462.80" y2="421.20" stroke="#000" stroke-width="0.6"/>
<line x1="466.40" y1="419.50" x2="466.40" y2="421.20" stroke="#000" stroke-width="0.6"/>
<line x1="268.40" y1="419.50" x2="268.40" y2="422.10" stroke="#000" stroke-width="0.9"/>
<text x="268.40" y="430.00" font-size="5.0" font-weight="bold" text-anchor="middle" fill="#000" >0</text>
<line x1="304.40" y1="419.50" x2="304.40" y2="422.10" stroke="#000" stroke-width="0.9"/>
<text x="304.40" y="430.00" font-size="5.0" font-weight="bold" text-anchor="middle" fill="#000" >10</text>
<line x1="340.40" y1="419.50" x2="340.40" y2="422.10" stroke="#000" stroke-width="0.9"/>
<text x="340.40" y="430.00" font-size="5.0" font-weight="bold" text-anchor="middle" fill="#000" >20</text>
<line x1="376.40" y1="419.50" x2="376.40" y2="422.10" stroke="#000" stroke-width="0.9"/>
<text x="376.40" y="430.00" font-size="5.0" font-weight="bold" text-anchor="middle" fill="#000" >30</text>
<line x1="412.40" y1="419.50" x2="412.40" y2="422.10" stroke="#000" stroke-width="0.9"/>
<text x="412.40" y="430.00" font-size="5.0" font-weight="bold" text-anchor="middle" fill="#000" >40</text>
<line x1="448.40" y1="419.50" x2="448.40" y2="422.10" stroke="#000" stroke-width="0.9"/>
<text x="448.40" y="430.00" font-size="5.0" font-weight="bold" text-anchor="middle" fill="#000" >50</text>
<text x="374.40" y="439.40" font-size="5.6" font-weight="bold" text-anchor="middle" fill="#000" >Number of consistent DEGs</text>
<text x="156.00" y="452.80" font-size="8.1" font-weight="normal" text-anchor="middle" fill="#000" stroke="#000" style="stroke-width:0.5px">GO:Biological Processes</text>
<text x="155.40" y="462.00" font-size="8.1" font-weight="normal" text-anchor="middle" fill="#000" stroke="#000" style="stroke-width:0.5px">Upregulated genes</text>
<rect x="146.50" y="469.00" width="61.27" height="6.20" fill="#d04f2c" stroke="#111" stroke-width="1"/>
<line x1="141.90" y1="472.10" x2="146.50" y2="472.10" stroke="#000" stroke-width="0.9"/>
<text x="140.70" y="473.50" font-size="4.15" font-weight="bold" text-anchor="end" fill="#000" >Immune response</text>
<rect x="146.50" y="480.45" width="59.61" height="6.20" fill="#d04f2c" stroke="#111" stroke-width="1"/>
<line x1="141.90" y1="483.55" x2="146.50" y2="483.55" stroke="#000" stroke-width="0.9"/>
<text x="140.70" y="484.95" font-size="4.15" font-weight="bold" text-anchor="end" fill="#000" >Immune system process</text>
<rect x="146.50" y="491.90" width="40.50" height="6.20" fill="#d04f2c" stroke="#111" stroke-width="1"/>
<line x1="141.90" y1="495.00" x2="146.50" y2="495.00" stroke="#000" stroke-width="0.9"/>
<text x="140.70" y="496.40" font-size="4.15" font-weight="bold" text-anchor="end" fill="#000" >Cell activation</text>
<rect x="146.50" y="503.35" width="40.50" height="6.20" fill="#d04f2c" stroke="#111" stroke-width="1"/>
<line x1="141.90" y1="506.45" x2="146.50" y2="506.45" stroke="#000" stroke-width="0.9"/>
<text x="140.70" y="507.85" font-size="4.15" font-weight="bold" text-anchor="end" fill="#000" >Leukocyte activation</text>
<rect x="146.50" y="514.80" width="39.66" height="6.20" fill="#d04f2c" stroke="#111" stroke-width="1"/>
<line x1="141.90" y1="517.90" x2="146.50" y2="517.90" stroke="#000" stroke-width="0.9"/>
<text x="140.70" y="519.30" font-size="4.15" font-weight="bold" text-anchor="end" fill="#000" >Myeloid leukocyte activation</text>
<rect x="146.50" y="526.25" width="35.79" height="6.20" fill="#d04f2c" stroke="#111" stroke-width="1"/>
<line x1="141.90" y1="529.35" x2="146.50" y2="529.35" stroke="#000" stroke-width="0.9"/>
<text x="140.70" y="530.75" font-size="4.15" font-weight="bold" text-anchor="end" fill="#000" >Cell activation involved in immune response</text>
<rect x="146.50" y="537.70" width="35.79" height="6.20" fill="#d04f2c" stroke="#111" stroke-width="1"/>
<line x1="141.90" y1="540.80" x2="146.50" y2="540.80" stroke="#000" stroke-width="0.9"/>
<text x="140.70" y="542.20" font-size="4.15" font-weight="bold" text-anchor="end" fill="#000" >Leukocyte activation involved in immune response</text>
<rect x="146.50" y="549.15" width="35.79" height="6.20" fill="#d04f2c" stroke="#111" stroke-width="1"/>
<line x1="141.90" y1="552.25" x2="146.50" y2="552.25" stroke="#000" stroke-width="0.9"/>
<text x="140.70" y="553.65" font-size="4.15" font-weight="bold" text-anchor="end" fill="#000" >Myeloid cell activation involved in immune response</text>
<rect x="146.50" y="560.60" width="32.46" height="6.20" fill="#d04f2c" stroke="#111" stroke-width="1"/>
<line x1="141.90" y1="563.70" x2="146.50" y2="563.70" stroke="#000" stroke-width="0.9"/>
<text x="140.70" y="565.10" font-size="4.15" font-weight="bold" text-anchor="end" fill="#000" >Neutrophil activation</text>
<rect x="146.50" y="572.05" width="32.46" height="6.20" fill="#d04f2c" stroke="#111" stroke-width="1"/>
<line x1="141.90" y1="575.15" x2="146.50" y2="575.15" stroke="#000" stroke-width="0.9"/>
<text x="140.70" y="576.55" font-size="4.15" font-weight="bold" text-anchor="end" fill="#000" >Granulocyte activation</text>
<line x1="146.50" y1="464.60" x2="146.50" y2="582.90" stroke="#000" stroke-width="1.2"/>
<line x1="145.90" y1="582.30" x2="216.35" y2="582.30" stroke="#000" stroke-width="1.2"/>
<line x1="146.50" y1="582.30" x2="146.50" y2="585.50" stroke="#000" stroke-width="1.1"/>
<text x="146.50" y="594.50" font-size="8.7" font-weight="normal" text-anchor="middle" fill="#000" stroke="#000" style="stroke-width:0.5px">0</text>
<line x1="160.35" y1="582.30" x2="160.35" y2="585.50" stroke="#000" stroke-width="1.1"/>
<text x="160.35" y="594.50" font-size="8.7" font-weight="normal" text-anchor="middle" fill="#000" stroke="#000" style="stroke-width:0.5px">5</text>
<line x1="174.20" y1="582.30" x2="174.20" y2="585.50" stroke="#000" stroke-width="1.1"/>
<text x="174.20" y="594.50" font-size="8.7" font-weight="normal" text-anchor="middle" fill="#000" stroke="#000" style="stroke-width:0.5px">10</text>
<line x1="188.05" y1="582.30" x2="188.05" y2="585.50" stroke="#000" stroke-width="1.1"/>
<text x="188.05" y="594.50" font-size="8.7" font-weight="normal" text-anchor="middle" fill="#000" stroke="#000" style="stroke-width:0.5px">15</text>
<line x1="201.90" y1="582.30" x2="201.90" y2="585.50" stroke="#000" stroke-width="1.1"/>
<text x="201.90" y="594.50" font-size="8.7" font-weight="normal" text-anchor="middle" fill="#000" stroke="#000" style="stroke-width:0.5px">20</text>
<line x1="215.75" y1="582.30" x2="215.75" y2="585.50" stroke="#000" stroke-width="1.1"/>
<text x="215.75" y="594.50" font-size="8.7" font-weight="normal" text-anchor="middle" fill="#000" stroke="#000" style="stroke-width:0.5px">25</text>
<text x="180.50" y="601.80" font-size="5.8" font-weight="bold" text-anchor="middle" fill="#000" >-log<tspan font-size="3.8" dy="1.2">10</tspan><tspan dy="-1.2">(adjusted p value)</tspan></text>
<text x="366.00" y="452.80" font-size="8.1" font-weight="normal" text-anchor="middle" fill="#000" stroke="#000" style="stroke-width:0.5px">GO:Biological Processes</text>
<text x="366.90" y="462.00" font-size="8.1" font-weight="normal" text-anchor="middle" fill="#000" stroke="#000" style="stroke-width:0.5px">Downregulated genes</text>
<rect x="362.50" y="469.00" width="64.88" height="6.20" fill="#3c3f96" stroke="#111" stroke-width="1"/>
<line x1="357.90" y1="472.10" x2="362.50" y2="472.10" stroke="#000" stroke-width="0.9"/>
<text x="356.70" y="473.50" font-size="4.15" font-weight="bold" text-anchor="end" fill="#000" >Co-translational protein targeting to membrane</text>
<rect x="362.50" y="480.45" width="64.88" height="6.20" fill="#3c3f96" stroke="#111" stroke-width="1"/>
<line x1="357.90" y1="483.55" x2="362.50" y2="483.55" stroke="#000" stroke-width="0.9"/>
<text x="356.70" y="484.95" font-size="4.15" font-weight="bold" text-anchor="end" fill="#000" >SRP-dependent co-translational protein targeting to membrane</text>
<rect x="362.50" y="491.90" width="64.88" height="6.20" fill="#3c3f96" stroke="#111" stroke-width="1"/>
<line x1="357.90" y1="495.00" x2="362.50" y2="495.00" stroke="#000" stroke-width="0.9"/>
<text x="356.70" y="496.40" font-size="4.15" font-weight="bold" text-anchor="end" fill="#000" >Protein targeting to ER</text>
<rect x="362.50" y="503.35" width="62.56" height="6.20" fill="#3c3f96" stroke="#111" stroke-width="1"/>
<line x1="357.90" y1="506.45" x2="362.50" y2="506.45" stroke="#000" stroke-width="0.9"/>
<text x="356.70" y="507.85" font-size="4.15" font-weight="bold" text-anchor="end" fill="#000" >Establishment of protein localization to endoplasmic reticulum</text>
<rect x="362.50" y="514.80" width="52.62" height="6.20" fill="#3c3f96" stroke="#111" stroke-width="1"/>
<line x1="357.90" y1="517.90" x2="362.50" y2="517.90" stroke="#000" stroke-width="0.9"/>
<text x="356.70" y="519.30" font-size="4.15" font-weight="bold" text-anchor="end" fill="#000" >Peptide metabolic process</text>
<rect x="362.50" y="526.25" width="52.62" height="6.20" fill="#3c3f96" stroke="#111" stroke-width="1"/>
<line x1="357.90" y1="529.35" x2="362.50" y2="529.35" stroke="#000" stroke-width="0.9"/>
<text x="356.70" y="530.75" font-size="4.15" font-weight="bold" text-anchor="end" fill="#000" >Protein localization to endoplasmic reticulum</text>
<rect x="362.50" y="537.70" width="52.62" height="6.20" fill="#3c3f96" stroke="#111" stroke-width="1"/>
<line x1="357.90" y1="540.80" x2="362.50" y2="540.80" stroke="#000" stroke-width="0.9"/>
<text x="356.70" y="542.20" font-size="4.15" font-weight="bold" text-anchor="end" fill="#000" >Cellular amide metabolic process</text>
<rect x="362.50" y="549.15" width="51.94" height="6.20" fill="#3c3f96" stroke="#111" stroke-width="1"/>
<line x1="357.90" y1="552.25" x2="362.50" y2="552.25" stroke="#000" stroke-width="0.9"/>
<text x="356.70" y="553.65" font-size="4.15" font-weight="bold" text-anchor="end" fill="#000" >Peptide biosynthetic process</text>
<rect x="362.50" y="560.60" width="50.57" height="6.20" fill="#3c3f96" stroke="#111" stroke-width="1"/>
<line x1="357.90" y1="563.70" x2="362.50" y2="563.70" stroke="#000" stroke-width="0.9"/>
<text x="356.70" y="565.10" font-size="4.15" font-weight="bold" text-anchor="end" fill="#000" >Translation</text>
<rect x="362.50" y="572.05" width="50.57" height="6.20" fill="#3c3f96" stroke="#111" stroke-width="1"/>
<line x1="357.90" y1="575.15" x2="362.50" y2="575.15" stroke="#000" stroke-width="0.9"/>
<text x="356.70" y="576.55" font-size="4.15" font-weight="bold" text-anchor="end" fill="#000" >Amide biosynthetic process</text>
<line x1="362.50" y1="464.60" x2="362.50" y2="582.90" stroke="#000" stroke-width="1.2"/>
<line x1="361.90" y1="582.30" x2="431.20" y2="582.30" stroke="#000" stroke-width="1.2"/>
<line x1="362.50" y1="582.30" x2="362.50" y2="585.50" stroke="#000" stroke-width="1.1"/>
<text x="362.50" y="594.50" font-size="8.7" font-weight="normal" text-anchor="middle" fill="#000" stroke="#000" style="stroke-width:0.5px">0</text>
<line x1="376.12" y1="582.30" x2="376.12" y2="585.50" stroke="#000" stroke-width="1.1"/>
<text x="376.12" y="594.50" font-size="8.7" font-weight="normal" text-anchor="middle" fill="#000" stroke="#000" style="stroke-width:0.5px">2</text>
<line x1="389.74" y1="582.30" x2="389.74" y2="585.50" stroke="#000" stroke-width="1.1"/>
<text x="389.74" y="594.50" font-size="8.7" font-weight="normal" text-anchor="middle" fill="#000" stroke="#000" style="stroke-width:0.5px">4</text>
<line x1="403.36" y1="582.30" x2="403.36" y2="585.50" stroke="#000" stroke-width="1.1"/>
<text x="403.36" y="594.50" font-size="8.7" font-weight="normal" text-anchor="middle" fill="#000" stroke="#000" style="stroke-width:0.5px">6</text>
<line x1="416.98" y1="582.30" x2="416.98" y2="585.50" stroke="#000" stroke-width="1.1"/>
<text x="416.98" y="594.50" font-size="8.7" font-weight="normal" text-anchor="middle" fill="#000" stroke="#000" style="stroke-width:0.5px">8</text>
<line x1="430.60" y1="582.30" x2="430.60" y2="585.50" stroke="#000" stroke-width="1.1"/>
<text x="430.60" y="594.50" font-size="8.7" font-weight="normal" text-anchor="middle" fill="#000" stroke="#000" style="stroke-width:0.5px">10</text>
<text x="398.00" y="601.80" font-size="5.8" font-weight="bold" text-anchor="middle" fill="#000" >-log<tspan font-size="3.8" dy="1.2">10</tspan><tspan dy="-1.2">(adjusted p value)</tspan></text>
</svg></body></html>
